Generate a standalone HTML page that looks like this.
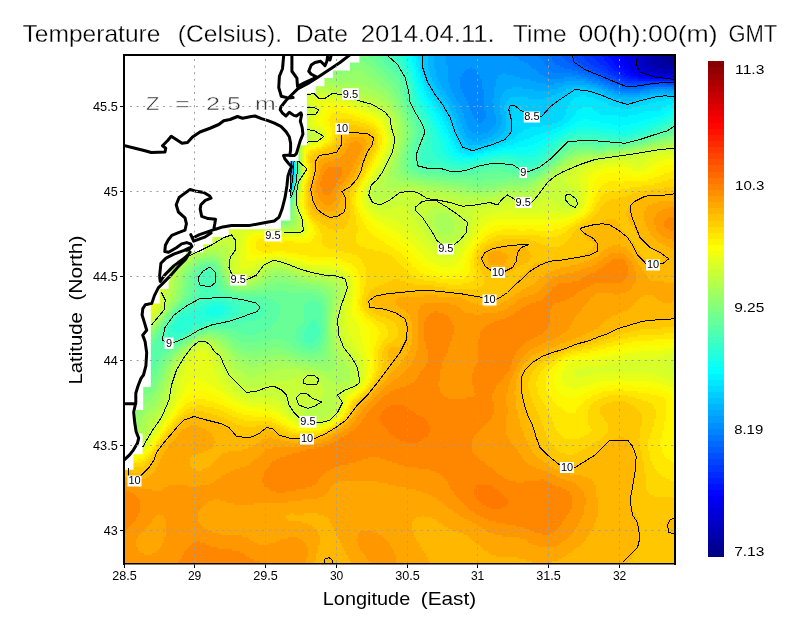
<!DOCTYPE html><html><head><meta charset="utf-8"><style>html,body{margin:0;padding:0;background:#fff;overflow:hidden}svg{display:block}</style></head><body><svg width="800" height="618" viewBox="0 0 800 618"><rect width="800" height="618" fill="#fff"/><g shape-rendering="crispEdges"><path fill="#000087" d="M668 55h7v2h-7zM672 57h3v2h-3z"/><path fill="#000097" d="M660 55h8v2h-8zM662 57h10v2h-10zM662 59h13v2h-13zM664 61h11v2h-11zM666 63h9v2h-9z"/><path fill="#0000a7" d="M650 55h10v2h-10zM652 57h10v2h-10zM652 59h10v2h-10zM652 61h12v2h-12zM654 63h12v2h-12zM656 65h19v2h-19zM660 67h15v2h-15z"/><path fill="#0000b7" d="M644 55h6v2h-6zM644 57h8v2h-8zM644 59h8v2h-8zM644 61h8v2h-8zM646 63h8v2h-8zM646 65h10v2h-10zM648 67h12v2h-12zM652 69h23v2h-23zM660 71h14v2h-14z"/><path fill="#0000c7" d="M638 55h6v2h-6zM638 57h6v2h-6zM638 59h6v2h-6zM638 61h6v2h-6zM640 63h6v2h-6zM640 65h6v2h-6zM642 67h6v2h-6zM644 69h8v2h-8zM648 71h12v2h-12zM674 71h1v2h-1zM658 73h17v2h-17z"/><path fill="#0000d7" d="M630 55h8v2h-8zM632 57h6v2h-6zM632 59h6v2h-6zM634 61h4v2h-4zM634 63h6v2h-6zM634 65h6v2h-6zM636 67h6v2h-6zM638 69h6v2h-6zM642 71h6v2h-6zM646 73h12v2h-12zM660 75h14v2h-14z"/><path fill="#0000e7" d="M622 55h8v2h-8zM624 57h8v2h-8zM626 59h6v2h-6zM626 61h8v2h-8zM628 63h6v2h-6zM630 65h4v2h-4zM630 67h6v2h-6zM632 69h6v2h-6zM636 71h6v2h-6zM640 73h6v2h-6zM648 75h12v2h-12zM674 75h1v2h-1z"/><path fill="#0000f7" d="M616 55h6v2h-6zM618 57h6v2h-6zM618 59h8v2h-8zM620 61h6v2h-6zM622 63h6v2h-6zM624 65h6v2h-6zM624 67h6v2h-6zM628 69h4v2h-4zM630 71h6v2h-6zM634 73h6v2h-6zM638 75h10v2h-10zM650 77h25v2h-25z"/><path fill="#0008ff" d="M608 55h8v2h-8zM610 57h8v2h-8zM612 59h6v2h-6zM614 61h6v2h-6zM614 63h8v2h-8zM616 65h8v2h-8zM618 67h6v2h-6zM622 69h6v2h-6zM624 71h6v2h-6zM626 73h8v2h-8zM630 75h8v2h-8zM638 77h12v2h-12z"/><path fill="#0018ff" d="M602 55h6v2h-6zM604 57h6v2h-6zM604 59h8v2h-8zM606 61h8v2h-8zM608 63h6v2h-6zM610 65h6v2h-6zM612 67h6v2h-6zM614 69h8v2h-8zM618 71h6v2h-6zM620 73h6v2h-6zM624 75h6v2h-6zM628 77h10v2h-10zM638 79h37v2h-37z"/><path fill="#0028ff" d="M592 55h10v2h-10zM594 57h10v2h-10zM596 59h8v2h-8zM598 61h8v2h-8zM600 63h8v2h-8zM604 65h6v2h-6zM606 67h6v2h-6zM608 69h6v2h-6zM610 71h8v2h-8zM614 73h6v2h-6zM618 75h6v2h-6zM622 77h6v2h-6zM626 79h12v2h-12zM670 81h5v2h-5z"/><path fill="#0038ff" d="M582 55h10v2h-10zM584 57h10v2h-10zM586 59h10v2h-10zM588 61h10v2h-10zM590 63h10v2h-10zM594 65h10v2h-10zM598 67h8v2h-8zM600 69h8v2h-8zM604 71h6v2h-6zM608 73h6v2h-6zM612 75h6v2h-6zM616 77h6v2h-6zM620 79h6v2h-6zM624 81h46v2h-46z"/><path fill="#0048ff" d="M574 55h8v2h-8zM574 57h10v2h-10zM576 59h10v2h-10zM578 61h10v2h-10zM582 63h8v2h-8zM584 65h10v2h-10zM588 67h10v2h-10zM592 69h8v2h-8zM596 71h8v2h-8zM600 73h8v2h-8zM604 75h8v2h-8zM608 77h8v2h-8zM614 79h6v2h-6zM618 81h6v2h-6zM624 83h30v2h-30zM666 83h9v2h-9z"/><path fill="#0058ff" d="M562 55h12v2h-12zM564 57h10v2h-10zM566 59h10v2h-10zM568 61h10v2h-10zM572 63h10v2h-10zM574 65h10v2h-10zM578 67h10v2h-10zM582 69h10v2h-10zM588 71h8v2h-8zM592 73h8v2h-8zM598 75h6v2h-6zM602 77h6v2h-6zM606 79h8v2h-8zM612 81h6v2h-6zM616 83h8v2h-8zM654 83h12v2h-12zM622 85h24v2h-24z"/><path fill="#0068ff" d="M550 55h12v2h-12zM552 57h12v2h-12zM552 59h14v2h-14zM554 61h14v2h-14zM556 63h16v2h-16zM560 65h14v2h-14zM564 67h14v2h-14zM572 69h10v2h-10zM578 71h10v2h-10zM584 73h8v2h-8zM590 75h8v2h-8zM596 77h6v2h-6zM600 79h6v2h-6zM606 81h6v2h-6zM610 83h6v2h-6zM616 85h6v2h-6zM646 85h29v2h-29zM622 87h22v2h-22zM290 167h2v2h-2zM290 169h2v2h-2zM290 171h2v2h-2z"/><path fill="#0078ff" d="M538 55h12v2h-12zM540 57h12v2h-12zM542 59h10v2h-10zM544 61h10v2h-10zM544 63h12v2h-12zM546 65h14v2h-14zM548 67h16v2h-16zM550 69h22v2h-22zM552 71h26v2h-26zM572 73h12v2h-12zM580 75h10v2h-10zM588 77h8v2h-8zM594 79h6v2h-6zM600 81h6v2h-6zM604 83h6v2h-6zM610 85h6v2h-6zM614 87h8v2h-8zM644 87h10v2h-10zM672 87h3v2h-3zM620 89h22v2h-22zM290 163h2v2h-2zM290 165h2v2h-2zM290 173h2v2h-2zM290 175h2v2h-2z"/><path fill="#0087ff" d="M514 55h24v2h-24zM518 57h22v2h-22zM520 59h22v2h-22zM524 61h20v2h-20zM528 63h16v2h-16zM530 65h16v2h-16zM470 67h2v2h-2zM532 67h16v2h-16zM466 69h10v2h-10zM536 69h14v2h-14zM464 71h14v2h-14zM538 71h14v2h-14zM462 73h16v2h-16zM540 73h32v2h-32zM462 75h18v2h-18zM544 75h36v2h-36zM460 77h20v2h-20zM548 77h16v2h-16zM576 77h12v2h-12zM460 79h22v2h-22zM586 79h8v2h-8zM460 81h22v2h-22zM592 81h8v2h-8zM460 83h22v2h-22zM598 83h6v2h-6zM460 85h22v2h-22zM604 85h6v2h-6zM460 87h22v2h-22zM608 87h6v2h-6zM654 87h18v2h-18zM462 89h22v2h-22zM614 89h6v2h-6zM642 89h8v2h-8zM462 91h22v2h-22zM620 91h20v2h-20zM464 93h20v2h-20zM464 95h20v2h-20zM466 97h18v2h-18zM466 99h18v2h-18zM468 101h16v2h-16zM468 103h16v2h-16zM470 105h14v2h-14zM470 107h14v2h-14zM470 109h14v2h-14zM472 111h14v2h-14zM472 113h14v2h-14zM474 115h12v2h-12zM474 117h12v2h-12zM476 119h8v2h-8zM478 121h4v2h-4zM290 161h2v2h-2zM290 177h2v2h-2zM290 179h2v2h-2z"/><path fill="#0097ff" d="M446 55h68v2h-68zM446 57h72v2h-72zM446 59h74v2h-74zM446 61h78v2h-78zM446 63h82v2h-82zM448 65h82v2h-82zM448 67h22v2h-22zM472 67h60v2h-60zM448 69h18v2h-18zM476 69h60v2h-60zM448 71h16v2h-16zM478 71h60v2h-60zM448 73h14v2h-14zM478 73h24v2h-24zM506 73h34v2h-34zM448 75h14v2h-14zM480 75h18v2h-18zM514 75h30v2h-30zM448 77h12v2h-12zM480 77h18v2h-18zM520 77h28v2h-28zM564 77h12v2h-12zM448 79h12v2h-12zM482 79h14v2h-14zM530 79h56v2h-56zM448 81h12v2h-12zM482 81h14v2h-14zM536 81h28v2h-28zM584 81h8v2h-8zM450 83h10v2h-10zM482 83h14v2h-14zM546 83h8v2h-8zM590 83h8v2h-8zM450 85h10v2h-10zM482 85h14v2h-14zM598 85h6v2h-6zM450 87h10v2h-10zM482 87h12v2h-12zM602 87h6v2h-6zM452 89h10v2h-10zM484 89h10v2h-10zM608 89h6v2h-6zM650 89h25v2h-25zM452 91h10v2h-10zM484 91h10v2h-10zM614 91h6v2h-6zM640 91h10v2h-10zM454 93h10v2h-10zM484 93h10v2h-10zM618 93h22v2h-22zM454 95h10v2h-10zM484 95h10v2h-10zM456 97h10v2h-10zM484 97h10v2h-10zM456 99h10v2h-10zM484 99h8v2h-8zM458 101h10v2h-10zM484 101h8v2h-8zM460 103h8v2h-8zM484 103h10v2h-10zM460 105h10v2h-10zM484 105h10v2h-10zM460 107h10v2h-10zM484 107h10v2h-10zM462 109h8v2h-8zM484 109h10v2h-10zM462 111h10v2h-10zM486 111h8v2h-8zM464 113h8v2h-8zM486 113h8v2h-8zM464 115h10v2h-10zM486 115h10v2h-10zM464 117h10v2h-10zM486 117h10v2h-10zM466 119h10v2h-10zM484 119h12v2h-12zM466 121h12v2h-12zM482 121h14v2h-14zM466 123h30v2h-30zM468 125h26v2h-26zM468 127h24v2h-24zM470 129h20v2h-20zM472 131h16v2h-16zM476 133h6v2h-6zM290 181h2v2h-2zM290 183h2v2h-2z"/><path fill="#00a7ff" d="M434 55h12v2h-12zM434 57h12v2h-12zM434 59h12v2h-12zM434 61h12v2h-12zM434 63h12v2h-12zM434 65h14v2h-14zM434 67h14v2h-14zM436 69h12v2h-12zM436 71h12v2h-12zM436 73h12v2h-12zM502 73h4v2h-4zM436 75h12v2h-12zM498 75h16v2h-16zM438 77h10v2h-10zM498 77h22v2h-22zM438 79h10v2h-10zM496 79h34v2h-34zM440 81h8v2h-8zM496 81h40v2h-40zM564 81h20v2h-20zM440 83h10v2h-10zM496 83h50v2h-50zM554 83h36v2h-36zM442 85h8v2h-8zM496 85h68v2h-68zM590 85h8v2h-8zM442 87h8v2h-8zM494 87h18v2h-18zM522 87h36v2h-36zM596 87h6v2h-6zM444 89h8v2h-8zM494 89h12v2h-12zM534 89h16v2h-16zM602 89h6v2h-6zM446 91h6v2h-6zM494 91h10v2h-10zM606 91h8v2h-8zM650 91h25v2h-25zM446 93h8v2h-8zM494 93h8v2h-8zM612 93h6v2h-6zM640 93h10v2h-10zM448 95h6v2h-6zM494 95h8v2h-8zM618 95h22v2h-22zM450 97h6v2h-6zM494 97h6v2h-6zM450 99h6v2h-6zM492 99h8v2h-8zM452 101h6v2h-6zM492 101h8v2h-8zM452 103h8v2h-8zM494 103h6v2h-6zM454 105h6v2h-6zM494 105h6v2h-6zM454 107h6v2h-6zM494 107h6v2h-6zM456 109h6v2h-6zM494 109h6v2h-6zM456 111h6v2h-6zM494 111h6v2h-6zM458 113h6v2h-6zM494 113h6v2h-6zM458 115h6v2h-6zM496 115h6v2h-6zM460 117h4v2h-4zM496 117h6v2h-6zM460 119h6v2h-6zM496 119h6v2h-6zM460 121h6v2h-6zM496 121h6v2h-6zM462 123h4v2h-4zM496 123h6v2h-6zM462 125h6v2h-6zM494 125h6v2h-6zM462 127h6v2h-6zM492 127h8v2h-8zM464 129h6v2h-6zM490 129h8v2h-8zM464 131h8v2h-8zM488 131h10v2h-10zM466 133h10v2h-10zM482 133h12v2h-12zM466 135h26v2h-26zM468 137h20v2h-20zM472 139h10v2h-10zM292 167h2v2h-2zM292 169h2v2h-2zM292 171h2v2h-2zM290 185h2v2h-2z"/><path fill="#00b7ff" d="M428 55h6v2h-6zM428 57h6v2h-6zM428 59h6v2h-6zM428 61h6v2h-6zM428 63h6v2h-6zM428 65h6v2h-6zM428 67h6v2h-6zM428 69h8v2h-8zM430 71h6v2h-6zM430 73h6v2h-6zM430 75h6v2h-6zM432 77h6v2h-6zM432 79h6v2h-6zM434 81h6v2h-6zM434 83h6v2h-6zM436 85h6v2h-6zM564 85h26v2h-26zM436 87h6v2h-6zM512 87h10v2h-10zM558 87h14v2h-14zM586 87h10v2h-10zM438 89h6v2h-6zM506 89h28v2h-28zM550 89h16v2h-16zM594 89h8v2h-8zM440 91h6v2h-6zM504 91h58v2h-58zM600 91h6v2h-6zM440 93h6v2h-6zM502 93h54v2h-54zM604 93h8v2h-8zM650 93h25v2h-25zM442 95h6v2h-6zM502 95h50v2h-50zM610 95h8v2h-8zM640 95h10v2h-10zM444 97h6v2h-6zM500 97h10v2h-10zM528 97h18v2h-18zM614 97h28v2h-28zM444 99h6v2h-6zM500 99h8v2h-8zM622 99h12v2h-12zM446 101h6v2h-6zM500 101h6v2h-6zM448 103h4v2h-4zM500 103h6v2h-6zM448 105h6v2h-6zM500 105h4v2h-4zM450 107h4v2h-4zM500 107h4v2h-4zM450 109h6v2h-6zM500 109h4v2h-4zM452 111h4v2h-4zM500 111h6v2h-6zM452 113h6v2h-6zM500 113h6v2h-6zM454 115h4v2h-4zM502 115h4v2h-4zM454 117h6v2h-6zM502 117h4v2h-4zM456 119h4v2h-4zM502 119h4v2h-4zM456 121h4v2h-4zM502 121h4v2h-4zM456 123h6v2h-6zM502 123h4v2h-4zM458 125h4v2h-4zM500 125h6v2h-6zM458 127h4v2h-4zM500 127h6v2h-6zM458 129h6v2h-6zM498 129h8v2h-8zM460 131h4v2h-4zM498 131h6v2h-6zM460 133h6v2h-6zM494 133h8v2h-8zM462 135h4v2h-4zM492 135h8v2h-8zM462 137h6v2h-6zM488 137h10v2h-10zM464 139h8v2h-8zM482 139h12v2h-12zM466 141h22v2h-22zM468 143h14v2h-14zM292 161h2v2h-2zM292 163h2v2h-2zM292 165h2v2h-2zM292 173h2v2h-2zM292 175h2v2h-2zM290 187h2v2h-2z"/><path fill="#00c7ff" d="M422 55h6v2h-6zM422 57h6v2h-6zM422 59h6v2h-6zM424 61h4v2h-4zM424 63h4v2h-4zM424 65h4v2h-4zM424 67h4v2h-4zM424 69h4v2h-4zM424 71h6v2h-6zM426 73h4v2h-4zM426 75h4v2h-4zM426 77h6v2h-6zM428 79h4v2h-4zM428 81h6v2h-6zM430 83h4v2h-4zM430 85h6v2h-6zM432 87h4v2h-4zM572 87h14v2h-14zM432 89h6v2h-6zM566 89h28v2h-28zM434 91h6v2h-6zM562 91h10v2h-10zM590 91h10v2h-10zM436 93h4v2h-4zM556 93h12v2h-12zM596 93h8v2h-8zM436 95h6v2h-6zM552 95h14v2h-14zM602 95h8v2h-8zM650 95h25v2h-25zM438 97h6v2h-6zM510 97h18v2h-18zM546 97h16v2h-16zM606 97h8v2h-8zM642 97h12v2h-12zM440 99h4v2h-4zM508 99h52v2h-52zM612 99h10v2h-10zM634 99h12v2h-12zM440 101h6v2h-6zM506 101h52v2h-52zM616 101h22v2h-22zM442 103h6v2h-6zM506 103h50v2h-50zM626 103h2v2h-2zM444 105h4v2h-4zM504 105h50v2h-50zM444 107h6v2h-6zM504 107h8v2h-8zM522 107h30v2h-30zM446 109h4v2h-4zM504 109h8v2h-8zM524 109h26v2h-26zM448 111h4v2h-4zM506 111h6v2h-6zM528 111h20v2h-20zM448 113h4v2h-4zM506 113h6v2h-6zM532 113h12v2h-12zM450 115h4v2h-4zM506 115h6v2h-6zM450 117h4v2h-4zM506 117h6v2h-6zM450 119h6v2h-6zM506 119h6v2h-6zM452 121h4v2h-4zM506 121h6v2h-6zM452 123h4v2h-4zM506 123h6v2h-6zM454 125h4v2h-4zM506 125h6v2h-6zM454 127h4v2h-4zM506 127h6v2h-6zM454 129h4v2h-4zM506 129h6v2h-6zM456 131h4v2h-4zM504 131h6v2h-6zM456 133h4v2h-4zM502 133h8v2h-8zM458 135h4v2h-4zM500 135h8v2h-8zM458 137h4v2h-4zM498 137h8v2h-8zM460 139h4v2h-4zM494 139h8v2h-8zM460 141h6v2h-6zM488 141h10v2h-10zM462 143h6v2h-6zM482 143h10v2h-10zM464 145h22v2h-22zM468 147h10v2h-10zM292 177h2v2h-2zM292 179h2v2h-2zM290 189h2v2h-2z"/><path fill="#00d7ff" d="M418 55h4v2h-4zM418 57h4v2h-4zM420 59h2v2h-2zM420 61h4v2h-4zM420 63h4v2h-4zM420 65h4v2h-4zM420 67h4v2h-4zM420 69h4v2h-4zM422 71h2v2h-2zM422 73h4v2h-4zM422 75h4v2h-4zM424 77h2v2h-2zM424 79h4v2h-4zM424 81h4v2h-4zM426 83h4v2h-4zM426 85h4v2h-4zM428 87h4v2h-4zM428 89h4v2h-4zM430 91h4v2h-4zM572 91h18v2h-18zM430 93h6v2h-6zM568 93h28v2h-28zM432 95h4v2h-4zM566 95h14v2h-14zM586 95h16v2h-16zM434 97h4v2h-4zM562 97h12v2h-12zM594 97h12v2h-12zM654 97h21v2h-21zM434 99h6v2h-6zM560 99h12v2h-12zM598 99h14v2h-14zM646 99h20v2h-20zM672 99h3v2h-3zM436 101h4v2h-4zM558 101h12v2h-12zM604 101h12v2h-12zM638 101h18v2h-18zM438 103h4v2h-4zM556 103h14v2h-14zM608 103h18v2h-18zM628 103h20v2h-20zM438 105h6v2h-6zM554 105h14v2h-14zM612 105h28v2h-28zM440 107h4v2h-4zM512 107h10v2h-10zM552 107h16v2h-16zM620 107h12v2h-12zM442 109h4v2h-4zM512 109h12v2h-12zM550 109h16v2h-16zM442 111h6v2h-6zM512 111h16v2h-16zM548 111h18v2h-18zM444 113h4v2h-4zM512 113h20v2h-20zM544 113h22v2h-22zM444 115h6v2h-6zM512 115h52v2h-52zM446 117h4v2h-4zM512 117h52v2h-52zM446 119h4v2h-4zM512 119h50v2h-50zM448 121h4v2h-4zM512 121h46v2h-46zM448 123h4v2h-4zM512 123h40v2h-40zM450 125h4v2h-4zM512 125h30v2h-30zM450 127h4v2h-4zM512 127h18v2h-18zM452 129h2v2h-2zM512 129h12v2h-12zM452 131h4v2h-4zM510 131h12v2h-12zM454 133h2v2h-2zM510 133h8v2h-8zM454 135h4v2h-4zM508 135h8v2h-8zM456 137h2v2h-2zM506 137h8v2h-8zM456 139h4v2h-4zM502 139h8v2h-8zM456 141h4v2h-4zM498 141h8v2h-8zM458 143h4v2h-4zM492 143h10v2h-10zM460 145h4v2h-4zM486 145h10v2h-10zM460 147h8v2h-8zM478 147h10v2h-10zM464 149h18v2h-18zM292 181h2v2h-2zM290 191h2v2h-2z"/><path fill="#00e7ff" d="M414 55h4v2h-4zM416 57h2v2h-2zM416 59h4v2h-4zM416 61h4v2h-4zM416 63h4v2h-4zM416 65h4v2h-4zM418 67h2v2h-2zM418 69h2v2h-2zM418 71h4v2h-4zM420 73h2v2h-2zM420 75h2v2h-2zM420 77h4v2h-4zM422 79h2v2h-2zM422 81h2v2h-2zM422 83h4v2h-4zM424 85h2v2h-2zM424 87h4v2h-4zM424 89h4v2h-4zM426 91h4v2h-4zM426 93h4v2h-4zM428 95h4v2h-4zM580 95h6v2h-6zM428 97h6v2h-6zM574 97h20v2h-20zM430 99h4v2h-4zM572 99h26v2h-26zM666 99h6v2h-6zM432 101h4v2h-4zM570 101h34v2h-34zM656 101h19v2h-19zM432 103h6v2h-6zM570 103h38v2h-38zM648 103h24v2h-24zM434 105h4v2h-4zM568 105h44v2h-44zM640 105h26v2h-26zM436 107h4v2h-4zM568 107h14v2h-14zM592 107h28v2h-28zM632 107h30v2h-30zM436 109h6v2h-6zM566 109h12v2h-12zM594 109h66v2h-66zM438 111h4v2h-4zM566 111h10v2h-10zM598 111h46v2h-46zM440 113h4v2h-4zM566 113h10v2h-10zM600 113h38v2h-38zM440 115h4v2h-4zM564 115h10v2h-10zM618 115h10v2h-10zM442 117h4v2h-4zM564 117h8v2h-8zM442 119h4v2h-4zM562 119h8v2h-8zM444 121h4v2h-4zM558 121h10v2h-10zM444 123h4v2h-4zM552 123h12v2h-12zM446 125h4v2h-4zM542 125h20v2h-20zM446 127h4v2h-4zM530 127h26v2h-26zM448 129h4v2h-4zM524 129h28v2h-28zM448 131h4v2h-4zM522 131h24v2h-24zM450 133h4v2h-4zM518 133h22v2h-22zM450 135h4v2h-4zM516 135h18v2h-18zM452 137h4v2h-4zM514 137h16v2h-16zM452 139h4v2h-4zM510 139h14v2h-14zM454 141h2v2h-2zM506 141h12v2h-12zM454 143h4v2h-4zM502 143h12v2h-12zM456 145h4v2h-4zM496 145h10v2h-10zM456 147h4v2h-4zM488 147h10v2h-10zM458 149h6v2h-6zM482 149h10v2h-10zM460 151h24v2h-24zM466 153h8v2h-8zM292 183h2v2h-2zM292 185h2v2h-2z"/><path fill="#00f7ff" d="M412 55h2v2h-2zM412 57h4v2h-4zM412 59h4v2h-4zM412 61h4v2h-4zM414 63h2v2h-2zM414 65h2v2h-2zM414 67h4v2h-4zM416 69h2v2h-2zM416 71h2v2h-2zM416 73h4v2h-4zM416 75h4v2h-4zM418 77h2v2h-2zM418 79h4v2h-4zM418 81h4v2h-4zM420 83h2v2h-2zM420 85h4v2h-4zM420 87h4v2h-4zM422 89h2v2h-2zM422 91h4v2h-4zM424 93h2v2h-2zM424 95h4v2h-4zM426 97h2v2h-2zM426 99h4v2h-4zM428 101h4v2h-4zM428 103h4v2h-4zM672 103h3v2h-3zM430 105h4v2h-4zM666 105h9v2h-9zM432 107h4v2h-4zM582 107h10v2h-10zM662 107h13v2h-13zM432 109h4v2h-4zM578 109h16v2h-16zM660 109h10v2h-10zM434 111h4v2h-4zM576 111h22v2h-22zM644 111h22v2h-22zM436 113h4v2h-4zM576 113h24v2h-24zM638 113h26v2h-26zM436 115h4v2h-4zM574 115h44v2h-44zM628 115h32v2h-32zM438 117h4v2h-4zM572 117h80v2h-80zM438 119h4v2h-4zM570 119h12v2h-12zM590 119h54v2h-54zM440 121h4v2h-4zM568 121h8v2h-8zM600 121h38v2h-38zM440 123h4v2h-4zM564 123h10v2h-10zM612 123h18v2h-18zM442 125h4v2h-4zM562 125h8v2h-8zM442 127h4v2h-4zM556 127h10v2h-10zM444 129h4v2h-4zM552 129h10v2h-10zM444 131h4v2h-4zM546 131h12v2h-12zM446 133h4v2h-4zM540 133h14v2h-14zM448 135h2v2h-2zM534 135h16v2h-16zM448 137h4v2h-4zM530 137h16v2h-16zM450 139h2v2h-2zM524 139h18v2h-18zM450 141h4v2h-4zM518 141h20v2h-20zM450 143h4v2h-4zM514 143h20v2h-20zM452 145h4v2h-4zM506 145h22v2h-22zM452 147h4v2h-4zM498 147h18v2h-18zM454 149h4v2h-4zM492 149h10v2h-10zM454 151h6v2h-6zM484 151h8v2h-8zM458 153h8v2h-8zM474 153h10v2h-10zM462 155h14v2h-14zM294 163h2v2h-2zM294 165h2v2h-2zM294 167h2v2h-2zM294 169h2v2h-2zM294 171h2v2h-2zM294 173h2v2h-2zM294 175h2v2h-2zM292 187h2v2h-2zM290 193h2v2h-2z"/><path fill="#08fff7" d="M408 55h4v2h-4zM408 57h4v2h-4zM408 59h4v2h-4zM410 61h2v2h-2zM410 63h4v2h-4zM412 65h2v2h-2zM412 67h2v2h-2zM412 69h4v2h-4zM414 71h2v2h-2zM414 73h2v2h-2zM414 75h2v2h-2zM414 77h4v2h-4zM416 79h2v2h-2zM416 81h2v2h-2zM416 83h4v2h-4zM418 85h2v2h-2zM418 87h2v2h-2zM418 89h4v2h-4zM420 91h2v2h-2zM420 93h4v2h-4zM420 95h4v2h-4zM422 97h4v2h-4zM422 99h4v2h-4zM424 101h4v2h-4zM424 103h4v2h-4zM426 105h4v2h-4zM428 107h4v2h-4zM428 109h4v2h-4zM670 109h5v2h-5zM430 111h4v2h-4zM666 111h9v2h-9zM432 113h4v2h-4zM664 113h8v2h-8zM432 115h4v2h-4zM660 115h8v2h-8zM434 117h4v2h-4zM652 117h12v2h-12zM434 119h4v2h-4zM582 119h8v2h-8zM644 119h16v2h-16zM436 121h4v2h-4zM576 121h24v2h-24zM638 121h18v2h-18zM436 123h4v2h-4zM574 123h38v2h-38zM630 123h20v2h-20zM438 125h4v2h-4zM570 125h14v2h-14zM588 125h56v2h-56zM438 127h4v2h-4zM566 127h10v2h-10zM602 127h34v2h-34zM440 129h4v2h-4zM562 129h8v2h-8zM616 129h12v2h-12zM440 131h4v2h-4zM558 131h8v2h-8zM442 133h4v2h-4zM554 133h8v2h-8zM442 135h6v2h-6zM550 135h8v2h-8zM444 137h4v2h-4zM546 137h8v2h-8zM444 139h6v2h-6zM542 139h10v2h-10zM446 141h4v2h-4zM538 141h10v2h-10zM446 143h4v2h-4zM534 143h12v2h-12zM446 145h6v2h-6zM528 145h14v2h-14zM448 147h4v2h-4zM516 147h24v2h-24zM448 149h6v2h-6zM502 149h34v2h-34zM450 151h4v2h-4zM492 151h38v2h-38zM452 153h6v2h-6zM484 153h12v2h-12zM454 155h8v2h-8zM476 155h10v2h-10zM458 157h20v2h-20zM294 161h2v2h-2zM294 177h2v2h-2zM292 189h2v2h-2zM290 195h2v2h-2z"/><path fill="#18ffe7" d="M404 55h4v2h-4zM404 57h4v2h-4zM406 59h2v2h-2zM406 61h4v2h-4zM408 63h2v2h-2zM408 65h4v2h-4zM408 67h4v2h-4zM410 69h2v2h-2zM410 71h4v2h-4zM412 73h2v2h-2zM412 75h2v2h-2zM412 77h2v2h-2zM412 79h4v2h-4zM414 81h2v2h-2zM414 83h2v2h-2zM414 85h4v2h-4zM416 87h2v2h-2zM416 89h2v2h-2zM416 91h4v2h-4zM416 93h4v2h-4zM418 95h2v2h-2zM418 97h4v2h-4zM418 99h4v2h-4zM420 101h4v2h-4zM420 103h4v2h-4zM422 105h4v2h-4zM424 107h4v2h-4zM424 109h4v2h-4zM426 111h4v2h-4zM426 113h6v2h-6zM672 113h3v2h-3zM428 115h4v2h-4zM668 115h7v2h-7zM430 117h4v2h-4zM664 117h8v2h-8zM430 119h4v2h-4zM660 119h8v2h-8zM432 121h4v2h-4zM656 121h8v2h-8zM432 123h4v2h-4zM650 123h10v2h-10zM434 125h4v2h-4zM584 125h4v2h-4zM644 125h12v2h-12zM434 127h4v2h-4zM576 127h26v2h-26zM636 127h14v2h-14zM436 129h4v2h-4zM570 129h46v2h-46zM628 129h16v2h-16zM436 131h4v2h-4zM566 131h10v2h-10zM600 131h38v2h-38zM436 133h6v2h-6zM562 133h6v2h-6zM614 133h16v2h-16zM438 135h4v2h-4zM558 135h6v2h-6zM438 137h6v2h-6zM554 137h6v2h-6zM438 139h6v2h-6zM552 139h6v2h-6zM440 141h6v2h-6zM548 141h6v2h-6zM440 143h6v2h-6zM546 143h6v2h-6zM440 145h6v2h-6zM542 145h8v2h-8zM440 147h8v2h-8zM540 147h8v2h-8zM442 149h6v2h-6zM536 149h10v2h-10zM442 151h8v2h-8zM530 151h12v2h-12zM444 153h8v2h-8zM496 153h44v2h-44zM446 155h8v2h-8zM486 155h14v2h-14zM514 155h22v2h-22zM448 157h10v2h-10zM478 157h10v2h-10zM452 159h26v2h-26zM460 161h8v2h-8zM294 179h2v2h-2zM294 181h2v2h-2zM292 191h2v2h-2zM212 305h12v2h-12zM208 307h16v2h-16zM206 309h20v2h-20zM206 311h18v2h-18zM206 313h18v2h-18zM210 315h8v2h-8z"/><path fill="#28ffd7" d="M398 55h6v2h-6zM400 57h4v2h-4zM402 59h4v2h-4zM402 61h4v2h-4zM404 63h4v2h-4zM404 65h4v2h-4zM406 67h2v2h-2zM406 69h4v2h-4zM408 71h2v2h-2zM408 73h4v2h-4zM408 75h4v2h-4zM410 77h2v2h-2zM410 79h2v2h-2zM410 81h4v2h-4zM412 83h2v2h-2zM412 85h2v2h-2zM412 87h4v2h-4zM412 89h4v2h-4zM414 91h2v2h-2zM414 93h2v2h-2zM414 95h4v2h-4zM416 97h2v2h-2zM416 99h2v2h-2zM416 101h4v2h-4zM418 103h2v2h-2zM418 105h4v2h-4zM420 107h4v2h-4zM420 109h4v2h-4zM422 111h4v2h-4zM422 113h4v2h-4zM424 115h4v2h-4zM426 117h4v2h-4zM672 117h3v2h-3zM426 119h4v2h-4zM668 119h7v2h-7zM428 121h4v2h-4zM664 121h8v2h-8zM428 123h4v2h-4zM660 123h8v2h-8zM430 125h4v2h-4zM656 125h8v2h-8zM430 127h4v2h-4zM650 127h10v2h-10zM430 129h6v2h-6zM644 129h10v2h-10zM432 131h4v2h-4zM576 131h24v2h-24zM638 131h10v2h-10zM432 133h4v2h-4zM568 133h46v2h-46zM630 133h12v2h-12zM432 135h6v2h-6zM564 135h10v2h-10zM600 135h34v2h-34zM432 137h6v2h-6zM560 137h8v2h-8zM432 139h6v2h-6zM558 139h6v2h-6zM432 141h8v2h-8zM554 141h6v2h-6zM432 143h8v2h-8zM552 143h6v2h-6zM432 145h8v2h-8zM550 145h6v2h-6zM432 147h8v2h-8zM548 147h6v2h-6zM432 149h10v2h-10zM546 149h6v2h-6zM432 151h10v2h-10zM542 151h6v2h-6zM434 153h10v2h-10zM540 153h6v2h-6zM434 155h12v2h-12zM500 155h14v2h-14zM536 155h8v2h-8zM438 157h10v2h-10zM488 157h54v2h-54zM442 159h10v2h-10zM478 159h12v2h-12zM516 159h22v2h-22zM446 161h14v2h-14zM468 161h12v2h-12zM522 161h12v2h-12zM450 163h22v2h-22zM294 183h2v2h-2zM292 193h2v2h-2zM290 197h2v2h-2zM212 301h10v2h-10zM206 303h22v2h-22zM202 305h10v2h-10zM224 305h6v2h-6zM200 307h8v2h-8zM224 307h8v2h-8zM196 309h10v2h-10zM226 309h6v2h-6zM192 311h14v2h-14zM224 311h6v2h-6zM188 313h18v2h-18zM224 313h6v2h-6zM184 315h26v2h-26zM218 315h8v2h-8zM180 317h44v2h-44zM178 319h36v2h-36zM176 321h26v2h-26zM176 323h20v2h-20zM174 325h18v2h-18zM174 327h16v2h-16zM174 329h12v2h-12zM174 331h8v2h-8z"/><path fill="#38ffc7" d="M394 55h4v2h-4zM394 57h6v2h-6zM396 59h6v2h-6zM398 61h4v2h-4zM400 63h4v2h-4zM400 65h4v2h-4zM402 67h4v2h-4zM402 69h4v2h-4zM404 71h4v2h-4zM404 73h4v2h-4zM406 75h2v2h-2zM406 77h4v2h-4zM408 79h2v2h-2zM408 81h2v2h-2zM408 83h4v2h-4zM410 85h2v2h-2zM410 87h2v2h-2zM410 89h2v2h-2zM410 91h4v2h-4zM410 93h4v2h-4zM412 95h2v2h-2zM412 97h4v2h-4zM412 99h4v2h-4zM414 101h2v2h-2zM414 103h4v2h-4zM414 105h4v2h-4zM416 107h4v2h-4zM416 109h4v2h-4zM418 111h4v2h-4zM420 113h2v2h-2zM420 115h4v2h-4zM422 117h4v2h-4zM422 119h4v2h-4zM424 121h4v2h-4zM672 121h3v2h-3zM424 123h4v2h-4zM668 123h7v2h-7zM426 125h4v2h-4zM664 125h6v2h-6zM426 127h4v2h-4zM660 127h6v2h-6zM426 129h4v2h-4zM654 129h8v2h-8zM426 131h6v2h-6zM648 131h8v2h-8zM426 133h6v2h-6zM642 133h8v2h-8zM426 135h6v2h-6zM574 135h26v2h-26zM634 135h10v2h-10zM426 137h6v2h-6zM568 137h68v2h-68zM426 139h6v2h-6zM564 139h6v2h-6zM608 139h20v2h-20zM426 141h6v2h-6zM560 141h6v2h-6zM424 143h8v2h-8zM558 143h4v2h-4zM424 145h8v2h-8zM556 145h4v2h-4zM424 147h8v2h-8zM554 147h4v2h-4zM422 149h10v2h-10zM552 149h4v2h-4zM422 151h10v2h-10zM548 151h6v2h-6zM422 153h12v2h-12zM546 153h6v2h-6zM422 155h12v2h-12zM544 155h6v2h-6zM422 157h16v2h-16zM542 157h6v2h-6zM422 159h20v2h-20zM490 159h26v2h-26zM538 159h6v2h-6zM424 161h22v2h-22zM480 161h16v2h-16zM506 161h16v2h-16zM534 161h8v2h-8zM432 163h18v2h-18zM472 163h12v2h-12zM516 163h22v2h-22zM296 165h2v2h-2zM442 165h34v2h-34zM520 165h14v2h-14zM296 167h2v2h-2zM450 167h18v2h-18zM296 169h2v2h-2zM296 171h2v2h-2zM296 173h2v2h-2zM296 175h2v2h-2zM294 185h2v2h-2zM294 187h2v2h-2zM290 199h2v2h-2zM214 297h4v2h-4zM206 299h22v2h-22zM200 301h12v2h-12zM222 301h12v2h-12zM196 303h10v2h-10zM228 303h10v2h-10zM192 305h10v2h-10zM230 305h10v2h-10zM190 307h10v2h-10zM232 307h8v2h-8zM186 309h10v2h-10zM232 309h8v2h-8zM182 311h10v2h-10zM230 311h10v2h-10zM180 313h8v2h-8zM230 313h8v2h-8zM178 315h6v2h-6zM226 315h8v2h-8zM176 317h4v2h-4zM224 317h8v2h-8zM174 319h4v2h-4zM214 319h14v2h-14zM172 321h4v2h-4zM202 321h18v2h-18zM172 323h4v2h-4zM196 323h12v2h-12zM170 325h4v2h-4zM192 325h10v2h-10zM168 327h6v2h-6zM190 327h6v2h-6zM168 329h6v2h-6zM186 329h6v2h-6zM168 331h6v2h-6zM182 331h8v2h-8zM168 333h18v2h-18zM168 335h14v2h-14zM168 337h10v2h-10z"/><path fill="#48ffb7" d="M386 55h8v2h-8zM388 57h6v2h-6zM390 59h6v2h-6zM392 61h6v2h-6zM394 63h6v2h-6zM394 65h6v2h-6zM396 67h6v2h-6zM398 69h4v2h-4zM400 71h4v2h-4zM400 73h4v2h-4zM402 75h4v2h-4zM402 77h4v2h-4zM404 79h4v2h-4zM404 81h4v2h-4zM406 83h2v2h-2zM406 85h4v2h-4zM406 87h4v2h-4zM406 89h4v2h-4zM408 91h2v2h-2zM408 93h2v2h-2zM408 95h4v2h-4zM408 97h4v2h-4zM410 99h2v2h-2zM410 101h4v2h-4zM410 103h4v2h-4zM412 105h2v2h-2zM412 107h4v2h-4zM414 109h2v2h-2zM414 111h4v2h-4zM416 113h4v2h-4zM416 115h4v2h-4zM418 117h4v2h-4zM418 119h4v2h-4zM420 121h4v2h-4zM420 123h4v2h-4zM422 125h4v2h-4zM670 125h5v2h-5zM422 127h4v2h-4zM666 127h8v2h-8zM422 129h4v2h-4zM662 129h8v2h-8zM422 131h4v2h-4zM656 131h8v2h-8zM422 133h4v2h-4zM650 133h8v2h-8zM422 135h4v2h-4zM644 135h8v2h-8zM422 137h4v2h-4zM636 137h8v2h-8zM420 139h6v2h-6zM570 139h38v2h-38zM628 139h10v2h-10zM420 141h6v2h-6zM566 141h10v2h-10zM592 141h36v2h-36zM420 143h4v2h-4zM562 143h6v2h-6zM418 145h6v2h-6zM560 145h6v2h-6zM418 147h6v2h-6zM558 147h4v2h-4zM416 149h6v2h-6zM556 149h4v2h-4zM416 151h6v2h-6zM554 151h4v2h-4zM416 153h6v2h-6zM552 153h4v2h-4zM416 155h6v2h-6zM550 155h4v2h-4zM416 157h6v2h-6zM548 157h4v2h-4zM416 159h6v2h-6zM544 159h6v2h-6zM296 161h2v2h-2zM416 161h8v2h-8zM496 161h10v2h-10zM542 161h4v2h-4zM296 163h2v2h-2zM418 163h14v2h-14zM484 163h32v2h-32zM538 163h6v2h-6zM418 165h24v2h-24zM476 165h16v2h-16zM504 165h16v2h-16zM534 165h8v2h-8zM424 167h26v2h-26zM468 167h14v2h-14zM514 167h24v2h-24zM440 169h34v2h-34zM518 169h16v2h-16zM452 171h12v2h-12zM296 177h2v2h-2zM294 189h2v2h-2zM292 195h2v2h-2zM290 201h2v2h-2zM206 269h4v2h-4zM202 271h12v2h-12zM200 273h14v2h-14zM200 275h14v2h-14zM198 277h18v2h-18zM198 279h18v2h-18zM198 281h18v2h-18zM198 283h18v2h-18zM198 285h18v2h-18zM200 287h16v2h-16zM200 289h16v2h-16zM200 291h18v2h-18zM200 293h20v2h-20zM198 295h28v2h-28zM196 297h18v2h-18zM218 297h16v2h-16zM194 299h12v2h-12zM228 299h14v2h-14zM192 301h8v2h-8zM234 301h20v2h-20zM188 303h8v2h-8zM238 303h22v2h-22zM186 305h6v2h-6zM240 305h22v2h-22zM184 307h6v2h-6zM240 307h24v2h-24zM180 309h6v2h-6zM240 309h24v2h-24zM178 311h4v2h-4zM240 311h24v2h-24zM176 313h4v2h-4zM238 313h26v2h-26zM174 315h4v2h-4zM234 315h28v2h-28zM172 317h4v2h-4zM232 317h28v2h-28zM170 319h4v2h-4zM228 319h28v2h-28zM312 319h4v2h-4zM170 321h2v2h-2zM220 321h26v2h-26zM310 321h6v2h-6zM168 323h4v2h-4zM208 323h20v2h-20zM310 323h8v2h-8zM166 325h4v2h-4zM202 325h10v2h-10zM308 325h10v2h-10zM166 327h2v2h-2zM196 327h8v2h-8zM306 327h14v2h-14zM164 329h4v2h-4zM192 329h6v2h-6zM306 329h14v2h-14zM164 331h4v2h-4zM190 331h4v2h-4zM304 331h16v2h-16zM164 333h4v2h-4zM186 333h4v2h-4zM304 333h16v2h-16zM162 335h6v2h-6zM182 335h6v2h-6zM304 335h14v2h-14zM162 337h6v2h-6zM178 337h6v2h-6zM304 337h14v2h-14zM162 339h18v2h-18zM304 339h12v2h-12zM162 341h14v2h-14zM306 341h8v2h-8zM162 343h8v2h-8z"/><path fill="#58ffa7" d="M378 55h8v2h-8zM380 57h8v2h-8zM382 59h8v2h-8zM384 61h8v2h-8zM384 63h10v2h-10zM386 65h8v2h-8zM388 67h8v2h-8zM390 69h8v2h-8zM392 71h8v2h-8zM394 73h6v2h-6zM396 75h6v2h-6zM398 77h4v2h-4zM400 79h4v2h-4zM400 81h4v2h-4zM402 83h4v2h-4zM402 85h4v2h-4zM402 87h4v2h-4zM404 89h2v2h-2zM404 91h4v2h-4zM404 93h4v2h-4zM404 95h4v2h-4zM406 97h2v2h-2zM406 99h4v2h-4zM406 101h4v2h-4zM408 103h2v2h-2zM408 105h4v2h-4zM410 107h2v2h-2zM410 109h4v2h-4zM410 111h4v2h-4zM412 113h4v2h-4zM412 115h4v2h-4zM414 117h4v2h-4zM414 119h4v2h-4zM416 121h4v2h-4zM416 123h4v2h-4zM416 125h6v2h-6zM418 127h4v2h-4zM674 127h1v2h-1zM418 129h4v2h-4zM670 129h5v2h-5zM418 131h4v2h-4zM664 131h8v2h-8zM418 133h4v2h-4zM658 133h8v2h-8zM418 135h4v2h-4zM652 135h8v2h-8zM416 137h6v2h-6zM644 137h8v2h-8zM416 139h4v2h-4zM638 139h8v2h-8zM416 141h4v2h-4zM576 141h16v2h-16zM628 141h10v2h-10zM414 143h6v2h-6zM568 143h60v2h-60zM414 145h4v2h-4zM566 145h6v2h-6zM598 145h4v2h-4zM414 147h4v2h-4zM562 147h6v2h-6zM412 149h4v2h-4zM560 149h4v2h-4zM296 151h2v2h-2zM412 151h4v2h-4zM558 151h4v2h-4zM412 153h4v2h-4zM556 153h4v2h-4zM412 155h4v2h-4zM554 155h4v2h-4zM412 157h4v2h-4zM552 157h4v2h-4zM412 159h4v2h-4zM550 159h4v2h-4zM412 161h4v2h-4zM546 161h4v2h-4zM412 163h6v2h-6zM544 163h4v2h-4zM412 165h6v2h-6zM492 165h12v2h-12zM542 165h4v2h-4zM414 167h10v2h-10zM482 167h32v2h-32zM538 167h4v2h-4zM418 169h22v2h-22zM474 169h44v2h-44zM534 169h6v2h-6zM422 171h30v2h-30zM464 171h24v2h-24zM506 171h30v2h-30zM442 173h36v2h-36zM518 173h12v2h-12zM296 179h2v2h-2zM294 191h2v2h-2zM292 197h2v2h-2zM290 203h2v2h-2zM290 205h2v2h-2zM206 265h4v2h-4zM202 267h12v2h-12zM198 269h8v2h-8zM210 269h6v2h-6zM198 271h4v2h-4zM214 271h2v2h-2zM196 273h4v2h-4zM214 273h4v2h-4zM194 275h6v2h-6zM214 275h4v2h-4zM194 277h4v2h-4zM216 277h2v2h-2zM194 279h4v2h-4zM216 279h4v2h-4zM194 281h4v2h-4zM216 281h4v2h-4zM194 283h4v2h-4zM216 283h4v2h-4zM194 285h4v2h-4zM216 285h4v2h-4zM194 287h6v2h-6zM216 287h6v2h-6zM194 289h6v2h-6zM216 289h8v2h-8zM192 291h8v2h-8zM218 291h8v2h-8zM192 293h8v2h-8zM220 293h12v2h-12zM192 295h6v2h-6zM226 295h14v2h-14zM190 297h6v2h-6zM234 297h32v2h-32zM188 299h6v2h-6zM242 299h32v2h-32zM186 301h6v2h-6zM254 301h22v2h-22zM308 301h10v2h-10zM184 303h4v2h-4zM260 303h18v2h-18zM304 303h16v2h-16zM182 305h4v2h-4zM262 305h18v2h-18zM304 305h18v2h-18zM180 307h4v2h-4zM264 307h16v2h-16zM304 307h18v2h-18zM178 309h2v2h-2zM264 309h16v2h-16zM304 309h18v2h-18zM174 311h4v2h-4zM264 311h16v2h-16zM304 311h18v2h-18zM174 313h2v2h-2zM264 313h16v2h-16zM304 313h18v2h-18zM172 315h2v2h-2zM262 315h16v2h-16zM304 315h18v2h-18zM170 317h2v2h-2zM260 317h18v2h-18zM304 317h18v2h-18zM168 319h2v2h-2zM256 319h22v2h-22zM304 319h8v2h-8zM316 319h6v2h-6zM166 321h4v2h-4zM246 321h30v2h-30zM304 321h6v2h-6zM316 321h6v2h-6zM166 323h2v2h-2zM228 323h46v2h-46zM302 323h8v2h-8zM318 323h4v2h-4zM164 325h2v2h-2zM212 325h60v2h-60zM300 325h8v2h-8zM318 325h4v2h-4zM162 327h4v2h-4zM204 327h66v2h-66zM298 327h8v2h-8zM320 327h4v2h-4zM162 329h2v2h-2zM198 329h6v2h-6zM234 329h32v2h-32zM296 329h10v2h-10zM320 329h4v2h-4zM160 331h4v2h-4zM194 331h4v2h-4zM238 331h24v2h-24zM296 331h8v2h-8zM320 331h4v2h-4zM160 333h4v2h-4zM190 333h4v2h-4zM242 333h14v2h-14zM296 333h8v2h-8zM320 333h2v2h-2zM158 335h4v2h-4zM188 335h4v2h-4zM294 335h10v2h-10zM318 335h4v2h-4zM158 337h4v2h-4zM184 337h4v2h-4zM296 337h8v2h-8zM318 337h4v2h-4zM156 339h6v2h-6zM180 339h4v2h-4zM296 339h8v2h-8zM316 339h6v2h-6zM154 341h8v2h-8zM176 341h6v2h-6zM298 341h8v2h-8zM314 341h6v2h-6zM154 343h8v2h-8zM170 343h8v2h-8zM300 343h20v2h-20zM152 345h22v2h-22zM302 345h16v2h-16zM150 347h22v2h-22zM306 347h8v2h-8zM150 349h18v2h-18zM150 351h16v2h-16zM150 353h12v2h-12zM150 355h12v2h-12zM150 357h10v2h-10zM150 359h8v2h-8zM150 361h8v2h-8zM150 363h6v2h-6zM150 365h6v2h-6zM150 367h4v2h-4zM150 369h2v2h-2zM150 371h2v2h-2z"/><path fill="#68ff97" d="M368 55h10v2h-10zM370 57h10v2h-10zM372 59h10v2h-10zM374 61h10v2h-10zM376 63h8v2h-8zM378 65h8v2h-8zM380 67h8v2h-8zM382 69h8v2h-8zM384 71h8v2h-8zM386 73h8v2h-8zM388 75h8v2h-8zM390 77h8v2h-8zM392 79h8v2h-8zM394 81h6v2h-6zM396 83h6v2h-6zM396 85h6v2h-6zM398 87h4v2h-4zM398 89h6v2h-6zM400 91h4v2h-4zM400 93h4v2h-4zM402 95h2v2h-2zM402 97h4v2h-4zM402 99h4v2h-4zM404 101h2v2h-2zM404 103h4v2h-4zM404 105h4v2h-4zM406 107h4v2h-4zM406 109h4v2h-4zM408 111h2v2h-2zM408 113h4v2h-4zM410 115h2v2h-2zM410 117h4v2h-4zM410 119h4v2h-4zM412 121h4v2h-4zM412 123h4v2h-4zM412 125h4v2h-4zM412 127h6v2h-6zM414 129h4v2h-4zM414 131h4v2h-4zM672 131h3v2h-3zM414 133h4v2h-4zM666 133h8v2h-8zM412 135h6v2h-6zM660 135h8v2h-8zM412 137h4v2h-4zM652 137h8v2h-8zM412 139h4v2h-4zM646 139h6v2h-6zM412 141h4v2h-4zM638 141h6v2h-6zM410 143h4v2h-4zM628 143h10v2h-10zM296 145h2v2h-2zM410 145h4v2h-4zM572 145h26v2h-26zM602 145h24v2h-24zM296 147h2v2h-2zM410 147h4v2h-4zM568 147h10v2h-10zM592 147h14v2h-14zM296 149h2v2h-2zM410 149h2v2h-2zM564 149h6v2h-6zM408 151h4v2h-4zM562 151h6v2h-6zM408 153h4v2h-4zM560 153h4v2h-4zM408 155h4v2h-4zM558 155h4v2h-4zM408 157h4v2h-4zM556 157h4v2h-4zM408 159h4v2h-4zM554 159h2v2h-2zM408 161h4v2h-4zM550 161h4v2h-4zM408 163h4v2h-4zM548 163h4v2h-4zM408 165h4v2h-4zM546 165h4v2h-4zM408 167h6v2h-6zM542 167h4v2h-4zM298 169h2v2h-2zM410 169h8v2h-8zM540 169h4v2h-4zM298 171h2v2h-2zM414 171h8v2h-8zM488 171h18v2h-18zM536 171h4v2h-4zM418 173h24v2h-24zM478 173h40v2h-40zM530 173h8v2h-8zM426 175h108v2h-108zM446 177h60v2h-60zM520 177h4v2h-4zM472 179h12v2h-12zM296 181h2v2h-2zM296 183h2v2h-2zM294 193h2v2h-2zM292 199h2v2h-2zM290 207h2v2h-2zM290 209h2v2h-2zM280 219h4v2h-4zM204 263h10v2h-10zM200 265h6v2h-6zM210 265h6v2h-6zM196 267h6v2h-6zM214 267h4v2h-4zM194 269h4v2h-4zM216 269h2v2h-2zM194 271h4v2h-4zM216 271h4v2h-4zM192 273h4v2h-4zM218 273h2v2h-2zM192 275h2v2h-2zM218 275h2v2h-2zM190 277h4v2h-4zM218 277h4v2h-4zM190 279h4v2h-4zM220 279h2v2h-2zM190 281h4v2h-4zM220 281h2v2h-2zM190 283h4v2h-4zM220 283h4v2h-4zM190 285h4v2h-4zM220 285h4v2h-4zM188 287h6v2h-6zM222 287h4v2h-4zM188 289h6v2h-6zM224 289h6v2h-6zM188 291h4v2h-4zM226 291h8v2h-8zM266 291h22v2h-22zM188 293h4v2h-4zM232 293h80v2h-80zM186 295h6v2h-6zM240 295h80v2h-80zM186 297h4v2h-4zM266 297h56v2h-56zM184 299h4v2h-4zM274 299h50v2h-50zM182 301h4v2h-4zM276 301h32v2h-32zM318 301h6v2h-6zM180 303h4v2h-4zM278 303h26v2h-26zM320 303h4v2h-4zM178 305h4v2h-4zM280 305h24v2h-24zM322 305h4v2h-4zM176 307h4v2h-4zM280 307h24v2h-24zM322 307h4v2h-4zM174 309h4v2h-4zM280 309h24v2h-24zM322 309h4v2h-4zM172 311h2v2h-2zM280 311h24v2h-24zM322 311h4v2h-4zM170 313h4v2h-4zM280 313h24v2h-24zM322 313h4v2h-4zM170 315h2v2h-2zM278 315h26v2h-26zM322 315h4v2h-4zM168 317h2v2h-2zM278 317h26v2h-26zM322 317h4v2h-4zM166 319h2v2h-2zM278 319h26v2h-26zM322 319h4v2h-4zM164 321h2v2h-2zM276 321h28v2h-28zM322 321h4v2h-4zM164 323h2v2h-2zM274 323h28v2h-28zM322 323h4v2h-4zM162 325h2v2h-2zM272 325h28v2h-28zM322 325h4v2h-4zM160 327h2v2h-2zM270 327h28v2h-28zM324 327h2v2h-2zM160 329h2v2h-2zM204 329h30v2h-30zM266 329h30v2h-30zM324 329h2v2h-2zM158 331h2v2h-2zM198 331h8v2h-8zM222 331h16v2h-16zM262 331h34v2h-34zM324 331h2v2h-2zM156 333h4v2h-4zM194 333h4v2h-4zM228 333h14v2h-14zM256 333h40v2h-40zM322 333h4v2h-4zM156 335h2v2h-2zM192 335h2v2h-2zM232 335h62v2h-62zM322 335h4v2h-4zM154 337h4v2h-4zM188 337h4v2h-4zM234 337h62v2h-62zM322 337h4v2h-4zM152 339h4v2h-4zM184 339h4v2h-4zM238 339h32v2h-32zM282 339h14v2h-14zM322 339h2v2h-2zM150 341h4v2h-4zM182 341h2v2h-2zM240 341h22v2h-22zM286 341h12v2h-12zM320 341h4v2h-4zM150 343h4v2h-4zM178 343h4v2h-4zM290 343h10v2h-10zM320 343h4v2h-4zM150 345h2v2h-2zM174 345h6v2h-6zM292 345h10v2h-10zM318 345h4v2h-4zM172 347h4v2h-4zM294 347h12v2h-12zM314 347h8v2h-8zM168 349h6v2h-6zM298 349h22v2h-22zM166 351h4v2h-4zM302 351h16v2h-16zM162 353h6v2h-6zM162 355h4v2h-4zM160 357h6v2h-6zM158 359h6v2h-6zM158 361h4v2h-4zM156 363h6v2h-6zM156 365h4v2h-4zM154 367h6v2h-6zM152 369h6v2h-6zM152 371h6v2h-6zM150 373h6v2h-6zM150 375h6v2h-6zM150 377h4v2h-4zM150 379h4v2h-4zM150 381h2v2h-2z"/><path fill="#78ff87" d="M358 55h10v2h-10zM358 57h12v2h-12zM358 59h14v2h-14zM362 61h12v2h-12zM366 63h10v2h-10zM370 65h8v2h-8zM372 67h8v2h-8zM374 69h8v2h-8zM376 71h8v2h-8zM378 73h8v2h-8zM380 75h8v2h-8zM382 77h8v2h-8zM384 79h8v2h-8zM386 81h8v2h-8zM388 83h8v2h-8zM390 85h6v2h-6zM392 87h6v2h-6zM394 89h4v2h-4zM394 91h6v2h-6zM396 93h4v2h-4zM396 95h6v2h-6zM398 97h4v2h-4zM398 99h4v2h-4zM400 101h4v2h-4zM400 103h4v2h-4zM402 105h2v2h-2zM402 107h4v2h-4zM404 109h2v2h-2zM404 111h4v2h-4zM406 113h2v2h-2zM406 115h4v2h-4zM406 117h4v2h-4zM408 119h2v2h-2zM408 121h4v2h-4zM408 123h4v2h-4zM408 125h4v2h-4zM410 127h2v2h-2zM410 129h4v2h-4zM410 131h4v2h-4zM410 133h4v2h-4zM674 133h1v2h-1zM410 135h2v2h-2zM668 135h7v2h-7zM408 137h4v2h-4zM660 137h8v2h-8zM408 139h4v2h-4zM652 139h8v2h-8zM408 141h4v2h-4zM644 141h8v2h-8zM408 143h2v2h-2zM638 143h6v2h-6zM406 145h4v2h-4zM626 145h10v2h-10zM406 147h4v2h-4zM578 147h14v2h-14zM606 147h18v2h-18zM406 149h4v2h-4zM570 149h36v2h-36zM406 151h2v2h-2zM568 151h6v2h-6zM404 153h4v2h-4zM564 153h6v2h-6zM404 155h4v2h-4zM562 155h4v2h-4zM404 157h4v2h-4zM560 157h4v2h-4zM404 159h4v2h-4zM556 159h4v2h-4zM404 161h4v2h-4zM554 161h4v2h-4zM298 163h2v2h-2zM404 163h4v2h-4zM552 163h4v2h-4zM298 165h2v2h-2zM404 165h4v2h-4zM550 165h2v2h-2zM298 167h2v2h-2zM404 167h4v2h-4zM546 167h4v2h-4zM404 169h6v2h-6zM544 169h4v2h-4zM406 171h8v2h-8zM540 171h4v2h-4zM298 173h2v2h-2zM408 173h10v2h-10zM538 173h4v2h-4zM298 175h2v2h-2zM412 175h14v2h-14zM534 175h4v2h-4zM420 177h26v2h-26zM506 177h14v2h-14zM524 177h12v2h-12zM434 179h38v2h-38zM484 179h46v2h-46zM450 181h58v2h-58zM468 183h28v2h-28zM296 185h2v2h-2zM478 185h4v2h-4zM296 187h2v2h-2zM294 195h2v2h-2zM292 201h2v2h-2zM292 203h2v2h-2zM292 205h2v2h-2zM290 211h2v2h-2zM290 213h2v2h-2zM290 215h2v2h-2zM284 219h6v2h-6zM280 221h6v2h-6zM202 261h14v2h-14zM198 263h6v2h-6zM214 263h4v2h-4zM196 265h4v2h-4zM216 265h4v2h-4zM192 267h4v2h-4zM218 267h2v2h-2zM192 269h2v2h-2zM218 269h2v2h-2zM190 271h4v2h-4zM220 271h2v2h-2zM188 273h4v2h-4zM220 273h2v2h-2zM188 275h4v2h-4zM220 275h4v2h-4zM186 277h4v2h-4zM222 277h2v2h-2zM186 279h4v2h-4zM222 279h2v2h-2zM186 281h4v2h-4zM222 281h4v2h-4zM186 283h4v2h-4zM224 283h2v2h-2zM274 283h14v2h-14zM186 285h4v2h-4zM224 285h4v2h-4zM268 285h28v2h-28zM184 287h4v2h-4zM226 287h6v2h-6zM264 287h42v2h-42zM184 289h4v2h-4zM230 289h6v2h-6zM256 289h62v2h-62zM184 291h4v2h-4zM234 291h32v2h-32zM288 291h34v2h-34zM184 293h4v2h-4zM312 293h12v2h-12zM182 295h4v2h-4zM320 295h6v2h-6zM182 297h4v2h-4zM322 297h6v2h-6zM180 299h4v2h-4zM324 299h4v2h-4zM180 301h2v2h-2zM324 301h4v2h-4zM178 303h2v2h-2zM324 303h4v2h-4zM176 305h2v2h-2zM326 305h2v2h-2zM174 307h2v2h-2zM326 307h2v2h-2zM172 309h2v2h-2zM326 309h2v2h-2zM170 311h2v2h-2zM326 311h2v2h-2zM168 313h2v2h-2zM326 313h2v2h-2zM166 315h4v2h-4zM326 315h2v2h-2zM166 317h2v2h-2zM326 317h2v2h-2zM164 319h2v2h-2zM326 319h2v2h-2zM162 321h2v2h-2zM326 321h2v2h-2zM162 323h2v2h-2zM326 323h2v2h-2zM160 325h2v2h-2zM326 325h2v2h-2zM158 327h2v2h-2zM326 327h2v2h-2zM156 329h4v2h-4zM326 329h2v2h-2zM156 331h2v2h-2zM206 331h16v2h-16zM326 331h2v2h-2zM154 333h2v2h-2zM198 333h8v2h-8zM216 333h12v2h-12zM326 333h2v2h-2zM152 335h4v2h-4zM194 335h4v2h-4zM224 335h8v2h-8zM326 335h2v2h-2zM150 337h4v2h-4zM192 337h2v2h-2zM226 337h8v2h-8zM326 337h2v2h-2zM150 339h2v2h-2zM188 339h4v2h-4zM230 339h8v2h-8zM270 339h12v2h-12zM324 339h4v2h-4zM184 341h4v2h-4zM232 341h8v2h-8zM262 341h24v2h-24zM324 341h4v2h-4zM182 343h4v2h-4zM234 343h56v2h-56zM324 343h4v2h-4zM180 345h2v2h-2zM236 345h56v2h-56zM322 345h4v2h-4zM176 347h4v2h-4zM240 347h32v2h-32zM280 347h14v2h-14zM322 347h4v2h-4zM174 349h4v2h-4zM244 349h18v2h-18zM286 349h12v2h-12zM320 349h6v2h-6zM170 351h6v2h-6zM290 351h12v2h-12zM318 351h6v2h-6zM168 353h6v2h-6zM296 353h28v2h-28zM166 355h6v2h-6zM300 355h22v2h-22zM166 357h4v2h-4zM310 357h6v2h-6zM164 359h4v2h-4zM162 361h4v2h-4zM162 363h4v2h-4zM160 365h4v2h-4zM160 367h4v2h-4zM158 369h4v2h-4zM158 371h4v2h-4zM156 373h6v2h-6zM156 375h4v2h-4zM154 377h6v2h-6zM154 379h4v2h-4zM152 381h6v2h-6zM150 383h6v2h-6zM150 385h6v2h-6zM142 387h12v2h-12zM142 389h10v2h-10zM142 391h8v2h-8zM142 393h6v2h-6zM142 395h2v2h-2z"/><path fill="#87ff78" d="M350 61h12v2h-12zM350 63h16v2h-16zM350 65h20v2h-20zM350 67h22v2h-22zM332 69h24v2h-24zM358 69h16v2h-16zM332 71h16v2h-16zM364 71h12v2h-12zM332 73h10v2h-10zM366 73h12v2h-12zM368 75h12v2h-12zM370 77h12v2h-12zM374 79h10v2h-10zM376 81h10v2h-10zM378 83h10v2h-10zM380 85h10v2h-10zM384 87h8v2h-8zM386 89h8v2h-8zM388 91h6v2h-6zM390 93h6v2h-6zM390 95h6v2h-6zM392 97h6v2h-6zM394 99h4v2h-4zM396 101h4v2h-4zM396 103h4v2h-4zM398 105h4v2h-4zM398 107h4v2h-4zM400 109h4v2h-4zM400 111h4v2h-4zM402 113h4v2h-4zM402 115h4v2h-4zM404 117h2v2h-2zM404 119h4v2h-4zM404 121h4v2h-4zM404 123h4v2h-4zM406 125h2v2h-2zM406 127h4v2h-4zM406 129h4v2h-4zM406 131h4v2h-4zM406 133h4v2h-4zM406 135h4v2h-4zM406 137h2v2h-2zM668 137h7v2h-7zM406 139h2v2h-2zM660 139h10v2h-10zM404 141h4v2h-4zM652 141h8v2h-8zM404 143h4v2h-4zM644 143h8v2h-8zM298 145h2v2h-2zM404 145h2v2h-2zM636 145h8v2h-8zM298 147h2v2h-2zM404 147h2v2h-2zM624 147h10v2h-10zM298 149h2v2h-2zM402 149h4v2h-4zM606 149h16v2h-16zM298 151h2v2h-2zM402 151h4v2h-4zM574 151h32v2h-32zM298 153h2v2h-2zM402 153h2v2h-2zM570 153h8v2h-8zM298 155h2v2h-2zM402 155h2v2h-2zM566 155h6v2h-6zM298 157h2v2h-2zM400 157h4v2h-4zM564 157h4v2h-4zM298 159h2v2h-2zM400 159h4v2h-4zM560 159h4v2h-4zM298 161h2v2h-2zM400 161h4v2h-4zM558 161h4v2h-4zM400 163h4v2h-4zM556 163h4v2h-4zM400 165h4v2h-4zM552 165h4v2h-4zM400 167h4v2h-4zM550 167h4v2h-4zM400 169h4v2h-4zM548 169h4v2h-4zM400 171h6v2h-6zM544 171h4v2h-4zM402 173h6v2h-6zM542 173h4v2h-4zM404 175h8v2h-8zM538 175h6v2h-6zM298 177h2v2h-2zM406 177h14v2h-14zM536 177h4v2h-4zM298 179h2v2h-2zM414 179h20v2h-20zM530 179h6v2h-6zM424 181h26v2h-26zM508 181h26v2h-26zM440 183h28v2h-28zM496 183h32v2h-32zM454 185h24v2h-24zM482 185h24v2h-24zM466 187h30v2h-30zM296 189h2v2h-2zM478 189h4v2h-4zM294 197h2v2h-2zM292 207h2v2h-2zM292 209h2v2h-2zM292 211h2v2h-2zM292 213h2v2h-2zM292 215h2v2h-2zM290 217h4v2h-4zM290 219h2v2h-2zM286 221h6v2h-6zM280 223h8v2h-8zM206 257h8v2h-8zM200 259h18v2h-18zM196 261h6v2h-6zM216 261h4v2h-4zM194 263h4v2h-4zM218 263h2v2h-2zM190 265h6v2h-6zM220 265h2v2h-2zM188 267h4v2h-4zM220 267h2v2h-2zM188 269h4v2h-4zM220 269h4v2h-4zM186 271h4v2h-4zM222 271h2v2h-2zM184 273h4v2h-4zM222 273h2v2h-2zM184 275h4v2h-4zM224 275h2v2h-2zM184 277h2v2h-2zM224 277h2v2h-2zM274 277h14v2h-14zM182 279h4v2h-4zM224 279h4v2h-4zM270 279h24v2h-24zM182 281h4v2h-4zM226 281h2v2h-2zM266 281h34v2h-34zM182 283h4v2h-4zM226 283h4v2h-4zM262 283h12v2h-12zM288 283h22v2h-22zM182 285h4v2h-4zM228 285h6v2h-6zM258 285h10v2h-10zM296 285h24v2h-24zM182 287h2v2h-2zM232 287h6v2h-6zM250 287h14v2h-14zM306 287h18v2h-18zM180 289h4v2h-4zM236 289h20v2h-20zM318 289h10v2h-10zM180 291h4v2h-4zM322 291h8v2h-8zM180 293h4v2h-4zM324 293h6v2h-6zM180 295h2v2h-2zM326 295h6v2h-6zM178 297h4v2h-4zM328 297h4v2h-4zM178 299h2v2h-2zM328 299h4v2h-4zM176 301h4v2h-4zM328 301h4v2h-4zM174 303h4v2h-4zM328 303h4v2h-4zM172 305h4v2h-4zM328 305h4v2h-4zM170 307h4v2h-4zM328 307h4v2h-4zM170 309h2v2h-2zM328 309h4v2h-4zM168 311h2v2h-2zM328 311h2v2h-2zM166 313h2v2h-2zM328 313h2v2h-2zM164 315h2v2h-2zM328 315h2v2h-2zM164 317h2v2h-2zM328 317h2v2h-2zM162 319h2v2h-2zM328 319h2v2h-2zM160 321h2v2h-2zM328 321h2v2h-2zM158 323h4v2h-4zM328 323h2v2h-2zM158 325h2v2h-2zM328 325h2v2h-2zM156 327h2v2h-2zM328 327h2v2h-2zM154 329h2v2h-2zM328 329h2v2h-2zM152 331h4v2h-4zM328 331h2v2h-2zM150 333h4v2h-4zM206 333h10v2h-10zM328 333h2v2h-2zM150 335h2v2h-2zM198 335h6v2h-6zM212 335h12v2h-12zM328 335h2v2h-2zM194 337h4v2h-4zM220 337h6v2h-6zM328 337h2v2h-2zM192 339h2v2h-2zM222 339h8v2h-8zM328 339h2v2h-2zM188 341h4v2h-4zM226 341h6v2h-6zM328 341h2v2h-2zM186 343h2v2h-2zM228 343h6v2h-6zM328 343h2v2h-2zM182 345h4v2h-4zM230 345h6v2h-6zM326 345h4v2h-4zM180 347h4v2h-4zM232 347h8v2h-8zM272 347h8v2h-8zM326 347h4v2h-4zM178 349h2v2h-2zM234 349h10v2h-10zM262 349h24v2h-24zM326 349h4v2h-4zM176 351h2v2h-2zM236 351h54v2h-54zM324 351h6v2h-6zM174 353h2v2h-2zM240 353h56v2h-56zM324 353h6v2h-6zM172 355h2v2h-2zM244 355h24v2h-24zM286 355h14v2h-14zM322 355h8v2h-8zM170 357h4v2h-4zM250 357h8v2h-8zM292 357h18v2h-18zM316 357h12v2h-12zM168 359h4v2h-4zM298 359h30v2h-30zM166 361h4v2h-4zM308 361h18v2h-18zM166 363h4v2h-4zM164 365h4v2h-4zM164 367h4v2h-4zM162 369h4v2h-4zM162 371h4v2h-4zM162 373h2v2h-2zM160 375h4v2h-4zM160 377h4v2h-4zM158 379h4v2h-4zM158 381h4v2h-4zM156 383h4v2h-4zM156 385h4v2h-4zM154 387h4v2h-4zM152 389h6v2h-6zM150 391h6v2h-6zM148 393h8v2h-8zM144 395h10v2h-10zM142 397h10v2h-10zM142 399h8v2h-8zM142 401h6v2h-6zM142 403h4v2h-4zM142 405h2v2h-2zM136 409h4v2h-4zM136 411h2v2h-2z"/><path fill="#97ff68" d="M356 69h2v2h-2zM348 71h16v2h-16zM342 73h24v2h-24zM332 75h36v2h-36zM324 77h46v2h-46zM324 79h50v2h-50zM332 81h44v2h-44zM362 83h16v2h-16zM366 85h14v2h-14zM370 87h14v2h-14zM374 89h12v2h-12zM378 91h10v2h-10zM380 93h10v2h-10zM384 95h6v2h-6zM386 97h6v2h-6zM388 99h6v2h-6zM390 101h6v2h-6zM392 103h4v2h-4zM392 105h6v2h-6zM394 107h4v2h-4zM396 109h4v2h-4zM396 111h4v2h-4zM398 113h4v2h-4zM398 115h4v2h-4zM400 117h4v2h-4zM400 119h4v2h-4zM400 121h4v2h-4zM402 123h2v2h-2zM402 125h4v2h-4zM402 127h4v2h-4zM402 129h4v2h-4zM402 131h4v2h-4zM402 133h4v2h-4zM402 135h4v2h-4zM402 137h4v2h-4zM402 139h4v2h-4zM670 139h5v2h-5zM402 141h2v2h-2zM660 141h14v2h-14zM402 143h2v2h-2zM652 143h10v2h-10zM400 145h4v2h-4zM644 145h8v2h-8zM400 147h4v2h-4zM634 147h10v2h-10zM400 149h2v2h-2zM622 149h12v2h-12zM400 151h2v2h-2zM606 151h14v2h-14zM398 153h4v2h-4zM578 153h28v2h-28zM398 155h4v2h-4zM572 155h10v2h-10zM398 157h2v2h-2zM568 157h6v2h-6zM396 159h4v2h-4zM564 159h6v2h-6zM396 161h4v2h-4zM562 161h4v2h-4zM396 163h4v2h-4zM560 163h4v2h-4zM396 165h4v2h-4zM556 165h4v2h-4zM394 167h6v2h-6zM554 167h4v2h-4zM300 169h2v2h-2zM394 169h6v2h-6zM552 169h4v2h-4zM300 171h2v2h-2zM394 171h6v2h-6zM548 171h4v2h-4zM300 173h2v2h-2zM394 173h8v2h-8zM546 173h4v2h-4zM394 175h10v2h-10zM544 175h4v2h-4zM396 177h10v2h-10zM540 177h4v2h-4zM398 179h16v2h-16zM536 179h6v2h-6zM298 181h2v2h-2zM404 181h20v2h-20zM534 181h4v2h-4zM416 183h24v2h-24zM528 183h8v2h-8zM428 185h26v2h-26zM506 185h26v2h-26zM442 187h24v2h-24zM496 187h32v2h-32zM456 189h22v2h-22zM482 189h20v2h-20zM296 191h2v2h-2zM466 191h28v2h-28zM296 193h2v2h-2zM294 199h2v2h-2zM294 201h2v2h-2zM294 203h2v2h-2zM294 205h2v2h-2zM294 207h2v2h-2zM294 209h2v2h-2zM294 211h2v2h-2zM294 213h2v2h-2zM294 215h2v2h-2zM294 217h2v2h-2zM292 219h4v2h-4zM292 221h2v2h-2zM288 223h6v2h-6zM280 225h10v2h-10zM204 255h14v2h-14zM198 257h8v2h-8zM214 257h6v2h-6zM194 259h6v2h-6zM218 259h4v2h-4zM192 261h4v2h-4zM220 261h2v2h-2zM188 263h6v2h-6zM220 263h4v2h-4zM186 265h4v2h-4zM222 265h2v2h-2zM184 267h4v2h-4zM222 267h2v2h-2zM184 269h4v2h-4zM224 269h2v2h-2zM182 271h4v2h-4zM224 271h2v2h-2zM276 271h6v2h-6zM182 273h2v2h-2zM224 273h2v2h-2zM270 273h20v2h-20zM180 275h4v2h-4zM226 275h2v2h-2zM268 275h28v2h-28zM180 277h4v2h-4zM226 277h2v2h-2zM264 277h10v2h-10zM288 277h14v2h-14zM178 279h4v2h-4zM228 279h2v2h-2zM262 279h8v2h-8zM294 279h14v2h-14zM178 281h4v2h-4zM228 281h4v2h-4zM258 281h8v2h-8zM300 281h18v2h-18zM178 283h4v2h-4zM230 283h4v2h-4zM254 283h8v2h-8zM310 283h16v2h-16zM178 285h4v2h-4zM234 285h8v2h-8zM246 285h12v2h-12zM320 285h10v2h-10zM178 287h4v2h-4zM238 287h12v2h-12zM324 287h10v2h-10zM176 289h4v2h-4zM328 289h6v2h-6zM176 291h4v2h-4zM330 291h6v2h-6zM176 293h4v2h-4zM330 293h6v2h-6zM176 295h4v2h-4zM332 295h4v2h-4zM174 297h4v2h-4zM332 297h4v2h-4zM174 299h4v2h-4zM332 299h4v2h-4zM172 301h4v2h-4zM332 301h2v2h-2zM170 303h4v2h-4zM332 303h2v2h-2zM170 305h2v2h-2zM332 305h2v2h-2zM168 307h2v2h-2zM332 307h2v2h-2zM168 309h2v2h-2zM332 309h2v2h-2zM166 311h2v2h-2zM330 311h4v2h-4zM164 313h2v2h-2zM330 313h4v2h-4zM162 315h2v2h-2zM330 315h2v2h-2zM162 317h2v2h-2zM330 317h2v2h-2zM160 319h2v2h-2zM330 319h2v2h-2zM158 321h2v2h-2zM330 321h2v2h-2zM156 323h2v2h-2zM330 323h2v2h-2zM154 325h4v2h-4zM330 325h2v2h-2zM152 327h4v2h-4zM330 327h2v2h-2zM150 329h4v2h-4zM330 329h2v2h-2zM150 331h2v2h-2zM330 331h2v2h-2zM330 333h4v2h-4zM204 335h8v2h-8zM330 335h4v2h-4zM198 337h6v2h-6zM210 337h10v2h-10zM330 337h4v2h-4zM194 339h4v2h-4zM216 339h6v2h-6zM330 339h4v2h-4zM192 341h2v2h-2zM220 341h6v2h-6zM330 341h4v2h-4zM188 343h4v2h-4zM222 343h6v2h-6zM330 343h4v2h-4zM186 345h2v2h-2zM224 345h6v2h-6zM330 345h4v2h-4zM184 347h2v2h-2zM226 347h6v2h-6zM330 347h4v2h-4zM180 349h4v2h-4zM228 349h6v2h-6zM330 349h4v2h-4zM178 351h4v2h-4zM230 351h6v2h-6zM330 351h4v2h-4zM176 353h4v2h-4zM232 353h8v2h-8zM330 353h6v2h-6zM174 355h4v2h-4zM234 355h10v2h-10zM268 355h18v2h-18zM330 355h6v2h-6zM174 357h2v2h-2zM236 357h14v2h-14zM258 357h34v2h-34zM328 357h8v2h-8zM172 359h2v2h-2zM238 359h60v2h-60zM328 359h8v2h-8zM170 361h4v2h-4zM240 361h34v2h-34zM286 361h22v2h-22zM326 361h10v2h-10zM170 363h2v2h-2zM244 363h22v2h-22zM294 363h42v2h-42zM168 365h4v2h-4zM250 365h8v2h-8zM308 365h28v2h-28zM168 367h2v2h-2zM316 367h18v2h-18zM166 369h4v2h-4zM322 369h10v2h-10zM166 371h2v2h-2zM164 373h4v2h-4zM164 375h4v2h-4zM164 377h2v2h-2zM162 379h4v2h-4zM162 381h4v2h-4zM160 383h4v2h-4zM160 385h4v2h-4zM158 387h6v2h-6zM158 389h4v2h-4zM156 391h6v2h-6zM156 393h4v2h-4zM154 395h6v2h-6zM152 397h6v2h-6zM150 399h8v2h-8zM148 401h8v2h-8zM146 403h10v2h-10zM144 405h10v2h-10zM142 407h10v2h-10zM140 409h10v2h-10zM138 411h10v2h-10zM136 413h10v2h-10zM136 415h8v2h-8zM136 417h6v2h-6zM136 419h6v2h-6zM136 421h4v2h-4zM136 423h4v2h-4zM136 425h4v2h-4zM136 427h2v2h-2z"/><path fill="#a7ff58" d="M324 81h8v2h-8zM324 83h38v2h-38zM320 85h46v2h-46zM338 87h32v2h-32zM350 89h24v2h-24zM358 91h20v2h-20zM364 93h16v2h-16zM370 95h14v2h-14zM376 97h10v2h-10zM378 99h10v2h-10zM382 101h8v2h-8zM384 103h8v2h-8zM388 105h4v2h-4zM390 107h4v2h-4zM390 109h6v2h-6zM392 111h4v2h-4zM394 113h4v2h-4zM394 115h4v2h-4zM396 117h4v2h-4zM396 119h4v2h-4zM396 121h4v2h-4zM398 123h4v2h-4zM398 125h4v2h-4zM398 127h4v2h-4zM398 129h4v2h-4zM398 131h4v2h-4zM398 133h4v2h-4zM398 135h4v2h-4zM398 137h4v2h-4zM398 139h4v2h-4zM398 141h4v2h-4zM674 141h1v2h-1zM398 143h4v2h-4zM662 143h13v2h-13zM300 145h2v2h-2zM398 145h2v2h-2zM652 145h12v2h-12zM300 147h2v2h-2zM398 147h2v2h-2zM644 147h8v2h-8zM396 149h4v2h-4zM634 149h10v2h-10zM396 151h4v2h-4zM620 151h14v2h-14zM396 153h2v2h-2zM606 153h12v2h-12zM394 155h4v2h-4zM582 155h24v2h-24zM394 157h4v2h-4zM574 157h14v2h-14zM394 159h2v2h-2zM570 159h8v2h-8zM392 161h4v2h-4zM566 161h8v2h-8zM392 163h4v2h-4zM564 163h6v2h-6zM300 165h2v2h-2zM392 165h4v2h-4zM560 165h6v2h-6zM300 167h2v2h-2zM390 167h4v2h-4zM558 167h4v2h-4zM390 169h4v2h-4zM556 169h4v2h-4zM388 171h6v2h-6zM552 171h4v2h-4zM388 173h6v2h-6zM550 173h4v2h-4zM300 175h2v2h-2zM388 175h6v2h-6zM548 175h4v2h-4zM386 177h10v2h-10zM544 177h4v2h-4zM386 179h12v2h-12zM542 179h4v2h-4zM386 181h18v2h-18zM538 181h6v2h-6zM298 183h2v2h-2zM386 183h30v2h-30zM536 183h6v2h-6zM298 185h2v2h-2zM386 185h42v2h-42zM532 185h6v2h-6zM298 187h2v2h-2zM418 187h24v2h-24zM528 187h8v2h-8zM428 189h28v2h-28zM502 189h32v2h-32zM442 191h24v2h-24zM494 191h36v2h-36zM454 193h48v2h-48zM296 195h2v2h-2zM462 195h32v2h-32zM296 197h2v2h-2zM296 213h2v2h-2zM438 213h10v2h-10zM296 215h2v2h-2zM436 215h14v2h-14zM296 217h2v2h-2zM434 217h18v2h-18zM296 219h2v2h-2zM434 219h18v2h-18zM294 221h4v2h-4zM434 221h20v2h-20zM294 223h4v2h-4zM434 223h20v2h-20zM290 225h6v2h-6zM434 225h20v2h-20zM280 227h14v2h-14zM436 227h18v2h-18zM438 229h16v2h-16zM440 231h14v2h-14zM442 233h8v2h-8zM206 251h14v2h-14zM200 253h22v2h-22zM196 255h8v2h-8zM218 255h6v2h-6zM192 257h6v2h-6zM220 257h4v2h-4zM190 259h4v2h-4zM222 259h4v2h-4zM186 261h6v2h-6zM222 261h4v2h-4zM184 263h4v2h-4zM224 263h2v2h-2zM182 265h4v2h-4zM224 265h2v2h-2zM180 267h4v2h-4zM224 267h4v2h-4zM272 267h10v2h-10zM180 269h4v2h-4zM226 269h2v2h-2zM268 269h22v2h-22zM178 271h4v2h-4zM226 271h2v2h-2zM266 271h10v2h-10zM282 271h12v2h-12zM176 273h6v2h-6zM226 273h4v2h-4zM264 273h6v2h-6zM290 273h10v2h-10zM176 275h4v2h-4zM228 275h2v2h-2zM262 275h6v2h-6zM296 275h10v2h-10zM176 277h4v2h-4zM228 277h4v2h-4zM258 277h6v2h-6zM302 277h14v2h-14zM174 279h4v2h-4zM230 279h4v2h-4zM256 279h6v2h-6zM308 279h20v2h-20zM174 281h4v2h-4zM232 281h4v2h-4zM252 281h6v2h-6zM318 281h16v2h-16zM174 283h4v2h-4zM234 283h20v2h-20zM326 283h10v2h-10zM174 285h4v2h-4zM242 285h4v2h-4zM330 285h8v2h-8zM172 287h6v2h-6zM334 287h6v2h-6zM172 289h4v2h-4zM334 289h6v2h-6zM172 291h4v2h-4zM336 291h4v2h-4zM172 293h4v2h-4zM336 293h4v2h-4zM172 295h4v2h-4zM336 295h4v2h-4zM170 297h4v2h-4zM336 297h4v2h-4zM170 299h4v2h-4zM336 299h2v2h-2zM168 301h4v2h-4zM334 301h4v2h-4zM168 303h2v2h-2zM334 303h4v2h-4zM168 305h2v2h-2zM334 305h4v2h-4zM166 307h2v2h-2zM334 307h2v2h-2zM164 309h4v2h-4zM334 309h2v2h-2zM164 311h2v2h-2zM334 311h2v2h-2zM162 313h2v2h-2zM334 313h2v2h-2zM160 315h2v2h-2zM332 315h4v2h-4zM158 317h4v2h-4zM332 317h4v2h-4zM158 319h2v2h-2zM332 319h4v2h-4zM156 321h2v2h-2zM332 321h2v2h-2zM154 323h2v2h-2zM332 323h2v2h-2zM152 325h2v2h-2zM332 325h4v2h-4zM150 327h2v2h-2zM332 327h4v2h-4zM332 329h4v2h-4zM332 331h4v2h-4zM334 333h2v2h-2zM334 335h2v2h-2zM204 337h6v2h-6zM334 337h2v2h-2zM198 339h6v2h-6zM206 339h10v2h-10zM334 339h2v2h-2zM194 341h4v2h-4zM214 341h6v2h-6zM334 341h2v2h-2zM192 343h2v2h-2zM216 343h6v2h-6zM334 343h4v2h-4zM188 345h4v2h-4zM218 345h6v2h-6zM334 345h4v2h-4zM186 347h2v2h-2zM220 347h6v2h-6zM334 347h4v2h-4zM184 349h2v2h-2zM222 349h6v2h-6zM334 349h4v2h-4zM182 351h2v2h-2zM224 351h6v2h-6zM334 351h6v2h-6zM180 353h2v2h-2zM226 353h6v2h-6zM336 353h4v2h-4zM178 355h4v2h-4zM228 355h6v2h-6zM336 355h6v2h-6zM176 357h4v2h-4zM228 357h8v2h-8zM336 357h6v2h-6zM174 359h4v2h-4zM230 359h8v2h-8zM336 359h8v2h-8zM174 361h2v2h-2zM232 361h8v2h-8zM274 361h12v2h-12zM336 361h8v2h-8zM172 363h4v2h-4zM234 363h10v2h-10zM266 363h28v2h-28zM336 363h10v2h-10zM172 365h2v2h-2zM234 365h16v2h-16zM258 365h50v2h-50zM336 365h12v2h-12zM170 367h4v2h-4zM236 367h80v2h-80zM334 367h14v2h-14zM170 369h2v2h-2zM238 369h40v2h-40zM300 369h22v2h-22zM332 369h18v2h-18zM168 371h4v2h-4zM242 371h28v2h-28zM314 371h36v2h-36zM168 373h2v2h-2zM244 373h20v2h-20zM320 373h30v2h-30zM168 375h2v2h-2zM250 375h6v2h-6zM324 375h26v2h-26zM166 377h4v2h-4zM326 377h24v2h-24zM166 379h4v2h-4zM330 379h18v2h-18zM166 381h2v2h-2zM334 381h10v2h-10zM164 383h4v2h-4zM164 385h4v2h-4zM164 387h2v2h-2zM162 389h4v2h-4zM162 391h4v2h-4zM160 393h4v2h-4zM160 395h4v2h-4zM158 397h6v2h-6zM158 399h4v2h-4zM156 401h6v2h-6zM156 403h4v2h-4zM154 405h6v2h-6zM152 407h6v2h-6zM150 409h8v2h-8zM148 411h8v2h-8zM146 413h8v2h-8zM144 415h8v2h-8zM142 417h8v2h-8zM142 419h6v2h-6zM140 421h8v2h-8zM140 423h6v2h-6zM140 425h6v2h-6zM138 427h8v2h-8zM136 429h10v2h-10zM136 431h8v2h-8zM136 433h8v2h-8z"/><path fill="#b7ff48" d="M314 85h6v2h-6zM314 87h24v2h-24zM314 89h36v2h-36zM334 91h24v2h-24zM346 93h18v2h-18zM352 95h18v2h-18zM358 97h18v2h-18zM366 99h12v2h-12zM372 101h10v2h-10zM376 103h8v2h-8zM380 105h8v2h-8zM382 107h8v2h-8zM384 109h6v2h-6zM388 111h4v2h-4zM388 113h6v2h-6zM390 115h4v2h-4zM392 117h4v2h-4zM392 119h4v2h-4zM392 121h4v2h-4zM394 123h4v2h-4zM394 125h4v2h-4zM394 127h4v2h-4zM306 129h2v2h-2zM394 129h4v2h-4zM306 131h2v2h-2zM396 131h2v2h-2zM306 133h6v2h-6zM396 133h2v2h-2zM306 135h6v2h-6zM396 135h2v2h-2zM306 137h4v2h-4zM396 137h2v2h-2zM306 139h2v2h-2zM396 139h2v2h-2zM396 141h2v2h-2zM396 143h2v2h-2zM394 145h4v2h-4zM664 145h11v2h-11zM394 147h4v2h-4zM652 147h16v2h-16zM300 149h2v2h-2zM394 149h2v2h-2zM644 149h10v2h-10zM300 151h2v2h-2zM394 151h2v2h-2zM634 151h12v2h-12zM300 153h2v2h-2zM392 153h4v2h-4zM618 153h18v2h-18zM300 155h2v2h-2zM392 155h2v2h-2zM606 155h14v2h-14zM300 157h2v2h-2zM390 157h4v2h-4zM588 157h18v2h-18zM300 159h2v2h-2zM390 159h4v2h-4zM578 159h14v2h-14zM300 161h2v2h-2zM390 161h2v2h-2zM574 161h10v2h-10zM300 163h2v2h-2zM388 163h4v2h-4zM570 163h8v2h-8zM388 165h4v2h-4zM566 165h8v2h-8zM386 167h4v2h-4zM562 167h8v2h-8zM386 169h4v2h-4zM560 169h6v2h-6zM384 171h4v2h-4zM556 171h6v2h-6zM384 173h4v2h-4zM554 173h6v2h-6zM382 175h6v2h-6zM552 175h6v2h-6zM300 177h2v2h-2zM380 177h6v2h-6zM548 177h6v2h-6zM300 179h2v2h-2zM380 179h6v2h-6zM546 179h6v2h-6zM378 181h8v2h-8zM544 181h6v2h-6zM376 183h10v2h-10zM542 183h6v2h-6zM376 185h10v2h-10zM538 185h6v2h-6zM374 187h44v2h-44zM536 187h6v2h-6zM298 189h2v2h-2zM374 189h54v2h-54zM534 189h6v2h-6zM298 191h2v2h-2zM372 191h30v2h-30zM416 191h26v2h-26zM530 191h8v2h-8zM372 193h24v2h-24zM424 193h30v2h-30zM502 193h34v2h-34zM374 195h18v2h-18zM430 195h32v2h-32zM494 195h40v2h-40zM374 197h14v2h-14zM442 197h60v2h-60zM518 197h12v2h-12zM296 199h2v2h-2zM376 199h8v2h-8zM452 199h46v2h-46zM296 201h2v2h-2zM462 201h24v2h-24zM296 203h2v2h-2zM296 205h2v2h-2zM296 207h2v2h-2zM432 207h16v2h-16zM296 209h2v2h-2zM430 209h22v2h-22zM296 211h2v2h-2zM428 211h26v2h-26zM426 213h12v2h-12zM448 213h8v2h-8zM426 215h10v2h-10zM450 215h8v2h-8zM298 217h2v2h-2zM426 217h8v2h-8zM452 217h8v2h-8zM298 219h2v2h-2zM426 219h8v2h-8zM452 219h10v2h-10zM298 221h2v2h-2zM428 221h6v2h-6zM454 221h8v2h-8zM298 223h2v2h-2zM428 223h6v2h-6zM454 223h10v2h-10zM296 225h4v2h-4zM428 225h6v2h-6zM454 225h10v2h-10zM294 227h6v2h-6zM430 227h6v2h-6zM454 227h10v2h-10zM278 229h18v2h-18zM430 229h8v2h-8zM454 229h10v2h-10zM432 231h8v2h-8zM454 231h8v2h-8zM434 233h8v2h-8zM450 233h12v2h-12zM436 235h24v2h-24zM438 237h20v2h-20zM440 239h16v2h-16zM442 241h10v2h-10zM222 243h2v2h-2zM212 245h16v2h-16zM208 247h20v2h-20zM202 249h28v2h-28zM198 251h8v2h-8zM220 251h10v2h-10zM194 253h6v2h-6zM222 253h8v2h-8zM190 255h6v2h-6zM224 255h6v2h-6zM186 257h6v2h-6zM224 257h6v2h-6zM184 259h6v2h-6zM226 259h4v2h-4zM182 261h4v2h-4zM226 261h4v2h-4zM180 263h4v2h-4zM226 263h4v2h-4zM274 263h6v2h-6zM178 265h4v2h-4zM226 265h4v2h-4zM268 265h20v2h-20zM176 267h4v2h-4zM228 267h2v2h-2zM264 267h8v2h-8zM282 267h10v2h-10zM174 269h6v2h-6zM228 269h2v2h-2zM262 269h6v2h-6zM290 269h8v2h-8zM174 271h4v2h-4zM228 271h4v2h-4zM260 271h6v2h-6zM294 271h10v2h-10zM172 273h4v2h-4zM230 273h2v2h-2zM258 273h6v2h-6zM300 273h12v2h-12zM172 275h4v2h-4zM230 275h4v2h-4zM256 275h6v2h-6zM306 275h20v2h-20zM170 277h6v2h-6zM232 277h4v2h-4zM252 277h6v2h-6zM316 277h20v2h-20zM170 279h4v2h-4zM234 279h6v2h-6zM246 279h10v2h-10zM328 279h12v2h-12zM170 281h4v2h-4zM236 281h16v2h-16zM334 281h8v2h-8zM168 283h6v2h-6zM336 283h8v2h-8zM168 285h6v2h-6zM338 285h6v2h-6zM168 287h4v2h-4zM340 287h4v2h-4zM168 289h4v2h-4zM340 289h4v2h-4zM168 291h4v2h-4zM340 291h4v2h-4zM166 293h6v2h-6zM340 293h4v2h-4zM166 295h6v2h-6zM340 295h4v2h-4zM166 297h4v2h-4zM340 297h2v2h-2zM166 299h4v2h-4zM338 299h4v2h-4zM166 301h2v2h-2zM338 301h4v2h-4zM166 303h2v2h-2zM338 303h2v2h-2zM164 305h4v2h-4zM338 305h2v2h-2zM164 307h2v2h-2zM336 307h4v2h-4zM162 309h2v2h-2zM336 309h4v2h-4zM160 311h4v2h-4zM336 311h2v2h-2zM160 313h2v2h-2zM336 313h2v2h-2zM158 315h2v2h-2zM336 315h2v2h-2zM156 317h2v2h-2zM336 317h2v2h-2zM154 319h4v2h-4zM336 319h2v2h-2zM152 321h4v2h-4zM334 321h4v2h-4zM150 323h4v2h-4zM334 323h4v2h-4zM150 325h2v2h-2zM336 325h2v2h-2zM336 327h2v2h-2zM336 329h2v2h-2zM336 331h2v2h-2zM336 333h2v2h-2zM336 335h2v2h-2zM336 337h4v2h-4zM204 339h2v2h-2zM336 339h4v2h-4zM198 341h16v2h-16zM336 341h4v2h-4zM194 343h4v2h-4zM210 343h6v2h-6zM338 343h4v2h-4zM192 345h4v2h-4zM214 345h4v2h-4zM338 345h4v2h-4zM188 347h4v2h-4zM216 347h4v2h-4zM338 347h4v2h-4zM186 349h4v2h-4zM218 349h4v2h-4zM338 349h6v2h-6zM184 351h4v2h-4zM218 351h6v2h-6zM340 351h6v2h-6zM182 353h4v2h-4zM220 353h6v2h-6zM340 353h6v2h-6zM182 355h2v2h-2zM222 355h6v2h-6zM342 355h6v2h-6zM180 357h2v2h-2zM222 357h6v2h-6zM342 357h8v2h-8zM178 359h4v2h-4zM224 359h6v2h-6zM344 359h6v2h-6zM176 361h4v2h-4zM226 361h6v2h-6zM344 361h8v2h-8zM176 363h4v2h-4zM226 363h8v2h-8zM346 363h8v2h-8zM174 365h4v2h-4zM228 365h6v2h-6zM348 365h6v2h-6zM174 367h2v2h-2zM228 367h8v2h-8zM348 367h8v2h-8zM172 369h4v2h-4zM230 369h8v2h-8zM278 369h22v2h-22zM350 369h6v2h-6zM172 371h4v2h-4zM230 371h12v2h-12zM270 371h44v2h-44zM350 371h6v2h-6zM170 373h4v2h-4zM232 373h12v2h-12zM264 373h56v2h-56zM350 373h6v2h-6zM170 375h4v2h-4zM234 375h16v2h-16zM256 375h48v2h-48zM310 375h14v2h-14zM350 375h6v2h-6zM170 377h2v2h-2zM236 377h60v2h-60zM316 377h10v2h-10zM350 377h6v2h-6zM170 379h2v2h-2zM238 379h52v2h-52zM318 379h12v2h-12zM348 379h8v2h-8zM168 381h4v2h-4zM240 381h36v2h-36zM320 381h14v2h-14zM344 381h10v2h-10zM168 383h4v2h-4zM242 383h26v2h-26zM322 383h30v2h-30zM168 385h2v2h-2zM246 385h16v2h-16zM322 385h28v2h-28zM166 387h4v2h-4zM324 387h22v2h-22zM166 389h4v2h-4zM324 389h18v2h-18zM166 391h4v2h-4zM324 391h16v2h-16zM164 393h4v2h-4zM324 393h14v2h-14zM164 395h4v2h-4zM322 395h16v2h-16zM164 397h4v2h-4zM322 397h16v2h-16zM162 399h4v2h-4zM320 399h18v2h-18zM162 401h4v2h-4zM320 401h18v2h-18zM160 403h6v2h-6zM316 403h22v2h-22zM160 405h4v2h-4zM312 405h24v2h-24zM158 407h6v2h-6zM308 407h28v2h-28zM158 409h4v2h-4zM302 409h34v2h-34zM156 411h6v2h-6zM302 411h32v2h-32zM154 413h6v2h-6zM304 413h28v2h-28zM152 415h6v2h-6zM304 415h26v2h-26zM150 417h8v2h-8zM308 417h18v2h-18zM148 419h8v2h-8zM316 419h2v2h-2zM148 421h6v2h-6zM146 423h8v2h-8zM146 425h6v2h-6zM146 427h6v2h-6zM146 429h4v2h-4zM144 431h6v2h-6zM144 433h4v2h-4zM142 435h4v2h-4zM142 437h4v2h-4zM142 439h2v2h-2z"/><path fill="#c7ff38" d="M314 91h20v2h-20zM306 93h40v2h-40zM306 95h4v2h-4zM336 95h16v2h-16zM306 97h2v2h-2zM346 97h12v2h-12zM306 99h2v2h-2zM352 99h14v2h-14zM306 101h2v2h-2zM358 101h14v2h-14zM306 103h2v2h-2zM364 103h12v2h-12zM306 105h4v2h-4zM370 105h10v2h-10zM306 107h6v2h-6zM374 107h8v2h-8zM306 109h8v2h-8zM378 109h6v2h-6zM306 111h8v2h-8zM380 111h8v2h-8zM306 113h6v2h-6zM384 113h4v2h-4zM306 115h4v2h-4zM386 115h4v2h-4zM306 117h2v2h-2zM386 117h6v2h-6zM306 119h2v2h-2zM388 119h4v2h-4zM306 121h2v2h-2zM388 121h4v2h-4zM306 123h2v2h-2zM390 123h4v2h-4zM306 125h2v2h-2zM390 125h4v2h-4zM306 127h4v2h-4zM390 127h4v2h-4zM308 129h4v2h-4zM392 129h2v2h-2zM308 131h10v2h-10zM392 131h4v2h-4zM312 133h8v2h-8zM392 133h4v2h-4zM312 135h8v2h-8zM392 135h4v2h-4zM310 137h8v2h-8zM392 137h4v2h-4zM308 139h8v2h-8zM392 139h4v2h-4zM306 141h4v2h-4zM392 141h4v2h-4zM392 143h4v2h-4zM302 145h2v2h-2zM392 145h2v2h-2zM302 147h2v2h-2zM392 147h2v2h-2zM668 147h7v2h-7zM390 149h4v2h-4zM654 149h21v2h-21zM390 151h4v2h-4zM646 151h14v2h-14zM390 153h2v2h-2zM636 153h14v2h-14zM388 155h4v2h-4zM620 155h24v2h-24zM388 157h2v2h-2zM606 157h30v2h-30zM386 159h4v2h-4zM592 159h16v2h-16zM386 161h4v2h-4zM584 161h14v2h-14zM384 163h4v2h-4zM578 163h10v2h-10zM384 165h4v2h-4zM574 165h10v2h-10zM302 167h2v2h-2zM382 167h4v2h-4zM570 167h10v2h-10zM302 169h2v2h-2zM382 169h4v2h-4zM566 169h10v2h-10zM302 171h2v2h-2zM380 171h4v2h-4zM562 171h10v2h-10zM302 173h2v2h-2zM378 173h6v2h-6zM560 173h10v2h-10zM302 175h2v2h-2zM378 175h4v2h-4zM558 175h10v2h-10zM376 177h4v2h-4zM554 177h12v2h-12zM374 179h6v2h-6zM552 179h14v2h-14zM300 181h2v2h-2zM374 181h4v2h-4zM550 181h16v2h-16zM372 183h4v2h-4zM548 183h20v2h-20zM370 185h6v2h-6zM544 185h26v2h-26zM370 187h4v2h-4zM542 187h30v2h-30zM368 189h6v2h-6zM540 189h34v2h-34zM368 191h4v2h-4zM402 191h14v2h-14zM538 191h38v2h-38zM298 193h2v2h-2zM368 193h4v2h-4zM396 193h28v2h-28zM536 193h42v2h-42zM298 195h2v2h-2zM368 195h6v2h-6zM392 195h38v2h-38zM534 195h44v2h-44zM368 197h6v2h-6zM388 197h54v2h-54zM502 197h16v2h-16zM530 197h48v2h-48zM370 199h6v2h-6zM384 199h68v2h-68zM498 199h46v2h-46zM552 199h26v2h-26zM370 201h92v2h-92zM486 201h54v2h-54zM554 201h24v2h-24zM372 203h132v2h-132zM516 203h20v2h-20zM556 203h22v2h-22zM374 205h24v2h-24zM404 205h94v2h-94zM524 205h6v2h-6zM560 205h16v2h-16zM378 207h14v2h-14zM406 207h26v2h-26zM448 207h38v2h-38zM566 207h6v2h-6zM298 209h2v2h-2zM406 209h24v2h-24zM452 209h26v2h-26zM298 211h2v2h-2zM408 211h20v2h-20zM454 211h20v2h-20zM298 213h2v2h-2zM408 213h18v2h-18zM456 213h18v2h-18zM298 215h2v2h-2zM410 215h16v2h-16zM458 215h14v2h-14zM300 217h2v2h-2zM412 217h14v2h-14zM460 217h12v2h-12zM300 219h2v2h-2zM414 219h12v2h-12zM462 219h10v2h-10zM300 221h2v2h-2zM416 221h12v2h-12zM462 221h10v2h-10zM300 223h2v2h-2zM418 223h10v2h-10zM464 223h6v2h-6zM300 225h4v2h-4zM418 225h10v2h-10zM464 225h6v2h-6zM300 227h2v2h-2zM420 227h10v2h-10zM464 227h6v2h-6zM268 229h10v2h-10zM296 229h6v2h-6zM422 229h8v2h-8zM464 229h6v2h-6zM278 231h22v2h-22zM424 231h8v2h-8zM462 231h6v2h-6zM426 233h8v2h-8zM462 233h6v2h-6zM228 235h6v2h-6zM426 235h10v2h-10zM460 235h6v2h-6zM214 237h22v2h-22zM428 237h10v2h-10zM458 237h6v2h-6zM212 239h24v2h-24zM430 239h10v2h-10zM456 239h8v2h-8zM212 241h24v2h-24zM432 241h10v2h-10zM452 241h10v2h-10zM204 243h18v2h-18zM224 243h12v2h-12zM434 243h26v2h-26zM202 245h10v2h-10zM228 245h8v2h-8zM436 245h22v2h-22zM202 247h6v2h-6zM228 247h8v2h-8zM438 247h18v2h-18zM230 249h6v2h-6zM442 249h10v2h-10zM190 251h8v2h-8zM230 251h6v2h-6zM186 253h8v2h-8zM230 253h6v2h-6zM186 255h4v2h-4zM230 255h4v2h-4zM230 257h4v2h-4zM178 259h6v2h-6zM230 259h4v2h-4zM176 261h6v2h-6zM230 261h4v2h-4zM270 261h14v2h-14zM176 263h4v2h-4zM230 263h4v2h-4zM264 263h10v2h-10zM280 263h10v2h-10zM176 265h2v2h-2zM230 265h4v2h-4zM262 265h6v2h-6zM288 265h8v2h-8zM170 267h6v2h-6zM230 267h4v2h-4zM258 267h6v2h-6zM292 267h10v2h-10zM170 269h4v2h-4zM230 269h4v2h-4zM256 269h6v2h-6zM298 269h10v2h-10zM168 271h6v2h-6zM232 271h4v2h-4zM254 271h6v2h-6zM304 271h16v2h-16zM168 273h4v2h-4zM232 273h6v2h-6zM252 273h6v2h-6zM312 273h24v2h-24zM168 275h4v2h-4zM234 275h6v2h-6zM246 275h10v2h-10zM326 275h16v2h-16zM168 277h2v2h-2zM236 277h16v2h-16zM336 277h8v2h-8zM168 279h2v2h-2zM240 279h6v2h-6zM340 279h6v2h-6zM168 281h2v2h-2zM342 281h4v2h-4zM344 283h4v2h-4zM344 285h4v2h-4zM344 287h4v2h-4zM162 289h6v2h-6zM344 289h4v2h-4zM162 291h6v2h-6zM344 291h4v2h-4zM162 293h4v2h-4zM344 293h4v2h-4zM162 295h4v2h-4zM344 295h2v2h-2zM162 297h4v2h-4zM342 297h4v2h-4zM162 299h4v2h-4zM342 299h4v2h-4zM162 301h4v2h-4zM342 301h2v2h-2zM162 303h4v2h-4zM340 303h4v2h-4zM160 305h4v2h-4zM340 305h4v2h-4zM160 307h4v2h-4zM340 307h4v2h-4zM158 309h4v2h-4zM340 309h2v2h-2zM158 311h2v2h-2zM338 311h4v2h-4zM156 313h4v2h-4zM338 313h4v2h-4zM154 315h4v2h-4zM338 315h4v2h-4zM152 317h4v2h-4zM338 317h4v2h-4zM150 319h4v2h-4zM338 319h4v2h-4zM150 321h2v2h-2zM338 321h4v2h-4zM338 323h4v2h-4zM338 325h4v2h-4zM338 327h4v2h-4zM338 329h4v2h-4zM338 331h4v2h-4zM338 333h4v2h-4zM338 335h6v2h-6zM340 337h4v2h-4zM340 339h4v2h-4zM340 341h6v2h-6zM198 343h12v2h-12zM342 343h4v2h-4zM196 345h6v2h-6zM206 345h8v2h-8zM342 345h6v2h-6zM192 347h4v2h-4zM210 347h6v2h-6zM342 347h8v2h-8zM190 349h4v2h-4zM212 349h6v2h-6zM344 349h6v2h-6zM188 351h4v2h-4zM212 351h6v2h-6zM346 351h6v2h-6zM186 353h4v2h-4zM214 353h6v2h-6zM346 353h8v2h-8zM184 355h4v2h-4zM216 355h6v2h-6zM348 355h8v2h-8zM182 357h4v2h-4zM216 357h6v2h-6zM350 357h6v2h-6zM182 359h4v2h-4zM218 359h6v2h-6zM350 359h8v2h-8zM674 359h1v2h-1zM180 361h4v2h-4zM218 361h8v2h-8zM352 361h6v2h-6zM672 361h3v2h-3zM180 363h2v2h-2zM220 363h6v2h-6zM354 363h6v2h-6zM670 363h5v2h-5zM178 365h4v2h-4zM220 365h8v2h-8zM354 365h6v2h-6zM670 365h5v2h-5zM176 367h4v2h-4zM222 367h6v2h-6zM356 367h4v2h-4zM670 367h5v2h-5zM176 369h4v2h-4zM222 369h8v2h-8zM356 369h4v2h-4zM672 369h3v2h-3zM176 371h4v2h-4zM222 371h8v2h-8zM356 371h4v2h-4zM174 373h4v2h-4zM224 373h8v2h-8zM356 373h4v2h-4zM174 375h4v2h-4zM226 375h8v2h-8zM304 375h6v2h-6zM356 375h4v2h-4zM172 377h4v2h-4zM226 377h10v2h-10zM296 377h20v2h-20zM356 377h4v2h-4zM172 379h4v2h-4zM228 379h10v2h-10zM290 379h28v2h-28zM356 379h4v2h-4zM172 381h4v2h-4zM230 381h10v2h-10zM276 381h44v2h-44zM354 381h4v2h-4zM172 383h4v2h-4zM232 383h10v2h-10zM268 383h54v2h-54zM352 383h6v2h-6zM170 385h4v2h-4zM234 385h12v2h-12zM262 385h60v2h-60zM350 385h6v2h-6zM170 387h4v2h-4zM236 387h88v2h-88zM346 387h6v2h-6zM170 389h4v2h-4zM238 389h86v2h-86zM342 389h6v2h-6zM170 391h4v2h-4zM240 391h84v2h-84zM340 391h6v2h-6zM168 393h4v2h-4zM244 393h80v2h-80zM338 393h6v2h-6zM168 395h4v2h-4zM250 395h72v2h-72zM338 395h4v2h-4zM168 397h4v2h-4zM276 397h46v2h-46zM338 397h4v2h-4zM166 399h4v2h-4zM278 399h42v2h-42zM338 399h4v2h-4zM166 401h4v2h-4zM282 401h38v2h-38zM338 401h4v2h-4zM166 403h4v2h-4zM284 403h32v2h-32zM338 403h2v2h-2zM164 405h4v2h-4zM286 405h26v2h-26zM336 405h4v2h-4zM164 407h4v2h-4zM288 407h20v2h-20zM336 407h4v2h-4zM162 409h4v2h-4zM288 409h14v2h-14zM336 409h2v2h-2zM162 411h4v2h-4zM290 411h12v2h-12zM334 411h4v2h-4zM160 413h4v2h-4zM292 413h12v2h-12zM332 413h4v2h-4zM158 415h6v2h-6zM294 415h10v2h-10zM330 415h4v2h-4zM158 417h4v2h-4zM298 417h10v2h-10zM326 417h6v2h-6zM156 419h4v2h-4zM300 419h16v2h-16zM318 419h10v2h-10zM154 421h6v2h-6zM306 421h18v2h-18zM154 423h4v2h-4zM152 425h4v2h-4zM152 427h4v2h-4zM150 429h4v2h-4zM150 431h2v2h-2zM148 433h4v2h-4zM146 435h4v2h-4zM146 437h4v2h-4zM144 439h4v2h-4zM142 441h4v2h-4zM142 443h4v2h-4zM142 445h2v2h-2z"/><path fill="#d7ff28" d="M310 95h26v2h-26zM308 97h38v2h-38zM308 99h4v2h-4zM340 99h12v2h-12zM308 101h4v2h-4zM348 101h10v2h-10zM308 103h6v2h-6zM354 103h10v2h-10zM310 105h6v2h-6zM358 105h12v2h-12zM312 107h6v2h-6zM364 107h10v2h-10zM314 109h4v2h-4zM370 109h8v2h-8zM314 111h4v2h-4zM374 111h6v2h-6zM312 113h6v2h-6zM378 113h6v2h-6zM310 115h6v2h-6zM380 115h6v2h-6zM308 117h4v2h-4zM382 117h4v2h-4zM308 119h4v2h-4zM384 119h4v2h-4zM308 121h2v2h-2zM386 121h2v2h-2zM308 123h2v2h-2zM386 123h4v2h-4zM308 125h4v2h-4zM388 125h2v2h-2zM310 127h6v2h-6zM388 127h2v2h-2zM312 129h8v2h-8zM388 129h4v2h-4zM318 131h4v2h-4zM388 131h4v2h-4zM320 133h4v2h-4zM390 133h2v2h-2zM320 135h4v2h-4zM390 135h2v2h-2zM318 137h4v2h-4zM390 137h2v2h-2zM316 139h4v2h-4zM390 139h2v2h-2zM310 141h6v2h-6zM390 141h2v2h-2zM306 143h4v2h-4zM390 143h2v2h-2zM304 145h2v2h-2zM390 145h2v2h-2zM388 147h4v2h-4zM302 149h2v2h-2zM388 149h2v2h-2zM302 151h2v2h-2zM388 151h2v2h-2zM660 151h15v2h-15zM302 153h2v2h-2zM386 153h4v2h-4zM650 153h25v2h-25zM302 155h2v2h-2zM386 155h2v2h-2zM644 155h14v2h-14zM302 157h2v2h-2zM384 157h4v2h-4zM636 157h16v2h-16zM302 159h2v2h-2zM384 159h2v2h-2zM608 159h40v2h-40zM302 161h2v2h-2zM382 161h4v2h-4zM598 161h18v2h-18zM626 161h20v2h-20zM302 163h2v2h-2zM382 163h2v2h-2zM588 163h16v2h-16zM634 163h10v2h-10zM302 165h2v2h-2zM380 165h4v2h-4zM584 165h12v2h-12zM638 165h2v2h-2zM380 167h2v2h-2zM580 167h10v2h-10zM378 169h4v2h-4zM576 169h10v2h-10zM376 171h4v2h-4zM572 171h12v2h-12zM376 173h2v2h-2zM570 173h12v2h-12zM374 175h4v2h-4zM568 175h12v2h-12zM302 177h2v2h-2zM372 177h4v2h-4zM566 177h14v2h-14zM372 179h2v2h-2zM566 179h12v2h-12zM370 181h4v2h-4zM566 181h14v2h-14zM300 183h2v2h-2zM368 183h4v2h-4zM568 183h12v2h-12zM300 185h2v2h-2zM368 185h2v2h-2zM570 185h10v2h-10zM300 187h2v2h-2zM366 187h4v2h-4zM572 187h10v2h-10zM300 189h2v2h-2zM366 189h2v2h-2zM574 189h8v2h-8zM366 191h2v2h-2zM576 191h6v2h-6zM366 193h2v2h-2zM578 193h4v2h-4zM364 195h4v2h-4zM578 195h4v2h-4zM298 197h2v2h-2zM366 197h2v2h-2zM578 197h4v2h-4zM298 199h2v2h-2zM366 199h4v2h-4zM544 199h8v2h-8zM578 199h4v2h-4zM298 201h2v2h-2zM366 201h4v2h-4zM540 201h14v2h-14zM578 201h4v2h-4zM298 203h2v2h-2zM366 203h6v2h-6zM504 203h12v2h-12zM536 203h20v2h-20zM578 203h4v2h-4zM298 205h2v2h-2zM368 205h6v2h-6zM398 205h6v2h-6zM498 205h26v2h-26zM530 205h30v2h-30zM576 205h4v2h-4zM298 207h2v2h-2zM370 207h8v2h-8zM392 207h14v2h-14zM486 207h80v2h-80zM572 207h8v2h-8zM372 209h34v2h-34zM478 209h98v2h-98zM300 211h2v2h-2zM374 211h34v2h-34zM474 211h28v2h-28zM516 211h24v2h-24zM552 211h20v2h-20zM300 213h2v2h-2zM378 213h30v2h-30zM474 213h18v2h-18zM300 215h2v2h-2zM382 215h28v2h-28zM472 215h14v2h-14zM388 217h24v2h-24zM472 217h10v2h-10zM302 219h2v2h-2zM394 219h20v2h-20zM472 219h8v2h-8zM302 221h2v2h-2zM398 221h18v2h-18zM472 221h8v2h-8zM302 223h4v2h-4zM402 223h16v2h-16zM470 223h8v2h-8zM304 225h2v2h-2zM404 225h14v2h-14zM470 225h6v2h-6zM302 227h4v2h-4zM406 227h14v2h-14zM470 227h6v2h-6zM228 229h40v2h-40zM302 229h4v2h-4zM408 229h14v2h-14zM470 229h4v2h-4zM228 231h20v2h-20zM270 231h8v2h-8zM300 231h4v2h-4zM412 231h12v2h-12zM468 231h6v2h-6zM228 233h16v2h-16zM278 233h24v2h-24zM414 233h12v2h-12zM468 233h4v2h-4zM234 235h8v2h-8zM416 235h10v2h-10zM466 235h6v2h-6zM212 237h2v2h-2zM236 237h6v2h-6zM418 237h10v2h-10zM464 237h6v2h-6zM236 239h6v2h-6zM420 239h10v2h-10zM464 239h4v2h-4zM236 241h6v2h-6zM422 241h10v2h-10zM462 241h4v2h-4zM202 243h2v2h-2zM236 243h6v2h-6zM424 243h10v2h-10zM460 243h6v2h-6zM236 245h6v2h-6zM426 245h10v2h-10zM458 245h6v2h-6zM236 247h4v2h-4zM428 247h10v2h-10zM456 247h6v2h-6zM236 249h4v2h-4zM428 249h14v2h-14zM452 249h8v2h-8zM186 251h4v2h-4zM236 251h4v2h-4zM432 251h28v2h-28zM236 253h4v2h-4zM434 253h24v2h-24zM234 255h6v2h-6zM436 255h20v2h-20zM234 257h6v2h-6zM440 257h12v2h-12zM176 259h2v2h-2zM234 259h6v2h-6zM268 259h18v2h-18zM234 261h6v2h-6zM262 261h8v2h-8zM284 261h8v2h-8zM234 263h6v2h-6zM258 263h6v2h-6zM290 263h8v2h-8zM234 265h6v2h-6zM254 265h8v2h-8zM296 265h8v2h-8zM168 267h2v2h-2zM234 267h6v2h-6zM252 267h6v2h-6zM302 267h12v2h-12zM168 269h2v2h-2zM234 269h22v2h-22zM308 269h26v2h-26zM236 271h18v2h-18zM320 271h22v2h-22zM238 273h14v2h-14zM336 273h8v2h-8zM240 275h6v2h-6zM342 275h4v2h-4zM344 277h4v2h-4zM346 279h4v2h-4zM346 281h4v2h-4zM348 283h2v2h-2zM348 285h2v2h-2zM348 287h2v2h-2zM158 289h4v2h-4zM348 289h2v2h-2zM158 291h4v2h-4zM348 291h2v2h-2zM158 293h4v2h-4zM348 293h2v2h-2zM158 295h4v2h-4zM346 295h4v2h-4zM158 297h4v2h-4zM346 297h4v2h-4zM158 299h4v2h-4zM346 299h2v2h-2zM158 301h4v2h-4zM344 301h4v2h-4zM158 303h4v2h-4zM344 303h4v2h-4zM156 305h4v2h-4zM344 305h4v2h-4zM156 307h4v2h-4zM344 307h4v2h-4zM154 309h4v2h-4zM342 309h4v2h-4zM154 311h4v2h-4zM342 311h4v2h-4zM152 313h4v2h-4zM342 313h4v2h-4zM150 315h4v2h-4zM342 315h4v2h-4zM150 317h2v2h-2zM342 317h4v2h-4zM342 319h4v2h-4zM342 321h4v2h-4zM342 323h4v2h-4zM342 325h4v2h-4zM342 327h6v2h-6zM342 329h6v2h-6zM342 331h6v2h-6zM342 333h8v2h-8zM344 335h6v2h-6zM344 337h8v2h-8zM344 339h8v2h-8zM346 341h8v2h-8zM346 343h8v2h-8zM202 345h4v2h-4zM348 345h8v2h-8zM196 347h14v2h-14zM350 347h8v2h-8zM194 349h18v2h-18zM350 349h8v2h-8zM192 351h6v2h-6zM206 351h6v2h-6zM352 351h8v2h-8zM190 353h6v2h-6zM208 353h6v2h-6zM354 353h6v2h-6zM670 353h5v2h-5zM188 355h6v2h-6zM210 355h6v2h-6zM356 355h6v2h-6zM664 355h11v2h-11zM186 357h6v2h-6zM210 357h6v2h-6zM356 357h6v2h-6zM658 357h17v2h-17zM186 359h4v2h-4zM212 359h6v2h-6zM358 359h4v2h-4zM630 359h44v2h-44zM184 361h6v2h-6zM212 361h6v2h-6zM358 361h6v2h-6zM620 361h52v2h-52zM182 363h6v2h-6zM212 363h8v2h-8zM360 363h4v2h-4zM608 363h62v2h-62zM182 365h4v2h-4zM214 365h6v2h-6zM360 365h4v2h-4zM604 365h66v2h-66zM180 367h6v2h-6zM214 367h8v2h-8zM360 367h4v2h-4zM584 367h86v2h-86zM180 369h6v2h-6zM214 369h8v2h-8zM360 369h4v2h-4zM576 369h96v2h-96zM180 371h4v2h-4zM214 371h8v2h-8zM360 371h4v2h-4zM574 371h101v2h-101zM178 373h6v2h-6zM216 373h8v2h-8zM360 373h4v2h-4zM574 373h20v2h-20zM654 373h21v2h-21zM178 375h4v2h-4zM216 375h10v2h-10zM360 375h4v2h-4zM576 375h12v2h-12zM660 375h15v2h-15zM176 377h6v2h-6zM218 377h8v2h-8zM360 377h4v2h-4zM666 377h9v2h-9zM176 379h6v2h-6zM218 379h10v2h-10zM360 379h2v2h-2zM670 379h5v2h-5zM176 381h4v2h-4zM220 381h10v2h-10zM358 381h4v2h-4zM674 381h1v2h-1zM176 383h4v2h-4zM222 383h10v2h-10zM358 383h2v2h-2zM174 385h6v2h-6zM224 385h10v2h-10zM356 385h2v2h-2zM174 387h4v2h-4zM226 387h10v2h-10zM352 387h4v2h-4zM174 389h4v2h-4zM228 389h10v2h-10zM348 389h6v2h-6zM174 391h4v2h-4zM232 391h8v2h-8zM346 391h4v2h-4zM172 393h4v2h-4zM234 393h10v2h-10zM344 393h4v2h-4zM172 395h4v2h-4zM236 395h14v2h-14zM342 395h4v2h-4zM172 397h4v2h-4zM240 397h36v2h-36zM342 397h2v2h-2zM170 399h4v2h-4zM244 399h34v2h-34zM342 399h2v2h-2zM170 401h4v2h-4zM252 401h30v2h-30zM342 401h2v2h-2zM170 403h2v2h-2zM268 403h16v2h-16zM340 403h4v2h-4zM168 405h4v2h-4zM274 405h12v2h-12zM340 405h2v2h-2zM168 407h2v2h-2zM278 407h10v2h-10zM340 407h2v2h-2zM166 409h4v2h-4zM282 409h6v2h-6zM338 409h2v2h-2zM166 411h2v2h-2zM284 411h6v2h-6zM338 411h2v2h-2zM164 413h4v2h-4zM286 413h6v2h-6zM336 413h2v2h-2zM164 415h2v2h-2zM288 415h6v2h-6zM334 415h2v2h-2zM162 417h4v2h-4zM292 417h6v2h-6zM332 417h2v2h-2zM160 419h4v2h-4zM294 419h6v2h-6zM328 419h4v2h-4zM160 421h2v2h-2zM298 421h8v2h-8zM324 421h4v2h-4zM158 423h4v2h-4zM302 423h22v2h-22zM156 425h4v2h-4zM156 427h2v2h-2zM154 429h4v2h-4zM152 431h4v2h-4zM152 433h2v2h-2zM150 435h4v2h-4zM150 437h2v2h-2zM148 439h2v2h-2zM146 441h4v2h-4zM146 443h2v2h-2zM144 445h2v2h-2zM142 447h2v2h-2z"/><path fill="#e7ff18" d="M312 99h28v2h-28zM312 101h36v2h-36zM314 103h10v2h-10zM344 103h10v2h-10zM316 105h6v2h-6zM350 105h8v2h-8zM318 107h4v2h-4zM354 107h10v2h-10zM318 109h4v2h-4zM360 109h10v2h-10zM318 111h4v2h-4zM364 111h10v2h-10zM318 113h4v2h-4zM370 113h8v2h-8zM316 115h4v2h-4zM374 115h6v2h-6zM312 117h6v2h-6zM376 117h6v2h-6zM312 119h4v2h-4zM380 119h4v2h-4zM310 121h4v2h-4zM382 121h4v2h-4zM310 123h6v2h-6zM382 123h4v2h-4zM312 125h8v2h-8zM384 125h4v2h-4zM316 127h8v2h-8zM384 127h4v2h-4zM320 129h4v2h-4zM386 129h2v2h-2zM322 131h4v2h-4zM386 131h2v2h-2zM324 133h2v2h-2zM386 133h4v2h-4zM324 135h2v2h-2zM386 135h4v2h-4zM322 137h4v2h-4zM388 137h2v2h-2zM320 139h4v2h-4zM388 139h2v2h-2zM316 141h4v2h-4zM388 141h2v2h-2zM310 143h6v2h-6zM386 143h4v2h-4zM306 145h4v2h-4zM386 145h4v2h-4zM304 147h2v2h-2zM386 147h2v2h-2zM386 149h2v2h-2zM384 151h4v2h-4zM384 153h2v2h-2zM382 155h4v2h-4zM658 155h17v2h-17zM382 157h2v2h-2zM652 157h23v2h-23zM380 159h4v2h-4zM648 159h16v2h-16zM380 161h2v2h-2zM616 161h10v2h-10zM646 161h12v2h-12zM378 163h4v2h-4zM604 163h30v2h-30zM644 163h10v2h-10zM304 165h2v2h-2zM378 165h2v2h-2zM596 165h42v2h-42zM640 165h12v2h-12zM304 167h2v2h-2zM376 167h4v2h-4zM590 167h14v2h-14zM628 167h20v2h-20zM304 169h2v2h-2zM374 169h4v2h-4zM586 169h12v2h-12zM632 169h14v2h-14zM304 171h2v2h-2zM374 171h2v2h-2zM584 171h10v2h-10zM304 173h2v2h-2zM372 173h4v2h-4zM582 173h10v2h-10zM304 175h2v2h-2zM372 175h2v2h-2zM580 175h10v2h-10zM370 177h2v2h-2zM580 177h8v2h-8zM302 179h2v2h-2zM368 179h4v2h-4zM578 179h10v2h-10zM302 181h2v2h-2zM368 181h2v2h-2zM580 181h8v2h-8zM366 183h2v2h-2zM580 183h8v2h-8zM364 185h4v2h-4zM580 185h8v2h-8zM364 187h2v2h-2zM582 187h6v2h-6zM364 189h2v2h-2zM582 189h6v2h-6zM300 191h2v2h-2zM362 191h4v2h-4zM582 191h6v2h-6zM300 193h2v2h-2zM362 193h4v2h-4zM582 193h6v2h-6zM300 195h2v2h-2zM362 195h2v2h-2zM582 195h6v2h-6zM300 197h2v2h-2zM362 197h4v2h-4zM582 197h4v2h-4zM362 199h4v2h-4zM582 199h4v2h-4zM362 201h4v2h-4zM582 201h4v2h-4zM300 203h2v2h-2zM364 203h2v2h-2zM582 203h4v2h-4zM300 205h2v2h-2zM364 205h4v2h-4zM580 205h4v2h-4zM300 207h2v2h-2zM364 207h6v2h-6zM580 207h4v2h-4zM300 209h2v2h-2zM366 209h6v2h-6zM576 209h6v2h-6zM368 211h6v2h-6zM502 211h14v2h-14zM540 211h12v2h-12zM572 211h8v2h-8zM302 213h2v2h-2zM370 213h8v2h-8zM492 213h84v2h-84zM302 215h2v2h-2zM372 215h10v2h-10zM486 215h86v2h-86zM302 217h2v2h-2zM374 217h14v2h-14zM482 217h80v2h-80zM304 219h2v2h-2zM376 219h18v2h-18zM480 219h14v2h-14zM304 221h2v2h-2zM380 221h18v2h-18zM480 221h10v2h-10zM306 223h2v2h-2zM384 223h18v2h-18zM478 223h8v2h-8zM306 225h2v2h-2zM386 225h18v2h-18zM476 225h8v2h-8zM306 227h2v2h-2zM390 227h16v2h-16zM476 227h6v2h-6zM306 229h2v2h-2zM394 229h14v2h-14zM474 229h6v2h-6zM248 231h22v2h-22zM304 231h4v2h-4zM396 231h16v2h-16zM474 231h4v2h-4zM244 233h8v2h-8zM270 233h8v2h-8zM302 233h4v2h-4zM400 233h14v2h-14zM472 233h6v2h-6zM242 235h6v2h-6zM278 235h26v2h-26zM402 235h14v2h-14zM472 235h4v2h-4zM242 237h6v2h-6zM404 237h14v2h-14zM470 237h4v2h-4zM242 239h4v2h-4zM408 239h12v2h-12zM468 239h4v2h-4zM242 241h4v2h-4zM410 241h12v2h-12zM466 241h6v2h-6zM242 243h4v2h-4zM412 243h12v2h-12zM466 243h4v2h-4zM242 245h4v2h-4zM414 245h12v2h-12zM464 245h4v2h-4zM240 247h6v2h-6zM416 247h12v2h-12zM462 247h6v2h-6zM240 249h6v2h-6zM418 249h10v2h-10zM460 249h6v2h-6zM240 251h6v2h-6zM420 251h12v2h-12zM460 251h4v2h-4zM240 253h6v2h-6zM422 253h12v2h-12zM458 253h6v2h-6zM240 255h6v2h-6zM424 255h12v2h-12zM456 255h6v2h-6zM240 257h6v2h-6zM266 257h22v2h-22zM426 257h14v2h-14zM452 257h10v2h-10zM240 259h8v2h-8zM256 259h12v2h-12zM286 259h8v2h-8zM428 259h32v2h-32zM240 261h22v2h-22zM292 261h10v2h-10zM432 261h26v2h-26zM240 263h18v2h-18zM298 263h10v2h-10zM436 263h20v2h-20zM240 265h14v2h-14zM304 265h28v2h-28zM440 265h14v2h-14zM240 267h12v2h-12zM314 267h26v2h-26zM334 269h10v2h-10zM342 271h6v2h-6zM344 273h6v2h-6zM346 275h4v2h-4zM348 277h4v2h-4zM350 279h2v2h-2zM350 281h4v2h-4zM350 283h4v2h-4zM350 285h4v2h-4zM350 287h4v2h-4zM350 289h4v2h-4zM350 291h4v2h-4zM350 293h4v2h-4zM350 295h4v2h-4zM350 297h2v2h-2zM348 299h4v2h-4zM348 301h4v2h-4zM152 303h6v2h-6zM348 303h4v2h-4zM152 305h4v2h-4zM348 305h4v2h-4zM150 307h6v2h-6zM348 307h4v2h-4zM150 309h4v2h-4zM346 309h6v2h-6zM150 311h4v2h-4zM346 311h6v2h-6zM150 313h2v2h-2zM346 313h6v2h-6zM346 315h6v2h-6zM346 317h8v2h-8zM346 319h8v2h-8zM346 321h10v2h-10zM346 323h12v2h-12zM346 325h12v2h-12zM348 327h12v2h-12zM348 329h12v2h-12zM348 331h12v2h-12zM350 333h10v2h-10zM350 335h12v2h-12zM352 337h10v2h-10zM352 339h10v2h-10zM354 341h8v2h-8zM354 343h10v2h-10zM356 345h8v2h-8zM358 347h6v2h-6zM672 347h3v2h-3zM358 349h6v2h-6zM662 349h13v2h-13zM198 351h8v2h-8zM360 351h6v2h-6zM636 351h39v2h-39zM196 353h12v2h-12zM360 353h6v2h-6zM624 353h46v2h-46zM194 355h16v2h-16zM362 355h4v2h-4zM612 355h52v2h-52zM192 357h18v2h-18zM362 357h4v2h-4zM602 357h56v2h-56zM190 359h22v2h-22zM362 359h6v2h-6zM592 359h38v2h-38zM190 361h22v2h-22zM364 361h4v2h-4zM574 361h46v2h-46zM188 363h24v2h-24zM364 363h4v2h-4zM568 363h40v2h-40zM186 365h28v2h-28zM364 365h4v2h-4zM566 365h38v2h-38zM186 367h28v2h-28zM364 367h4v2h-4zM566 367h18v2h-18zM186 369h28v2h-28zM364 369h4v2h-4zM564 369h12v2h-12zM184 371h30v2h-30zM364 371h4v2h-4zM562 371h12v2h-12zM184 373h32v2h-32zM364 373h4v2h-4zM562 373h12v2h-12zM594 373h60v2h-60zM182 375h34v2h-34zM364 375h2v2h-2zM562 375h14v2h-14zM588 375h72v2h-72zM182 377h12v2h-12zM198 377h20v2h-20zM364 377h2v2h-2zM562 377h104v2h-104zM182 379h10v2h-10zM202 379h16v2h-16zM362 379h4v2h-4zM562 379h54v2h-54zM624 379h46v2h-46zM180 381h10v2h-10zM206 381h14v2h-14zM362 381h2v2h-2zM564 381h34v2h-34zM654 381h20v2h-20zM180 383h8v2h-8zM210 383h12v2h-12zM360 383h4v2h-4zM564 383h28v2h-28zM662 383h13v2h-13zM180 385h6v2h-6zM212 385h12v2h-12zM358 385h4v2h-4zM566 385h20v2h-20zM668 385h7v2h-7zM178 387h8v2h-8zM216 387h10v2h-10zM356 387h4v2h-4zM572 387h6v2h-6zM672 387h3v2h-3zM178 389h6v2h-6zM218 389h10v2h-10zM354 389h4v2h-4zM674 389h1v2h-1zM178 391h6v2h-6zM222 391h10v2h-10zM350 391h4v2h-4zM176 393h6v2h-6zM224 393h10v2h-10zM348 393h4v2h-4zM176 395h6v2h-6zM228 395h8v2h-8zM346 395h2v2h-2zM176 397h4v2h-4zM230 397h10v2h-10zM344 397h4v2h-4zM174 399h4v2h-4zM234 399h10v2h-10zM344 399h2v2h-2zM174 401h4v2h-4zM238 401h14v2h-14zM344 401h2v2h-2zM172 403h4v2h-4zM242 403h26v2h-26zM344 403h2v2h-2zM172 405h4v2h-4zM248 405h26v2h-26zM342 405h2v2h-2zM170 407h4v2h-4zM262 407h16v2h-16zM342 407h2v2h-2zM170 409h4v2h-4zM272 409h10v2h-10zM340 409h4v2h-4zM168 411h4v2h-4zM276 411h8v2h-8zM340 411h2v2h-2zM168 413h2v2h-2zM280 413h6v2h-6zM338 413h2v2h-2zM166 415h4v2h-4zM282 415h6v2h-6zM336 415h2v2h-2zM166 417h2v2h-2zM286 417h6v2h-6zM334 417h4v2h-4zM164 419h2v2h-2zM288 419h6v2h-6zM332 419h2v2h-2zM162 421h4v2h-4zM292 421h6v2h-6zM328 421h4v2h-4zM162 423h2v2h-2zM294 423h8v2h-8zM324 423h4v2h-4zM160 425h2v2h-2zM300 425h24v2h-24zM158 427h4v2h-4zM158 429h2v2h-2zM156 431h2v2h-2zM154 433h4v2h-4zM154 435h2v2h-2zM152 437h2v2h-2zM150 439h4v2h-4zM150 441h2v2h-2zM148 443h2v2h-2zM146 445h4v2h-4zM144 447h4v2h-4zM142 449h4v2h-4zM142 451h2v2h-2zM132 453h6v2h-6z"/><path fill="#f7ff08" d="M324 103h20v2h-20zM322 105h28v2h-28zM322 107h8v2h-8zM344 107h10v2h-10zM322 109h6v2h-6zM350 109h10v2h-10zM322 111h4v2h-4zM354 111h10v2h-10zM322 113h4v2h-4zM360 113h10v2h-10zM320 115h4v2h-4zM366 115h8v2h-8zM318 117h6v2h-6zM370 117h6v2h-6zM316 119h8v2h-8zM374 119h6v2h-6zM314 121h10v2h-10zM376 121h6v2h-6zM316 123h8v2h-8zM378 123h4v2h-4zM320 125h6v2h-6zM380 125h4v2h-4zM324 127h4v2h-4zM382 127h2v2h-2zM324 129h4v2h-4zM382 129h4v2h-4zM326 131h2v2h-2zM384 131h2v2h-2zM326 133h2v2h-2zM384 133h2v2h-2zM326 135h2v2h-2zM384 135h2v2h-2zM326 137h2v2h-2zM384 137h4v2h-4zM324 139h2v2h-2zM384 139h4v2h-4zM320 141h4v2h-4zM384 141h4v2h-4zM316 143h6v2h-6zM384 143h2v2h-2zM310 145h6v2h-6zM384 145h2v2h-2zM306 147h4v2h-4zM384 147h2v2h-2zM304 149h2v2h-2zM382 149h4v2h-4zM304 151h2v2h-2zM382 151h2v2h-2zM304 153h2v2h-2zM380 153h4v2h-4zM304 155h2v2h-2zM380 155h2v2h-2zM304 157h2v2h-2zM378 157h4v2h-4zM304 159h2v2h-2zM378 159h2v2h-2zM664 159h11v2h-11zM304 161h2v2h-2zM376 161h4v2h-4zM658 161h17v2h-17zM304 163h2v2h-2zM376 163h2v2h-2zM654 163h21v2h-21zM374 165h4v2h-4zM652 165h12v2h-12zM306 167h2v2h-2zM374 167h2v2h-2zM604 167h24v2h-24zM648 167h12v2h-12zM306 169h2v2h-2zM372 169h2v2h-2zM598 169h34v2h-34zM646 169h10v2h-10zM306 171h2v2h-2zM370 171h4v2h-4zM594 171h60v2h-60zM370 173h2v2h-2zM592 173h12v2h-12zM624 173h26v2h-26zM368 175h4v2h-4zM590 175h10v2h-10zM632 175h10v2h-10zM304 177h2v2h-2zM368 177h2v2h-2zM588 177h10v2h-10zM366 179h2v2h-2zM588 179h8v2h-8zM364 181h4v2h-4zM588 181h6v2h-6zM302 183h2v2h-2zM364 183h2v2h-2zM588 183h6v2h-6zM302 185h2v2h-2zM362 185h2v2h-2zM588 185h6v2h-6zM302 187h2v2h-2zM362 187h2v2h-2zM588 187h4v2h-4zM302 189h2v2h-2zM360 189h4v2h-4zM588 189h4v2h-4zM302 191h2v2h-2zM360 191h2v2h-2zM588 191h4v2h-4zM360 193h2v2h-2zM588 193h4v2h-4zM360 195h2v2h-2zM588 195h4v2h-4zM360 197h2v2h-2zM586 197h4v2h-4zM300 199h2v2h-2zM360 199h2v2h-2zM586 199h4v2h-4zM300 201h2v2h-2zM360 201h2v2h-2zM586 201h4v2h-4zM360 203h4v2h-4zM586 203h2v2h-2zM360 205h4v2h-4zM584 205h4v2h-4zM302 207h2v2h-2zM360 207h4v2h-4zM584 207h2v2h-2zM302 209h2v2h-2zM362 209h4v2h-4zM582 209h4v2h-4zM302 211h2v2h-2zM362 211h6v2h-6zM580 211h4v2h-4zM364 213h6v2h-6zM576 213h6v2h-6zM304 215h2v2h-2zM366 215h6v2h-6zM572 215h6v2h-6zM304 217h2v2h-2zM366 217h8v2h-8zM562 217h12v2h-12zM306 219h2v2h-2zM368 219h8v2h-8zM494 219h76v2h-76zM306 221h2v2h-2zM370 221h10v2h-10zM490 221h74v2h-74zM308 223h2v2h-2zM372 223h12v2h-12zM486 223h68v2h-68zM308 225h2v2h-2zM374 225h12v2h-12zM484 225h10v2h-10zM308 227h2v2h-2zM376 227h14v2h-14zM482 227h8v2h-8zM308 229h4v2h-4zM380 229h14v2h-14zM480 229h8v2h-8zM308 231h4v2h-4zM382 231h14v2h-14zM478 231h6v2h-6zM252 233h18v2h-18zM306 233h4v2h-4zM386 233h14v2h-14zM478 233h4v2h-4zM248 235h8v2h-8zM268 235h10v2h-10zM304 235h6v2h-6zM388 235h14v2h-14zM476 235h4v2h-4zM248 237h4v2h-4zM276 237h30v2h-30zM392 237h12v2h-12zM474 237h4v2h-4zM246 239h6v2h-6zM394 239h14v2h-14zM472 239h6v2h-6zM246 241h4v2h-4zM398 241h12v2h-12zM472 241h4v2h-4zM246 243h4v2h-4zM400 243h12v2h-12zM470 243h4v2h-4zM246 245h4v2h-4zM402 245h12v2h-12zM468 245h4v2h-4zM246 247h4v2h-4zM406 247h10v2h-10zM468 247h4v2h-4zM246 249h4v2h-4zM408 249h10v2h-10zM466 249h4v2h-4zM246 251h4v2h-4zM410 251h10v2h-10zM464 251h6v2h-6zM246 253h6v2h-6zM276 253h4v2h-4zM412 253h10v2h-10zM464 253h4v2h-4zM246 255h44v2h-44zM414 255h10v2h-10zM462 255h6v2h-6zM246 257h20v2h-20zM288 257h10v2h-10zM416 257h10v2h-10zM462 257h4v2h-4zM248 259h8v2h-8zM294 259h12v2h-12zM418 259h10v2h-10zM460 259h6v2h-6zM302 261h30v2h-30zM420 261h12v2h-12zM458 261h8v2h-8zM308 263h32v2h-32zM422 263h14v2h-14zM456 263h8v2h-8zM332 265h12v2h-12zM424 265h16v2h-16zM454 265h10v2h-10zM340 267h8v2h-8zM428 267h36v2h-36zM344 269h6v2h-6zM432 269h30v2h-30zM348 271h4v2h-4zM438 271h22v2h-22zM350 273h4v2h-4zM448 273h6v2h-6zM350 275h4v2h-4zM352 277h4v2h-4zM352 279h4v2h-4zM354 281h2v2h-2zM354 283h2v2h-2zM354 285h2v2h-2zM354 287h2v2h-2zM354 289h2v2h-2zM354 291h2v2h-2zM354 293h2v2h-2zM354 295h2v2h-2zM352 297h4v2h-4zM352 299h4v2h-4zM352 301h4v2h-4zM150 303h2v2h-2zM352 303h4v2h-4zM150 305h2v2h-2zM352 305h4v2h-4zM352 307h4v2h-4zM352 309h4v2h-4zM352 311h4v2h-4zM352 313h6v2h-6zM352 315h8v2h-8zM354 317h8v2h-8zM354 319h8v2h-8zM356 321h8v2h-8zM358 323h8v2h-8zM358 325h10v2h-10zM360 327h8v2h-8zM360 329h10v2h-10zM360 331h10v2h-10zM360 333h10v2h-10zM362 335h8v2h-8zM362 337h8v2h-8zM362 339h8v2h-8zM362 341h8v2h-8zM364 343h6v2h-6zM668 343h7v2h-7zM364 345h6v2h-6zM642 345h33v2h-33zM364 347h6v2h-6zM626 347h46v2h-46zM364 349h6v2h-6zM618 349h44v2h-44zM366 351h4v2h-4zM608 351h28v2h-28zM366 353h4v2h-4zM600 353h24v2h-24zM366 355h4v2h-4zM588 355h24v2h-24zM366 357h6v2h-6zM574 357h28v2h-28zM368 359h4v2h-4zM568 359h24v2h-24zM368 361h4v2h-4zM564 361h10v2h-10zM368 363h4v2h-4zM562 363h6v2h-6zM368 365h4v2h-4zM560 365h6v2h-6zM368 367h4v2h-4zM558 367h8v2h-8zM368 369h2v2h-2zM558 369h6v2h-6zM368 371h2v2h-2zM556 371h6v2h-6zM368 373h2v2h-2zM554 373h8v2h-8zM366 375h4v2h-4zM554 375h8v2h-8zM194 377h4v2h-4zM366 377h2v2h-2zM554 377h8v2h-8zM192 379h10v2h-10zM366 379h2v2h-2zM554 379h8v2h-8zM616 379h8v2h-8zM190 381h16v2h-16zM364 381h2v2h-2zM554 381h10v2h-10zM598 381h56v2h-56zM188 383h22v2h-22zM364 383h2v2h-2zM554 383h10v2h-10zM592 383h70v2h-70zM186 385h26v2h-26zM362 385h2v2h-2zM554 385h12v2h-12zM586 385h22v2h-22zM634 385h34v2h-34zM186 387h30v2h-30zM360 387h2v2h-2zM556 387h16v2h-16zM578 387h20v2h-20zM652 387h20v2h-20zM184 389h34v2h-34zM358 389h2v2h-2zM556 389h36v2h-36zM662 389h12v2h-12zM184 391h12v2h-12zM204 391h18v2h-18zM354 391h4v2h-4zM558 391h30v2h-30zM666 391h9v2h-9zM182 393h8v2h-8zM210 393h14v2h-14zM352 393h4v2h-4zM560 393h24v2h-24zM670 393h5v2h-5zM182 395h6v2h-6zM216 395h12v2h-12zM348 395h4v2h-4zM564 395h16v2h-16zM672 395h3v2h-3zM180 397h6v2h-6zM220 397h10v2h-10zM348 397h2v2h-2zM570 397h2v2h-2zM672 397h3v2h-3zM178 399h6v2h-6zM224 399h10v2h-10zM346 399h2v2h-2zM674 399h1v2h-1zM178 401h4v2h-4zM226 401h12v2h-12zM346 401h2v2h-2zM674 401h1v2h-1zM176 403h4v2h-4zM230 403h12v2h-12zM346 403h2v2h-2zM674 403h1v2h-1zM176 405h4v2h-4zM234 405h14v2h-14zM344 405h2v2h-2zM174 407h4v2h-4zM240 407h22v2h-22zM344 407h2v2h-2zM174 409h2v2h-2zM244 409h28v2h-28zM172 411h4v2h-4zM258 411h18v2h-18zM342 411h2v2h-2zM170 413h4v2h-4zM270 413h10v2h-10zM340 413h2v2h-2zM170 415h2v2h-2zM276 415h6v2h-6zM338 415h4v2h-4zM168 417h4v2h-4zM280 417h6v2h-6zM338 417h2v2h-2zM166 419h4v2h-4zM282 419h6v2h-6zM334 419h4v2h-4zM166 421h2v2h-2zM286 421h6v2h-6zM332 421h2v2h-2zM164 423h2v2h-2zM288 423h6v2h-6zM328 423h4v2h-4zM162 425h4v2h-4zM292 425h8v2h-8zM324 425h4v2h-4zM162 427h2v2h-2zM298 427h24v2h-24zM160 429h2v2h-2zM158 431h4v2h-4zM158 433h2v2h-2zM156 435h2v2h-2zM154 437h4v2h-4zM154 439h2v2h-2zM152 441h2v2h-2zM150 443h4v2h-4zM150 445h2v2h-2zM148 447h2v2h-2zM146 449h2v2h-2zM144 451h2v2h-2zM138 453h6v2h-6zM132 455h8v2h-8z"/><path fill="#fff700" d="M330 107h14v2h-14zM328 109h22v2h-22zM326 111h10v2h-10zM340 111h14v2h-14zM326 113h6v2h-6zM348 113h12v2h-12zM324 115h6v2h-6zM354 115h12v2h-12zM324 117h6v2h-6zM360 117h10v2h-10zM324 119h4v2h-4zM366 119h8v2h-8zM324 121h6v2h-6zM370 121h6v2h-6zM324 123h6v2h-6zM374 123h4v2h-4zM326 125h4v2h-4zM376 125h4v2h-4zM328 127h4v2h-4zM378 127h4v2h-4zM328 129h4v2h-4zM380 129h2v2h-2zM328 131h4v2h-4zM380 131h4v2h-4zM328 133h4v2h-4zM380 133h4v2h-4zM328 135h4v2h-4zM382 135h2v2h-2zM328 137h2v2h-2zM382 137h2v2h-2zM326 139h4v2h-4zM382 139h2v2h-2zM324 141h4v2h-4zM382 141h2v2h-2zM322 143h2v2h-2zM382 143h2v2h-2zM316 145h6v2h-6zM380 145h4v2h-4zM310 147h6v2h-6zM380 147h4v2h-4zM306 149h4v2h-4zM380 149h2v2h-2zM306 151h2v2h-2zM378 151h4v2h-4zM378 153h2v2h-2zM376 155h4v2h-4zM376 157h2v2h-2zM374 159h4v2h-4zM374 161h2v2h-2zM306 163h2v2h-2zM372 163h4v2h-4zM306 165h2v2h-2zM372 165h2v2h-2zM664 165h11v2h-11zM370 167h4v2h-4zM660 167h15v2h-15zM370 169h2v2h-2zM656 169h19v2h-19zM368 171h2v2h-2zM654 171h16v2h-16zM306 173h2v2h-2zM366 173h4v2h-4zM604 173h20v2h-20zM650 173h14v2h-14zM306 175h2v2h-2zM366 175h2v2h-2zM600 175h32v2h-32zM642 175h18v2h-18zM306 177h2v2h-2zM364 177h4v2h-4zM598 177h56v2h-56zM304 179h2v2h-2zM364 179h2v2h-2zM596 179h52v2h-52zM304 181h2v2h-2zM362 181h2v2h-2zM594 181h14v2h-14zM620 181h4v2h-4zM304 183h2v2h-2zM362 183h2v2h-2zM594 183h10v2h-10zM360 185h2v2h-2zM594 185h8v2h-8zM358 187h4v2h-4zM592 187h8v2h-8zM358 189h2v2h-2zM592 189h6v2h-6zM358 191h2v2h-2zM592 191h6v2h-6zM302 193h2v2h-2zM356 193h4v2h-4zM592 193h4v2h-4zM302 195h2v2h-2zM356 195h4v2h-4zM592 195h4v2h-4zM302 197h2v2h-2zM356 197h4v2h-4zM590 197h4v2h-4zM302 199h2v2h-2zM356 199h4v2h-4zM590 199h4v2h-4zM302 201h2v2h-2zM356 201h4v2h-4zM590 201h4v2h-4zM302 203h2v2h-2zM356 203h4v2h-4zM588 203h4v2h-4zM302 205h2v2h-2zM356 205h4v2h-4zM588 205h4v2h-4zM358 207h2v2h-2zM586 207h4v2h-4zM304 209h2v2h-2zM358 209h4v2h-4zM586 209h4v2h-4zM304 211h2v2h-2zM358 211h4v2h-4zM584 211h4v2h-4zM304 213h2v2h-2zM360 213h4v2h-4zM582 213h4v2h-4zM306 215h2v2h-2zM360 215h6v2h-6zM578 215h6v2h-6zM306 217h2v2h-2zM362 217h4v2h-4zM574 217h6v2h-6zM308 219h2v2h-2zM362 219h6v2h-6zM570 219h6v2h-6zM308 221h2v2h-2zM364 221h6v2h-6zM564 221h10v2h-10zM310 223h2v2h-2zM364 223h8v2h-8zM554 223h16v2h-16zM310 225h4v2h-4zM366 225h8v2h-8zM494 225h72v2h-72zM310 227h4v2h-4zM366 227h10v2h-10zM490 227h72v2h-72zM312 229h2v2h-2zM368 229h12v2h-12zM488 229h14v2h-14zM518 229h8v2h-8zM534 229h20v2h-20zM312 231h4v2h-4zM370 231h12v2h-12zM484 231h10v2h-10zM310 233h6v2h-6zM372 233h14v2h-14zM482 233h8v2h-8zM256 235h12v2h-12zM310 235h4v2h-4zM374 235h14v2h-14zM480 235h6v2h-6zM252 237h24v2h-24zM306 237h8v2h-8zM378 237h14v2h-14zM478 237h6v2h-6zM252 239h6v2h-6zM272 239h40v2h-40zM380 239h14v2h-14zM478 239h4v2h-4zM250 241h6v2h-6zM280 241h4v2h-4zM294 241h16v2h-16zM384 241h14v2h-14zM476 241h4v2h-4zM250 243h6v2h-6zM386 243h14v2h-14zM474 243h4v2h-4zM250 245h6v2h-6zM390 245h12v2h-12zM472 245h4v2h-4zM250 247h6v2h-6zM394 247h12v2h-12zM472 247h4v2h-4zM250 249h8v2h-8zM396 249h12v2h-12zM470 249h4v2h-4zM250 251h12v2h-12zM272 251h14v2h-14zM400 251h10v2h-10zM470 251h4v2h-4zM252 253h24v2h-24zM280 253h18v2h-18zM402 253h10v2h-10zM468 253h4v2h-4zM290 255h18v2h-18zM404 255h10v2h-10zM468 255h4v2h-4zM298 257h38v2h-38zM406 257h10v2h-10zM466 257h6v2h-6zM306 259h36v2h-36zM408 259h10v2h-10zM466 259h4v2h-4zM332 261h14v2h-14zM410 261h10v2h-10zM466 261h4v2h-4zM340 263h12v2h-12zM412 263h10v2h-10zM464 263h6v2h-6zM344 265h10v2h-10zM412 265h12v2h-12zM464 265h6v2h-6zM348 267h8v2h-8zM416 267h12v2h-12zM464 267h6v2h-6zM350 269h8v2h-8zM418 269h14v2h-14zM462 269h8v2h-8zM352 271h6v2h-6zM420 271h18v2h-18zM460 271h10v2h-10zM354 273h4v2h-4zM424 273h24v2h-24zM454 273h14v2h-14zM354 275h6v2h-6zM432 275h36v2h-36zM356 277h4v2h-4zM440 277h24v2h-24zM356 279h4v2h-4zM356 281h4v2h-4zM356 283h4v2h-4zM356 285h4v2h-4zM356 287h4v2h-4zM356 289h4v2h-4zM356 291h4v2h-4zM356 293h4v2h-4zM356 295h4v2h-4zM356 297h4v2h-4zM356 299h2v2h-2zM356 301h2v2h-2zM356 303h2v2h-2zM356 305h4v2h-4zM356 307h4v2h-4zM356 309h4v2h-4zM356 311h6v2h-6zM358 313h6v2h-6zM360 315h4v2h-4zM362 317h4v2h-4zM362 319h8v2h-8zM364 321h8v2h-8zM366 323h8v2h-8zM368 325h8v2h-8zM368 327h10v2h-10zM370 329h8v2h-8zM370 331h10v2h-10zM370 333h10v2h-10zM370 335h8v2h-8zM370 337h8v2h-8zM674 337h1v2h-1zM370 339h8v2h-8zM654 339h21v2h-21zM370 341h6v2h-6zM632 341h43v2h-43zM370 343h6v2h-6zM624 343h44v2h-44zM370 345h6v2h-6zM614 345h28v2h-28zM370 347h4v2h-4zM606 347h20v2h-20zM370 349h4v2h-4zM598 349h20v2h-20zM370 351h4v2h-4zM590 351h18v2h-18zM370 353h4v2h-4zM578 353h22v2h-22zM370 355h4v2h-4zM570 355h18v2h-18zM372 357h2v2h-2zM564 357h10v2h-10zM372 359h2v2h-2zM562 359h6v2h-6zM372 361h2v2h-2zM558 361h6v2h-6zM372 363h2v2h-2zM556 363h6v2h-6zM372 365h2v2h-2zM554 365h6v2h-6zM372 367h2v2h-2zM552 367h6v2h-6zM370 369h4v2h-4zM550 369h8v2h-8zM370 371h4v2h-4zM548 371h8v2h-8zM370 373h2v2h-2zM548 373h6v2h-6zM370 375h2v2h-2zM546 375h8v2h-8zM368 377h4v2h-4zM546 377h8v2h-8zM368 379h2v2h-2zM546 379h8v2h-8zM366 381h4v2h-4zM546 381h8v2h-8zM366 383h2v2h-2zM546 383h8v2h-8zM364 385h2v2h-2zM546 385h8v2h-8zM608 385h26v2h-26zM362 387h4v2h-4zM546 387h10v2h-10zM598 387h54v2h-54zM360 389h4v2h-4zM546 389h10v2h-10zM592 389h22v2h-22zM624 389h38v2h-38zM196 391h8v2h-8zM358 391h4v2h-4zM548 391h10v2h-10zM588 391h14v2h-14zM638 391h28v2h-28zM190 393h20v2h-20zM356 393h2v2h-2zM548 393h12v2h-12zM584 393h14v2h-14zM650 393h20v2h-20zM188 395h28v2h-28zM352 395h4v2h-4zM550 395h14v2h-14zM580 395h12v2h-12zM658 395h14v2h-14zM186 397h34v2h-34zM350 397h4v2h-4zM552 397h18v2h-18zM572 397h18v2h-18zM664 397h8v2h-8zM184 399h10v2h-10zM206 399h18v2h-18zM348 399h4v2h-4zM552 399h34v2h-34zM666 399h8v2h-8zM182 401h8v2h-8zM214 401h12v2h-12zM348 401h2v2h-2zM554 401h30v2h-30zM666 401h8v2h-8zM180 403h6v2h-6zM218 403h12v2h-12zM348 403h2v2h-2zM556 403h26v2h-26zM666 403h8v2h-8zM180 405h4v2h-4zM224 405h10v2h-10zM346 405h2v2h-2zM558 405h22v2h-22zM666 405h9v2h-9zM178 407h4v2h-4zM228 407h12v2h-12zM346 407h2v2h-2zM562 407h16v2h-16zM666 407h9v2h-9zM176 409h4v2h-4zM232 409h12v2h-12zM344 409h2v2h-2zM564 409h12v2h-12zM666 409h9v2h-9zM176 411h2v2h-2zM236 411h22v2h-22zM344 411h2v2h-2zM566 411h10v2h-10zM666 411h9v2h-9zM174 413h4v2h-4zM242 413h28v2h-28zM342 413h2v2h-2zM666 413h9v2h-9zM172 415h4v2h-4zM252 415h24v2h-24zM342 415h2v2h-2zM666 415h9v2h-9zM172 417h2v2h-2zM272 417h8v2h-8zM340 417h2v2h-2zM666 417h9v2h-9zM170 419h2v2h-2zM276 419h6v2h-6zM338 419h2v2h-2zM666 419h9v2h-9zM168 421h4v2h-4zM280 421h6v2h-6zM334 421h4v2h-4zM664 421h11v2h-11zM166 423h4v2h-4zM282 423h6v2h-6zM332 423h2v2h-2zM664 423h11v2h-11zM166 425h2v2h-2zM286 425h6v2h-6zM328 425h4v2h-4zM664 425h11v2h-11zM164 427h2v2h-2zM290 427h8v2h-8zM322 427h6v2h-6zM664 427h11v2h-11zM162 429h4v2h-4zM296 429h26v2h-26zM664 429h11v2h-11zM162 431h2v2h-2zM662 431h13v2h-13zM160 433h2v2h-2zM662 433h13v2h-13zM158 435h2v2h-2zM662 435h13v2h-13zM158 437h2v2h-2zM662 437h13v2h-13zM156 439h2v2h-2zM660 439h15v2h-15zM154 441h2v2h-2zM660 441h15v2h-15zM154 443h2v2h-2zM660 443h15v2h-15zM152 445h2v2h-2zM660 445h15v2h-15zM150 447h2v2h-2zM662 447h13v2h-13zM148 449h4v2h-4zM662 449h13v2h-13zM146 451h4v2h-4zM662 451h13v2h-13zM144 453h4v2h-4zM664 453h11v2h-11zM140 455h6v2h-6zM664 455h11v2h-11zM132 457h12v2h-12zM666 457h9v2h-9zM132 459h6v2h-6zM670 459h5v2h-5zM672 461h3v2h-3z"/><path fill="#ffe700" d="M336 111h4v2h-4zM332 113h16v2h-16zM330 115h24v2h-24zM330 117h30v2h-30zM328 119h10v2h-10zM352 119h14v2h-14zM330 121h6v2h-6zM360 121h10v2h-10zM330 123h6v2h-6zM366 123h8v2h-8zM330 125h6v2h-6zM370 125h6v2h-6zM332 127h4v2h-4zM374 127h4v2h-4zM332 129h4v2h-4zM376 129h4v2h-4zM332 131h4v2h-4zM376 131h4v2h-4zM332 133h4v2h-4zM378 133h2v2h-2zM332 135h2v2h-2zM378 135h4v2h-4zM330 137h4v2h-4zM378 137h4v2h-4zM330 139h4v2h-4zM378 139h4v2h-4zM328 141h4v2h-4zM378 141h4v2h-4zM324 143h6v2h-6zM378 143h4v2h-4zM322 145h4v2h-4zM378 145h2v2h-2zM316 147h6v2h-6zM378 147h2v2h-2zM310 149h6v2h-6zM376 149h4v2h-4zM308 151h2v2h-2zM376 151h2v2h-2zM306 153h4v2h-4zM374 153h4v2h-4zM306 155h2v2h-2zM374 155h2v2h-2zM306 157h2v2h-2zM372 157h4v2h-4zM306 159h2v2h-2zM372 159h2v2h-2zM306 161h2v2h-2zM370 161h4v2h-4zM308 163h2v2h-2zM370 163h2v2h-2zM308 165h2v2h-2zM368 165h4v2h-4zM308 167h2v2h-2zM368 167h2v2h-2zM308 169h2v2h-2zM366 169h4v2h-4zM308 171h2v2h-2zM366 171h2v2h-2zM670 171h5v2h-5zM308 173h2v2h-2zM364 173h2v2h-2zM664 173h11v2h-11zM308 175h2v2h-2zM364 175h2v2h-2zM660 175h15v2h-15zM362 177h2v2h-2zM654 177h21v2h-21zM306 179h2v2h-2zM360 179h4v2h-4zM648 179h20v2h-20zM306 181h2v2h-2zM360 181h2v2h-2zM608 181h12v2h-12zM624 181h38v2h-38zM358 183h4v2h-4zM604 183h50v2h-50zM304 185h2v2h-2zM358 185h2v2h-2zM602 185h40v2h-40zM304 187h2v2h-2zM356 187h2v2h-2zM600 187h30v2h-30zM304 189h2v2h-2zM356 189h2v2h-2zM598 189h22v2h-22zM304 191h2v2h-2zM354 191h4v2h-4zM598 191h10v2h-10zM304 193h2v2h-2zM354 193h2v2h-2zM596 193h8v2h-8zM304 195h2v2h-2zM354 195h2v2h-2zM596 195h6v2h-6zM304 197h2v2h-2zM352 197h4v2h-4zM594 197h6v2h-6zM304 199h2v2h-2zM352 199h4v2h-4zM594 199h6v2h-6zM304 201h2v2h-2zM352 201h4v2h-4zM594 201h4v2h-4zM304 203h2v2h-2zM352 203h4v2h-4zM592 203h4v2h-4zM304 205h2v2h-2zM354 205h2v2h-2zM592 205h4v2h-4zM304 207h2v2h-2zM354 207h4v2h-4zM590 207h4v2h-4zM306 209h2v2h-2zM354 209h4v2h-4zM590 209h4v2h-4zM306 211h2v2h-2zM354 211h4v2h-4zM588 211h4v2h-4zM306 213h2v2h-2zM354 213h6v2h-6zM586 213h4v2h-4zM308 215h2v2h-2zM356 215h4v2h-4zM584 215h4v2h-4zM308 217h2v2h-2zM356 217h6v2h-6zM580 217h6v2h-6zM310 219h2v2h-2zM356 219h6v2h-6zM576 219h6v2h-6zM310 221h4v2h-4zM356 221h8v2h-8zM574 221h6v2h-6zM312 223h4v2h-4zM356 223h8v2h-8zM570 223h6v2h-6zM314 225h4v2h-4zM358 225h8v2h-8zM566 225h8v2h-8zM314 227h4v2h-4zM358 227h8v2h-8zM562 227h8v2h-8zM314 229h6v2h-6zM358 229h10v2h-10zM502 229h16v2h-16zM526 229h8v2h-8zM554 229h14v2h-14zM316 231h4v2h-4zM358 231h12v2h-12zM494 231h72v2h-72zM316 233h6v2h-6zM356 233h16v2h-16zM490 233h72v2h-72zM314 235h8v2h-8zM356 235h18v2h-18zM486 235h10v2h-10zM540 235h18v2h-18zM314 237h8v2h-8zM356 237h22v2h-22zM484 237h8v2h-8zM258 239h14v2h-14zM312 239h10v2h-10zM356 239h24v2h-24zM482 239h6v2h-6zM256 241h24v2h-24zM284 241h10v2h-10zM310 241h12v2h-12zM356 241h28v2h-28zM480 241h6v2h-6zM256 243h66v2h-66zM358 243h28v2h-28zM478 243h4v2h-4zM256 245h10v2h-10zM270 245h54v2h-54zM360 245h30v2h-30zM476 245h4v2h-4zM256 247h72v2h-72zM366 247h28v2h-28zM476 247h4v2h-4zM258 249h78v2h-78zM374 249h22v2h-22zM474 249h4v2h-4zM262 251h10v2h-10zM286 251h58v2h-58zM382 251h18v2h-18zM474 251h2v2h-2zM298 253h54v2h-54zM388 253h14v2h-14zM472 253h4v2h-4zM308 255h50v2h-50zM392 255h12v2h-12zM472 255h4v2h-4zM336 257h24v2h-24zM394 257h12v2h-12zM472 257h2v2h-2zM342 259h20v2h-20zM396 259h12v2h-12zM470 259h4v2h-4zM346 261h16v2h-16zM398 261h12v2h-12zM470 261h4v2h-4zM352 263h12v2h-12zM400 263h12v2h-12zM470 263h4v2h-4zM354 265h10v2h-10zM402 265h10v2h-10zM470 265h4v2h-4zM356 267h10v2h-10zM404 267h12v2h-12zM470 267h4v2h-4zM358 269h8v2h-8zM406 269h12v2h-12zM470 269h6v2h-6zM358 271h8v2h-8zM408 271h12v2h-12zM470 271h6v2h-6zM358 273h8v2h-8zM410 273h14v2h-14zM468 273h8v2h-8zM360 275h6v2h-6zM412 275h20v2h-20zM468 275h8v2h-8zM360 277h6v2h-6zM416 277h24v2h-24zM464 277h10v2h-10zM360 279h6v2h-6zM424 279h50v2h-50zM360 281h6v2h-6zM436 281h34v2h-34zM360 283h6v2h-6zM448 283h14v2h-14zM360 285h6v2h-6zM360 287h4v2h-4zM360 289h4v2h-4zM360 291h4v2h-4zM360 293h4v2h-4zM360 295h2v2h-2zM360 297h2v2h-2zM358 299h4v2h-4zM358 301h4v2h-4zM358 303h4v2h-4zM360 305h2v2h-2zM360 307h4v2h-4zM360 309h4v2h-4zM362 311h4v2h-4zM364 313h4v2h-4zM364 315h6v2h-6zM366 317h8v2h-8zM370 319h6v2h-6zM372 321h8v2h-8zM374 323h10v2h-10zM376 325h10v2h-10zM378 327h8v2h-8zM378 329h10v2h-10zM380 331h8v2h-8zM380 333h8v2h-8zM664 333h11v2h-11zM378 335h10v2h-10zM638 335h37v2h-37zM378 337h8v2h-8zM628 337h46v2h-46zM378 339h6v2h-6zM620 339h34v2h-34zM376 341h6v2h-6zM612 341h20v2h-20zM376 343h6v2h-6zM606 343h18v2h-18zM376 345h4v2h-4zM598 345h16v2h-16zM374 347h6v2h-6zM592 347h14v2h-14zM374 349h4v2h-4zM582 349h16v2h-16zM374 351h4v2h-4zM572 351h18v2h-18zM374 353h4v2h-4zM566 353h12v2h-12zM374 355h4v2h-4zM562 355h8v2h-8zM374 357h4v2h-4zM558 357h6v2h-6zM374 359h4v2h-4zM554 359h8v2h-8zM374 361h4v2h-4zM552 361h6v2h-6zM374 363h4v2h-4zM550 363h6v2h-6zM374 365h4v2h-4zM546 365h8v2h-8zM374 367h4v2h-4zM544 367h8v2h-8zM374 369h4v2h-4zM542 369h8v2h-8zM374 371h2v2h-2zM540 371h8v2h-8zM372 373h4v2h-4zM540 373h8v2h-8zM372 375h4v2h-4zM538 375h8v2h-8zM372 377h2v2h-2zM538 377h8v2h-8zM370 379h4v2h-4zM538 379h8v2h-8zM370 381h2v2h-2zM536 381h10v2h-10zM368 383h2v2h-2zM536 383h10v2h-10zM366 385h4v2h-4zM536 385h10v2h-10zM366 387h2v2h-2zM538 387h8v2h-8zM364 389h2v2h-2zM538 389h8v2h-8zM614 389h10v2h-10zM362 391h2v2h-2zM538 391h10v2h-10zM602 391h36v2h-36zM358 393h4v2h-4zM538 393h10v2h-10zM598 393h52v2h-52zM356 395h4v2h-4zM540 395h10v2h-10zM592 395h16v2h-16zM628 395h30v2h-30zM354 397h4v2h-4zM540 397h12v2h-12zM590 397h12v2h-12zM636 397h28v2h-28zM194 399h12v2h-12zM352 399h2v2h-2zM542 399h10v2h-10zM586 399h12v2h-12zM642 399h24v2h-24zM190 401h24v2h-24zM350 401h2v2h-2zM542 401h12v2h-12zM584 401h10v2h-10zM648 401h18v2h-18zM186 403h32v2h-32zM350 403h2v2h-2zM544 403h12v2h-12zM582 403h10v2h-10zM652 403h14v2h-14zM184 405h12v2h-12zM204 405h20v2h-20zM348 405h2v2h-2zM546 405h12v2h-12zM580 405h10v2h-10zM654 405h12v2h-12zM182 407h8v2h-8zM214 407h14v2h-14zM348 407h2v2h-2zM546 407h16v2h-16zM578 407h12v2h-12zM654 407h12v2h-12zM180 409h6v2h-6zM220 409h12v2h-12zM346 409h4v2h-4zM548 409h16v2h-16zM576 409h12v2h-12zM656 409h10v2h-10zM178 411h6v2h-6zM224 411h12v2h-12zM346 411h2v2h-2zM548 411h18v2h-18zM576 411h12v2h-12zM656 411h10v2h-10zM178 413h4v2h-4zM228 413h14v2h-14zM344 413h2v2h-2zM550 413h38v2h-38zM656 413h10v2h-10zM176 415h4v2h-4zM232 415h20v2h-20zM344 415h2v2h-2zM550 415h38v2h-38zM656 415h10v2h-10zM174 417h4v2h-4zM238 417h34v2h-34zM342 417h2v2h-2zM552 417h36v2h-36zM656 417h10v2h-10zM172 419h4v2h-4zM244 419h32v2h-32zM340 419h2v2h-2zM552 419h36v2h-36zM654 419h12v2h-12zM172 421h2v2h-2zM272 421h8v2h-8zM338 421h2v2h-2zM554 421h34v2h-34zM654 421h10v2h-10zM170 423h2v2h-2zM276 423h6v2h-6zM334 423h4v2h-4zM554 423h34v2h-34zM654 423h10v2h-10zM168 425h4v2h-4zM280 425h6v2h-6zM332 425h2v2h-2zM554 425h36v2h-36zM654 425h10v2h-10zM166 427h4v2h-4zM284 427h6v2h-6zM328 427h2v2h-2zM556 427h34v2h-34zM652 427h12v2h-12zM166 429h2v2h-2zM288 429h8v2h-8zM322 429h4v2h-4zM556 429h36v2h-36zM652 429h12v2h-12zM164 431h2v2h-2zM292 431h30v2h-30zM558 431h32v2h-32zM652 431h10v2h-10zM162 433h4v2h-4zM560 433h28v2h-28zM650 433h12v2h-12zM160 435h4v2h-4zM562 435h22v2h-22zM650 435h12v2h-12zM160 437h2v2h-2zM564 437h16v2h-16zM650 437h12v2h-12zM158 439h2v2h-2zM648 439h12v2h-12zM156 441h4v2h-4zM648 441h12v2h-12zM156 443h2v2h-2zM648 443h12v2h-12zM154 445h2v2h-2zM648 445h12v2h-12zM152 447h4v2h-4zM648 447h14v2h-14zM152 449h2v2h-2zM648 449h14v2h-14zM150 451h2v2h-2zM650 451h12v2h-12zM148 453h4v2h-4zM650 453h14v2h-14zM146 455h4v2h-4zM650 455h14v2h-14zM144 457h4v2h-4zM650 457h16v2h-16zM138 459h8v2h-8zM650 459h20v2h-20zM132 461h10v2h-10zM652 461h20v2h-20zM652 463h23v2h-23zM654 465h21v2h-21zM654 467h21v2h-21zM656 469h19v2h-19zM658 471h17v2h-17zM660 473h15v2h-15zM662 475h13v2h-13zM666 477h9v2h-9zM670 479h5v2h-5z"/><path fill="#ffd700" d="M338 119h14v2h-14zM336 121h24v2h-24zM336 123h30v2h-30zM336 125h8v2h-8zM358 125h12v2h-12zM336 127h6v2h-6zM364 127h10v2h-10zM336 129h4v2h-4zM370 129h6v2h-6zM336 131h4v2h-4zM372 131h4v2h-4zM336 133h2v2h-2zM374 133h4v2h-4zM334 135h4v2h-4zM374 135h4v2h-4zM334 137h4v2h-4zM376 137h2v2h-2zM334 139h2v2h-2zM376 139h2v2h-2zM332 141h4v2h-4zM376 141h2v2h-2zM330 143h4v2h-4zM376 143h2v2h-2zM326 145h6v2h-6zM374 145h4v2h-4zM322 147h6v2h-6zM374 147h4v2h-4zM316 149h8v2h-8zM374 149h2v2h-2zM310 151h8v2h-8zM372 151h4v2h-4zM310 153h4v2h-4zM372 153h2v2h-2zM308 155h4v2h-4zM370 155h4v2h-4zM308 157h2v2h-2zM370 157h2v2h-2zM308 159h2v2h-2zM368 159h4v2h-4zM308 161h2v2h-2zM368 161h2v2h-2zM310 163h2v2h-2zM366 163h4v2h-4zM310 165h2v2h-2zM366 165h2v2h-2zM310 167h2v2h-2zM364 167h4v2h-4zM310 169h2v2h-2zM364 169h2v2h-2zM310 171h2v2h-2zM362 171h4v2h-4zM310 173h2v2h-2zM362 173h2v2h-2zM310 175h2v2h-2zM360 175h4v2h-4zM308 177h2v2h-2zM360 177h2v2h-2zM308 179h2v2h-2zM358 179h2v2h-2zM668 179h7v2h-7zM356 181h4v2h-4zM662 181h13v2h-13zM306 183h2v2h-2zM356 183h2v2h-2zM654 183h21v2h-21zM306 185h2v2h-2zM354 185h4v2h-4zM642 185h32v2h-32zM306 187h2v2h-2zM352 187h4v2h-4zM630 187h34v2h-34zM306 189h2v2h-2zM352 189h4v2h-4zM620 189h30v2h-30zM306 191h2v2h-2zM350 191h4v2h-4zM608 191h32v2h-32zM306 193h2v2h-2zM350 193h4v2h-4zM604 193h28v2h-28zM306 195h2v2h-2zM350 195h4v2h-4zM602 195h24v2h-24zM306 197h2v2h-2zM350 197h2v2h-2zM600 197h20v2h-20zM306 199h2v2h-2zM350 199h2v2h-2zM600 199h10v2h-10zM306 201h2v2h-2zM350 201h2v2h-2zM598 201h8v2h-8zM306 203h2v2h-2zM350 203h2v2h-2zM596 203h8v2h-8zM306 205h2v2h-2zM350 205h4v2h-4zM596 205h6v2h-6zM306 207h4v2h-4zM350 207h4v2h-4zM594 207h6v2h-6zM308 209h2v2h-2zM350 209h4v2h-4zM594 209h6v2h-6zM308 211h2v2h-2zM350 211h4v2h-4zM592 211h6v2h-6zM308 213h2v2h-2zM350 213h4v2h-4zM590 213h6v2h-6zM310 215h2v2h-2zM350 215h6v2h-6zM588 215h6v2h-6zM310 217h4v2h-4zM350 217h6v2h-6zM586 217h6v2h-6zM312 219h4v2h-4zM348 219h8v2h-8zM582 219h8v2h-8zM314 221h6v2h-6zM348 221h8v2h-8zM580 221h6v2h-6zM316 223h6v2h-6zM348 223h8v2h-8zM576 223h6v2h-6zM318 225h8v2h-8zM346 225h12v2h-12zM574 225h6v2h-6zM318 227h10v2h-10zM344 227h14v2h-14zM570 227h8v2h-8zM320 229h14v2h-14zM338 229h20v2h-20zM568 229h8v2h-8zM320 231h38v2h-38zM566 231h8v2h-8zM322 233h34v2h-34zM562 233h10v2h-10zM322 235h34v2h-34zM496 235h44v2h-44zM558 235h14v2h-14zM322 237h34v2h-34zM492 237h78v2h-78zM322 239h34v2h-34zM488 239h14v2h-14zM530 239h38v2h-38zM322 241h34v2h-34zM486 241h8v2h-8zM536 241h30v2h-30zM322 243h36v2h-36zM482 243h8v2h-8zM542 243h22v2h-22zM266 245h4v2h-4zM324 245h36v2h-36zM480 245h6v2h-6zM548 245h12v2h-12zM328 247h38v2h-38zM480 247h4v2h-4zM336 249h38v2h-38zM478 249h4v2h-4zM344 251h38v2h-38zM476 251h4v2h-4zM352 253h36v2h-36zM476 253h4v2h-4zM358 255h34v2h-34zM476 255h2v2h-2zM360 257h34v2h-34zM474 257h4v2h-4zM362 259h34v2h-34zM474 259h4v2h-4zM362 261h36v2h-36zM474 261h4v2h-4zM364 263h36v2h-36zM474 263h4v2h-4zM364 265h38v2h-38zM474 265h6v2h-6zM366 267h38v2h-38zM474 267h6v2h-6zM366 269h40v2h-40zM476 269h4v2h-4zM366 271h42v2h-42zM476 271h6v2h-6zM366 273h44v2h-44zM476 273h6v2h-6zM366 275h46v2h-46zM476 275h8v2h-8zM366 277h50v2h-50zM474 277h10v2h-10zM366 279h26v2h-26zM400 279h24v2h-24zM474 279h10v2h-10zM366 281h22v2h-22zM406 281h30v2h-30zM470 281h14v2h-14zM366 283h18v2h-18zM414 283h34v2h-34zM462 283h22v2h-22zM366 285h12v2h-12zM434 285h48v2h-48zM364 287h10v2h-10zM446 287h32v2h-32zM364 289h6v2h-6zM364 291h6v2h-6zM364 293h4v2h-4zM362 295h6v2h-6zM362 297h4v2h-4zM362 299h4v2h-4zM362 301h4v2h-4zM362 303h4v2h-4zM362 305h6v2h-6zM364 307h4v2h-4zM364 309h6v2h-6zM366 311h6v2h-6zM368 313h8v2h-8zM370 315h10v2h-10zM374 317h12v2h-12zM376 319h14v2h-14zM380 321h14v2h-14zM384 323h12v2h-12zM386 325h10v2h-10zM674 325h1v2h-1zM386 327h12v2h-12zM662 327h13v2h-13zM388 329h10v2h-10zM640 329h35v2h-35zM388 331h10v2h-10zM630 331h45v2h-45zM388 333h10v2h-10zM622 333h42v2h-42zM388 335h10v2h-10zM616 335h22v2h-22zM386 337h10v2h-10zM610 337h18v2h-18zM384 339h10v2h-10zM604 339h16v2h-16zM382 341h10v2h-10zM598 341h14v2h-14zM382 343h6v2h-6zM592 343h14v2h-14zM380 345h6v2h-6zM584 345h14v2h-14zM380 347h4v2h-4zM576 347h16v2h-16zM378 349h6v2h-6zM568 349h14v2h-14zM378 351h4v2h-4zM564 351h8v2h-8zM378 353h4v2h-4zM558 353h8v2h-8zM378 355h4v2h-4zM554 355h8v2h-8zM378 357h4v2h-4zM550 357h8v2h-8zM378 359h6v2h-6zM546 359h8v2h-8zM378 361h6v2h-6zM544 361h8v2h-8zM378 363h4v2h-4zM540 363h10v2h-10zM378 365h4v2h-4zM538 365h8v2h-8zM378 367h4v2h-4zM536 367h8v2h-8zM378 369h4v2h-4zM534 369h8v2h-8zM376 371h4v2h-4zM532 371h8v2h-8zM376 373h4v2h-4zM532 373h8v2h-8zM376 375h2v2h-2zM530 375h8v2h-8zM374 377h4v2h-4zM530 377h8v2h-8zM374 379h2v2h-2zM530 379h8v2h-8zM372 381h2v2h-2zM528 381h8v2h-8zM370 383h4v2h-4zM528 383h8v2h-8zM370 385h2v2h-2zM528 385h8v2h-8zM368 387h2v2h-2zM528 387h10v2h-10zM366 389h4v2h-4zM530 389h8v2h-8zM364 391h4v2h-4zM530 391h8v2h-8zM362 393h4v2h-4zM530 393h8v2h-8zM360 395h4v2h-4zM530 395h10v2h-10zM608 395h20v2h-20zM358 397h2v2h-2zM532 397h8v2h-8zM602 397h34v2h-34zM354 399h4v2h-4zM532 399h10v2h-10zM598 399h44v2h-44zM352 401h4v2h-4zM532 401h10v2h-10zM594 401h18v2h-18zM626 401h22v2h-22zM352 403h2v2h-2zM534 403h10v2h-10zM592 403h14v2h-14zM630 403h22v2h-22zM196 405h8v2h-8zM350 405h4v2h-4zM534 405h12v2h-12zM590 405h12v2h-12zM634 405h20v2h-20zM190 407h24v2h-24zM350 407h2v2h-2zM536 407h10v2h-10zM590 407h10v2h-10zM636 407h18v2h-18zM186 409h34v2h-34zM350 409h2v2h-2zM536 409h12v2h-12zM588 409h12v2h-12zM638 409h18v2h-18zM184 411h8v2h-8zM204 411h20v2h-20zM348 411h2v2h-2zM538 411h10v2h-10zM588 411h12v2h-12zM640 411h16v2h-16zM182 413h6v2h-6zM212 413h16v2h-16zM346 413h4v2h-4zM538 413h12v2h-12zM588 413h12v2h-12zM642 413h14v2h-14zM180 415h4v2h-4zM218 415h14v2h-14zM346 415h2v2h-2zM540 415h10v2h-10zM588 415h14v2h-14zM642 415h14v2h-14zM178 417h4v2h-4zM224 417h14v2h-14zM344 417h2v2h-2zM540 417h12v2h-12zM588 417h16v2h-16zM642 417h14v2h-14zM176 419h4v2h-4zM228 419h16v2h-16zM342 419h2v2h-2zM540 419h12v2h-12zM588 419h16v2h-16zM642 419h12v2h-12zM174 421h4v2h-4zM232 421h40v2h-40zM340 421h2v2h-2zM542 421h12v2h-12zM588 421h18v2h-18zM642 421h12v2h-12zM172 423h4v2h-4zM236 423h40v2h-40zM338 423h2v2h-2zM542 423h12v2h-12zM588 423h20v2h-20zM642 423h12v2h-12zM172 425h2v2h-2zM242 425h14v2h-14zM272 425h8v2h-8zM334 425h4v2h-4zM544 425h10v2h-10zM590 425h18v2h-18zM642 425h12v2h-12zM170 427h4v2h-4zM276 427h8v2h-8zM330 427h4v2h-4zM544 427h12v2h-12zM590 427h18v2h-18zM640 427h12v2h-12zM168 429h4v2h-4zM280 429h8v2h-8zM326 429h4v2h-4zM544 429h12v2h-12zM592 429h16v2h-16zM640 429h12v2h-12zM166 431h4v2h-4zM284 431h8v2h-8zM322 431h4v2h-4zM546 431h12v2h-12zM590 431h18v2h-18zM640 431h12v2h-12zM166 433h2v2h-2zM288 433h34v2h-34zM546 433h14v2h-14zM588 433h18v2h-18zM640 433h10v2h-10zM164 435h2v2h-2zM300 435h4v2h-4zM546 435h16v2h-16zM584 435h20v2h-20zM640 435h10v2h-10zM162 437h4v2h-4zM548 437h16v2h-16zM580 437h22v2h-22zM640 437h10v2h-10zM160 439h4v2h-4zM548 439h52v2h-52zM638 439h10v2h-10zM160 441h2v2h-2zM550 441h46v2h-46zM640 441h8v2h-8zM158 443h2v2h-2zM552 443h40v2h-40zM640 443h8v2h-8zM156 445h4v2h-4zM554 445h36v2h-36zM640 445h8v2h-8zM156 447h2v2h-2zM556 447h30v2h-30zM640 447h8v2h-8zM154 449h2v2h-2zM558 449h24v2h-24zM640 449h8v2h-8zM152 451h4v2h-4zM560 451h18v2h-18zM642 451h8v2h-8zM152 453h2v2h-2zM566 453h8v2h-8zM642 453h8v2h-8zM150 455h4v2h-4zM642 455h8v2h-8zM148 457h4v2h-4zM642 457h8v2h-8zM146 459h4v2h-4zM642 459h8v2h-8zM142 461h6v2h-6zM644 461h8v2h-8zM132 463h14v2h-14zM644 463h8v2h-8zM132 465h12v2h-12zM644 465h10v2h-10zM644 467h10v2h-10zM644 469h12v2h-12zM644 471h14v2h-14zM646 473h14v2h-14zM646 475h16v2h-16zM646 477h20v2h-20zM646 479h24v2h-24zM646 481h29v2h-29zM646 483h29v2h-29zM646 485h29v2h-29zM646 487h29v2h-29zM646 489h29v2h-29zM648 491h27v2h-27zM650 493h25v2h-25zM654 495h21v2h-21zM674 497h1v2h-1z"/><path fill="#ffc700" d="M344 125h14v2h-14zM342 127h22v2h-22zM340 129h30v2h-30zM340 131h8v2h-8zM362 131h10v2h-10zM338 133h6v2h-6zM368 133h6v2h-6zM338 135h6v2h-6zM370 135h4v2h-4zM338 137h4v2h-4zM372 137h4v2h-4zM336 139h6v2h-6zM372 139h4v2h-4zM336 141h4v2h-4zM372 141h4v2h-4zM334 143h6v2h-6zM372 143h4v2h-4zM332 145h6v2h-6zM372 145h2v2h-2zM328 147h8v2h-8zM370 147h4v2h-4zM324 149h10v2h-10zM370 149h4v2h-4zM318 151h12v2h-12zM368 151h4v2h-4zM314 153h10v2h-10zM368 153h4v2h-4zM312 155h6v2h-6zM366 155h4v2h-4zM310 157h6v2h-6zM366 157h4v2h-4zM310 159h4v2h-4zM364 159h4v2h-4zM310 161h4v2h-4zM364 161h4v2h-4zM312 163h2v2h-2zM364 163h2v2h-2zM312 165h2v2h-2zM362 165h4v2h-4zM312 167h2v2h-2zM362 167h2v2h-2zM312 169h2v2h-2zM360 169h4v2h-4zM312 171h2v2h-2zM360 171h2v2h-2zM312 173h2v2h-2zM358 173h4v2h-4zM312 175h2v2h-2zM358 175h2v2h-2zM310 177h2v2h-2zM356 177h4v2h-4zM310 179h2v2h-2zM354 179h4v2h-4zM308 181h4v2h-4zM354 181h2v2h-2zM308 183h2v2h-2zM352 183h4v2h-4zM308 185h2v2h-2zM350 185h4v2h-4zM674 185h1v2h-1zM308 187h2v2h-2zM350 187h2v2h-2zM664 187h11v2h-11zM308 189h2v2h-2zM348 189h4v2h-4zM650 189h25v2h-25zM308 191h2v2h-2zM346 191h4v2h-4zM640 191h35v2h-35zM308 193h2v2h-2zM346 193h4v2h-4zM632 193h36v2h-36zM308 195h2v2h-2zM346 195h4v2h-4zM626 195h22v2h-22zM308 197h4v2h-4zM346 197h4v2h-4zM620 197h22v2h-22zM308 199h4v2h-4zM346 199h4v2h-4zM610 199h28v2h-28zM308 201h4v2h-4zM346 201h4v2h-4zM606 201h28v2h-28zM308 203h4v2h-4zM346 203h4v2h-4zM604 203h28v2h-28zM308 205h4v2h-4zM344 205h6v2h-6zM602 205h28v2h-28zM310 207h2v2h-2zM344 207h6v2h-6zM600 207h28v2h-28zM310 209h4v2h-4zM344 209h6v2h-6zM600 209h28v2h-28zM310 211h4v2h-4zM344 211h6v2h-6zM598 211h28v2h-28zM310 213h6v2h-6zM342 213h8v2h-8zM596 213h30v2h-30zM312 215h8v2h-8zM340 215h10v2h-10zM594 215h32v2h-32zM314 217h12v2h-12zM336 217h14v2h-14zM592 217h36v2h-36zM316 219h32v2h-32zM590 219h16v2h-16zM616 219h12v2h-12zM320 221h28v2h-28zM586 221h16v2h-16zM618 221h12v2h-12zM322 223h26v2h-26zM582 223h16v2h-16zM618 223h12v2h-12zM326 225h20v2h-20zM580 225h12v2h-12zM620 225h12v2h-12zM328 227h16v2h-16zM578 227h10v2h-10zM620 227h14v2h-14zM334 229h4v2h-4zM576 229h8v2h-8zM622 229h12v2h-12zM574 231h10v2h-10zM624 231h12v2h-12zM572 233h12v2h-12zM626 233h10v2h-10zM572 235h12v2h-12zM628 235h10v2h-10zM570 237h16v2h-16zM630 237h8v2h-8zM502 239h28v2h-28zM568 239h20v2h-20zM632 239h8v2h-8zM494 241h42v2h-42zM566 241h26v2h-26zM634 241h8v2h-8zM490 243h52v2h-52zM564 243h30v2h-30zM634 243h12v2h-12zM486 245h12v2h-12zM514 245h34v2h-34zM560 245h34v2h-34zM636 245h12v2h-12zM484 247h6v2h-6zM526 247h66v2h-66zM636 247h14v2h-14zM482 249h4v2h-4zM528 249h62v2h-62zM638 249h16v2h-16zM480 251h6v2h-6zM530 251h58v2h-58zM640 251h16v2h-16zM480 253h4v2h-4zM530 253h54v2h-54zM640 253h18v2h-18zM478 255h4v2h-4zM532 255h46v2h-46zM642 255h20v2h-20zM478 257h4v2h-4zM530 257h38v2h-38zM644 257h18v2h-18zM478 259h4v2h-4zM530 259h24v2h-24zM646 259h18v2h-18zM478 261h4v2h-4zM528 261h14v2h-14zM648 261h14v2h-14zM478 263h6v2h-6zM524 263h10v2h-10zM654 263h4v2h-4zM480 265h4v2h-4zM520 265h12v2h-12zM480 267h6v2h-6zM516 267h14v2h-14zM480 269h8v2h-8zM514 269h14v2h-14zM482 271h10v2h-10zM510 271h16v2h-16zM482 273h18v2h-18zM502 273h22v2h-22zM484 275h38v2h-38zM484 277h36v2h-36zM392 279h8v2h-8zM484 279h34v2h-34zM388 281h18v2h-18zM484 281h32v2h-32zM384 283h30v2h-30zM484 283h30v2h-30zM378 285h56v2h-56zM482 285h30v2h-30zM374 287h72v2h-72zM478 287h32v2h-32zM370 289h138v2h-138zM370 291h20v2h-20zM444 291h62v2h-62zM368 293h14v2h-14zM466 293h36v2h-36zM368 295h8v2h-8zM476 295h24v2h-24zM366 297h8v2h-8zM486 297h8v2h-8zM366 299h6v2h-6zM366 301h6v2h-6zM366 303h6v2h-6zM368 305h6v2h-6zM368 307h10v2h-10zM370 309h14v2h-14zM372 311h18v2h-18zM376 313h20v2h-20zM380 315h18v2h-18zM386 317h16v2h-16zM674 317h1v2h-1zM390 319h14v2h-14zM662 319h13v2h-13zM394 321h10v2h-10zM640 321h35v2h-35zM396 323h10v2h-10zM632 323h43v2h-43zM396 325h10v2h-10zM626 325h48v2h-48zM398 327h8v2h-8zM620 327h42v2h-42zM398 329h8v2h-8zM616 329h24v2h-24zM398 331h8v2h-8zM610 331h20v2h-20zM398 333h8v2h-8zM606 333h16v2h-16zM398 335h8v2h-8zM600 335h16v2h-16zM396 337h10v2h-10zM594 337h16v2h-16zM394 339h10v2h-10zM590 339h14v2h-14zM392 341h12v2h-12zM584 341h14v2h-14zM388 343h14v2h-14zM576 343h16v2h-16zM386 345h14v2h-14zM570 345h14v2h-14zM384 347h6v2h-6zM564 347h12v2h-12zM384 349h4v2h-4zM558 349h10v2h-10zM382 351h6v2h-6zM554 351h10v2h-10zM382 353h6v2h-6zM548 353h10v2h-10zM382 355h6v2h-6zM544 355h10v2h-10zM382 357h6v2h-6zM540 357h10v2h-10zM384 359h6v2h-6zM536 359h10v2h-10zM384 361h6v2h-6zM534 361h10v2h-10zM382 363h8v2h-8zM532 363h8v2h-8zM382 365h6v2h-6zM530 365h8v2h-8zM382 367h6v2h-6zM528 367h8v2h-8zM382 369h4v2h-4zM526 369h8v2h-8zM380 371h6v2h-6zM526 371h6v2h-6zM380 373h4v2h-4zM524 373h8v2h-8zM378 375h4v2h-4zM524 375h6v2h-6zM378 377h4v2h-4zM522 377h8v2h-8zM376 379h4v2h-4zM522 379h8v2h-8zM374 381h4v2h-4zM522 381h6v2h-6zM374 383h2v2h-2zM522 383h6v2h-6zM372 385h4v2h-4zM522 385h6v2h-6zM370 387h4v2h-4zM522 387h6v2h-6zM370 389h2v2h-2zM522 389h8v2h-8zM368 391h2v2h-2zM522 391h8v2h-8zM366 393h2v2h-2zM522 393h8v2h-8zM364 395h2v2h-2zM522 395h8v2h-8zM360 397h4v2h-4zM524 397h8v2h-8zM358 399h4v2h-4zM524 399h8v2h-8zM356 401h4v2h-4zM524 401h8v2h-8zM612 401h14v2h-14zM354 403h4v2h-4zM524 403h10v2h-10zM606 403h24v2h-24zM354 405h2v2h-2zM526 405h8v2h-8zM602 405h32v2h-32zM352 407h4v2h-4zM526 407h10v2h-10zM600 407h36v2h-36zM352 409h2v2h-2zM526 409h10v2h-10zM600 409h38v2h-38zM192 411h12v2h-12zM350 411h2v2h-2zM528 411h10v2h-10zM600 411h40v2h-40zM188 413h24v2h-24zM350 413h2v2h-2zM528 413h10v2h-10zM600 413h42v2h-42zM184 415h34v2h-34zM348 415h2v2h-2zM528 415h12v2h-12zM602 415h40v2h-40zM182 417h8v2h-8zM202 417h22v2h-22zM346 417h2v2h-2zM530 417h10v2h-10zM604 417h38v2h-38zM180 419h6v2h-6zM210 419h18v2h-18zM344 419h4v2h-4zM530 419h10v2h-10zM604 419h38v2h-38zM178 421h6v2h-6zM216 421h16v2h-16zM342 421h4v2h-4zM532 421h10v2h-10zM606 421h36v2h-36zM176 423h6v2h-6zM220 423h16v2h-16zM340 423h2v2h-2zM532 423h10v2h-10zM608 423h34v2h-34zM174 425h6v2h-6zM224 425h18v2h-18zM256 425h16v2h-16zM338 425h2v2h-2zM532 425h12v2h-12zM608 425h34v2h-34zM174 427h4v2h-4zM228 427h48v2h-48zM334 427h4v2h-4zM534 427h10v2h-10zM608 427h32v2h-32zM172 429h4v2h-4zM230 429h36v2h-36zM270 429h10v2h-10zM330 429h4v2h-4zM534 429h10v2h-10zM608 429h32v2h-32zM170 431h4v2h-4zM234 431h26v2h-26zM274 431h10v2h-10zM326 431h4v2h-4zM534 431h12v2h-12zM608 431h32v2h-32zM168 433h4v2h-4zM236 433h20v2h-20zM278 433h10v2h-10zM322 433h4v2h-4zM536 433h10v2h-10zM606 433h34v2h-34zM166 435h4v2h-4zM240 435h10v2h-10zM282 435h18v2h-18zM304 435h18v2h-18zM536 435h10v2h-10zM604 435h36v2h-36zM166 437h2v2h-2zM290 437h18v2h-18zM536 437h12v2h-12zM602 437h16v2h-16zM624 437h16v2h-16zM164 439h4v2h-4zM538 439h10v2h-10zM600 439h14v2h-14zM628 439h10v2h-10zM162 441h4v2h-4zM538 441h12v2h-12zM596 441h14v2h-14zM628 441h12v2h-12zM160 443h4v2h-4zM540 443h12v2h-12zM592 443h16v2h-16zM630 443h10v2h-10zM160 445h2v2h-2zM540 445h14v2h-14zM590 445h14v2h-14zM632 445h8v2h-8zM158 447h4v2h-4zM542 447h14v2h-14zM586 447h16v2h-16zM632 447h8v2h-8zM156 449h4v2h-4zM544 449h14v2h-14zM582 449h18v2h-18zM632 449h8v2h-8zM156 451h4v2h-4zM546 451h14v2h-14zM578 451h20v2h-20zM634 451h8v2h-8zM154 453h4v2h-4zM548 453h18v2h-18zM574 453h22v2h-22zM634 453h8v2h-8zM154 455h2v2h-2zM550 455h44v2h-44zM634 455h8v2h-8zM152 457h4v2h-4zM552 457h38v2h-38zM636 457h6v2h-6zM150 459h4v2h-4zM554 459h34v2h-34zM636 459h6v2h-6zM148 461h6v2h-6zM558 461h26v2h-26zM636 461h8v2h-8zM146 463h6v2h-6zM562 463h18v2h-18zM636 463h8v2h-8zM144 465h6v2h-6zM570 465h2v2h-2zM636 465h8v2h-8zM132 467h16v2h-16zM636 467h8v2h-8zM124 469h22v2h-22zM636 469h8v2h-8zM132 471h12v2h-12zM636 471h8v2h-8zM634 473h12v2h-12zM634 475h12v2h-12zM634 477h12v2h-12zM634 479h12v2h-12zM634 481h12v2h-12zM634 483h12v2h-12zM632 485h14v2h-14zM632 487h14v2h-14zM632 489h14v2h-14zM632 491h16v2h-16zM632 493h18v2h-18zM632 495h22v2h-22zM632 497h42v2h-42zM632 499h43v2h-43zM632 501h43v2h-43zM632 503h43v2h-43zM632 505h43v2h-43zM632 507h43v2h-43zM634 509h41v2h-41zM634 511h41v2h-41zM636 513h39v2h-39zM636 515h39v2h-39zM638 517h37v2h-37zM638 519h30v2h-30zM638 521h28v2h-28zM640 523h26v2h-26zM640 525h26v2h-26zM640 527h28v2h-28zM640 529h28v2h-28zM640 531h30v2h-30zM638 533h36v2h-36zM638 535h37v2h-37zM638 537h37v2h-37zM638 539h37v2h-37zM638 541h37v2h-37zM638 543h37v2h-37zM636 545h39v2h-39zM636 547h39v2h-39zM636 549h39v2h-39zM634 551h41v2h-41zM634 553h41v2h-41zM632 555h43v2h-43zM632 557h43v2h-43zM630 559h45v2h-45zM628 561h47v2h-47z"/><path fill="#ffb700" d="M348 131h14v2h-14zM344 133h24v2h-24zM344 135h26v2h-26zM342 137h8v2h-8zM364 137h8v2h-8zM342 139h4v2h-4zM366 139h6v2h-6zM340 141h6v2h-6zM366 141h6v2h-6zM340 143h4v2h-4zM368 143h4v2h-4zM338 145h6v2h-6zM366 145h6v2h-6zM336 147h6v2h-6zM366 147h4v2h-4zM334 149h6v2h-6zM366 149h4v2h-4zM330 151h10v2h-10zM364 151h4v2h-4zM324 153h12v2h-12zM364 153h4v2h-4zM318 155h14v2h-14zM364 155h2v2h-2zM316 157h8v2h-8zM362 157h4v2h-4zM314 159h6v2h-6zM362 159h2v2h-2zM314 161h4v2h-4zM360 161h4v2h-4zM314 163h4v2h-4zM360 163h4v2h-4zM314 165h4v2h-4zM358 165h4v2h-4zM314 167h4v2h-4zM358 167h4v2h-4zM314 169h4v2h-4zM356 169h4v2h-4zM314 171h2v2h-2zM356 171h4v2h-4zM314 173h2v2h-2zM354 173h4v2h-4zM314 175h2v2h-2zM354 175h4v2h-4zM312 177h4v2h-4zM352 177h4v2h-4zM312 179h2v2h-2zM350 179h4v2h-4zM312 181h2v2h-2zM350 181h4v2h-4zM310 183h4v2h-4zM348 183h4v2h-4zM310 185h2v2h-2zM346 185h4v2h-4zM310 187h2v2h-2zM344 187h6v2h-6zM310 189h2v2h-2zM342 189h6v2h-6zM310 191h4v2h-4zM342 191h4v2h-4zM310 193h4v2h-4zM342 193h4v2h-4zM668 193h7v2h-7zM310 195h4v2h-4zM342 195h4v2h-4zM648 195h27v2h-27zM312 197h2v2h-2zM340 197h6v2h-6zM642 197h33v2h-33zM312 199h2v2h-2zM340 199h6v2h-6zM638 199h37v2h-37zM312 201h4v2h-4zM340 201h6v2h-6zM634 201h24v2h-24zM312 203h4v2h-4zM340 203h6v2h-6zM632 203h20v2h-20zM312 205h6v2h-6zM338 205h6v2h-6zM630 205h18v2h-18zM312 207h8v2h-8zM338 207h6v2h-6zM628 207h18v2h-18zM314 209h8v2h-8zM336 209h8v2h-8zM628 209h18v2h-18zM314 211h30v2h-30zM626 211h18v2h-18zM316 213h26v2h-26zM626 213h18v2h-18zM320 215h20v2h-20zM626 215h18v2h-18zM326 217h10v2h-10zM628 217h16v2h-16zM606 219h10v2h-10zM628 219h16v2h-16zM602 221h16v2h-16zM630 221h16v2h-16zM598 223h20v2h-20zM630 223h16v2h-16zM592 225h28v2h-28zM632 225h14v2h-14zM588 227h32v2h-32zM634 227h14v2h-14zM584 229h38v2h-38zM634 229h14v2h-14zM584 231h40v2h-40zM636 231h14v2h-14zM584 233h42v2h-42zM636 233h14v2h-14zM584 235h44v2h-44zM638 235h14v2h-14zM586 237h44v2h-44zM638 237h16v2h-16zM588 239h44v2h-44zM640 239h16v2h-16zM592 241h42v2h-42zM642 241h16v2h-16zM594 243h40v2h-40zM646 243h16v2h-16zM498 245h16v2h-16zM594 245h18v2h-18zM620 245h16v2h-16zM648 245h18v2h-18zM490 247h36v2h-36zM592 247h16v2h-16zM626 247h10v2h-10zM650 247h20v2h-20zM486 249h42v2h-42zM590 249h14v2h-14zM628 249h10v2h-10zM654 249h20v2h-20zM486 251h6v2h-6zM502 251h28v2h-28zM588 251h14v2h-14zM630 251h10v2h-10zM656 251h19v2h-19zM484 253h4v2h-4zM506 253h24v2h-24zM584 253h16v2h-16zM632 253h8v2h-8zM658 253h17v2h-17zM482 255h6v2h-6zM508 255h24v2h-24zM578 255h20v2h-20zM634 255h8v2h-8zM662 255h13v2h-13zM482 257h6v2h-6zM508 257h22v2h-22zM568 257h26v2h-26zM634 257h10v2h-10zM662 257h13v2h-13zM482 259h6v2h-6zM506 259h24v2h-24zM554 259h36v2h-36zM636 259h10v2h-10zM664 259h11v2h-11zM482 261h6v2h-6zM506 261h22v2h-22zM542 261h42v2h-42zM638 261h10v2h-10zM662 261h13v2h-13zM484 263h6v2h-6zM504 263h20v2h-20zM534 263h44v2h-44zM638 263h16v2h-16zM658 263h17v2h-17zM484 265h36v2h-36zM532 265h38v2h-38zM640 265h35v2h-35zM486 267h30v2h-30zM530 267h30v2h-30zM642 267h33v2h-33zM488 269h26v2h-26zM528 269h26v2h-26zM642 269h33v2h-33zM492 271h18v2h-18zM526 271h24v2h-24zM644 271h31v2h-31zM500 273h2v2h-2zM524 273h22v2h-22zM646 273h29v2h-29zM522 275h22v2h-22zM646 275h29v2h-29zM520 277h20v2h-20zM648 277h27v2h-27zM518 279h20v2h-20zM650 279h25v2h-25zM516 281h20v2h-20zM664 281h11v2h-11zM514 283h20v2h-20zM674 283h1v2h-1zM512 285h18v2h-18zM510 287h16v2h-16zM508 289h14v2h-14zM390 291h54v2h-54zM506 291h14v2h-14zM382 293h84v2h-84zM502 293h14v2h-14zM376 295h48v2h-48zM438 295h38v2h-38zM500 295h14v2h-14zM644 295h10v2h-10zM374 297h24v2h-24zM462 297h24v2h-24zM494 297h16v2h-16zM640 297h16v2h-16zM372 299h24v2h-24zM466 299h42v2h-42zM638 299h20v2h-20zM674 299h1v2h-1zM372 301h24v2h-24zM470 301h34v2h-34zM636 301h26v2h-26zM672 301h3v2h-3zM372 303h24v2h-24zM476 303h24v2h-24zM634 303h41v2h-41zM374 305h24v2h-24zM484 305h10v2h-10zM632 305h43v2h-43zM378 307h22v2h-22zM630 307h45v2h-45zM384 309h20v2h-20zM628 309h47v2h-47zM390 311h16v2h-16zM622 311h53v2h-53zM396 313h12v2h-12zM618 313h57v2h-57zM398 315h12v2h-12zM612 315h63v2h-63zM402 317h8v2h-8zM610 317h64v2h-64zM404 319h6v2h-6zM606 319h56v2h-56zM404 321h8v2h-8zM604 321h36v2h-36zM406 323h6v2h-6zM602 323h30v2h-30zM406 325h6v2h-6zM600 325h26v2h-26zM406 327h6v2h-6zM598 327h22v2h-22zM406 329h6v2h-6zM594 329h22v2h-22zM406 331h6v2h-6zM590 331h20v2h-20zM406 333h6v2h-6zM586 333h20v2h-20zM406 335h6v2h-6zM582 335h18v2h-18zM406 337h6v2h-6zM576 337h18v2h-18zM404 339h8v2h-8zM572 339h18v2h-18zM404 341h8v2h-8zM566 341h18v2h-18zM402 343h10v2h-10zM560 343h16v2h-16zM400 345h10v2h-10zM556 345h14v2h-14zM390 347h20v2h-20zM550 347h14v2h-14zM388 349h22v2h-22zM544 349h14v2h-14zM388 351h20v2h-20zM540 351h14v2h-14zM388 353h20v2h-20zM536 353h12v2h-12zM388 355h18v2h-18zM532 355h12v2h-12zM388 357h16v2h-16zM530 357h10v2h-10zM390 359h14v2h-14zM528 359h8v2h-8zM390 361h12v2h-12zM526 361h8v2h-8zM390 363h10v2h-10zM524 363h8v2h-8zM388 365h10v2h-10zM522 365h8v2h-8zM388 367h8v2h-8zM522 367h6v2h-6zM386 369h8v2h-8zM520 369h6v2h-6zM386 371h6v2h-6zM520 371h6v2h-6zM384 373h6v2h-6zM518 373h6v2h-6zM382 375h6v2h-6zM518 375h6v2h-6zM382 377h6v2h-6zM518 377h4v2h-4zM380 379h6v2h-6zM516 379h6v2h-6zM378 381h6v2h-6zM516 381h6v2h-6zM376 383h6v2h-6zM516 383h6v2h-6zM376 385h4v2h-4zM516 385h6v2h-6zM374 387h4v2h-4zM516 387h6v2h-6zM372 389h4v2h-4zM516 389h6v2h-6zM370 391h4v2h-4zM514 391h8v2h-8zM368 393h4v2h-4zM514 393h8v2h-8zM366 395h6v2h-6zM516 395h6v2h-6zM364 397h6v2h-6zM516 397h8v2h-8zM362 399h6v2h-6zM516 399h8v2h-8zM360 401h4v2h-4zM516 401h8v2h-8zM358 403h4v2h-4zM516 403h8v2h-8zM356 405h4v2h-4zM516 405h10v2h-10zM356 407h4v2h-4zM516 407h10v2h-10zM354 409h4v2h-4zM518 409h8v2h-8zM352 411h4v2h-4zM518 411h10v2h-10zM352 413h4v2h-4zM518 413h10v2h-10zM350 415h4v2h-4zM518 415h10v2h-10zM190 417h12v2h-12zM348 417h4v2h-4zM518 417h12v2h-12zM186 419h24v2h-24zM348 419h2v2h-2zM520 419h10v2h-10zM184 421h32v2h-32zM346 421h2v2h-2zM520 421h12v2h-12zM182 423h38v2h-38zM342 423h4v2h-4zM520 423h12v2h-12zM180 425h10v2h-10zM198 425h26v2h-26zM340 425h4v2h-4zM520 425h12v2h-12zM178 427h8v2h-8zM202 427h26v2h-26zM338 427h4v2h-4zM522 427h12v2h-12zM176 429h6v2h-6zM206 429h24v2h-24zM266 429h4v2h-4zM334 429h4v2h-4zM522 429h12v2h-12zM174 431h6v2h-6zM210 431h24v2h-24zM260 431h14v2h-14zM330 431h6v2h-6zM524 431h10v2h-10zM172 433h6v2h-6zM212 433h24v2h-24zM256 433h22v2h-22zM326 433h6v2h-6zM524 433h12v2h-12zM170 435h8v2h-8zM212 435h28v2h-28zM250 435h32v2h-32zM322 435h6v2h-6zM524 435h12v2h-12zM168 437h8v2h-8zM214 437h54v2h-54zM272 437h18v2h-18zM308 437h16v2h-16zM526 437h10v2h-10zM618 437h6v2h-6zM168 439h6v2h-6zM214 439h48v2h-48zM280 439h36v2h-36zM526 439h12v2h-12zM614 439h14v2h-14zM166 441h6v2h-6zM216 441h44v2h-44zM290 441h8v2h-8zM528 441h10v2h-10zM610 441h18v2h-18zM164 443h6v2h-6zM214 443h42v2h-42zM528 443h12v2h-12zM608 443h22v2h-22zM162 445h6v2h-6zM214 445h38v2h-38zM530 445h10v2h-10zM604 445h28v2h-28zM162 447h6v2h-6zM212 447h36v2h-36zM530 447h12v2h-12zM602 447h30v2h-30zM160 449h6v2h-6zM208 449h34v2h-34zM532 449h12v2h-12zM600 449h32v2h-32zM160 451h4v2h-4zM204 451h24v2h-24zM532 451h14v2h-14zM598 451h36v2h-36zM158 453h6v2h-6zM198 453h24v2h-24zM534 453h14v2h-14zM596 453h38v2h-38zM156 455h6v2h-6zM192 455h28v2h-28zM536 455h14v2h-14zM594 455h40v2h-40zM156 457h6v2h-6zM190 457h28v2h-28zM538 457h14v2h-14zM590 457h46v2h-46zM154 459h6v2h-6zM190 459h26v2h-26zM542 459h12v2h-12zM588 459h48v2h-48zM154 461h6v2h-6zM190 461h24v2h-24zM544 461h14v2h-14zM584 461h52v2h-52zM152 463h6v2h-6zM190 463h22v2h-22zM548 463h14v2h-14zM580 463h56v2h-56zM150 465h8v2h-8zM190 465h20v2h-20zM550 465h20v2h-20zM572 465h64v2h-64zM148 467h8v2h-8zM192 467h14v2h-14zM554 467h82v2h-82zM146 469h10v2h-10zM196 469h6v2h-6zM558 469h78v2h-78zM124 471h8v2h-8zM144 471h10v2h-10zM562 471h74v2h-74zM124 473h28v2h-28zM570 473h64v2h-64zM124 475h26v2h-26zM582 475h52v2h-52zM132 477h14v2h-14zM588 477h46v2h-46zM136 479h6v2h-6zM592 479h42v2h-42zM594 481h40v2h-40zM594 483h40v2h-40zM596 485h36v2h-36zM596 487h36v2h-36zM596 489h36v2h-36zM596 491h36v2h-36zM596 493h36v2h-36zM596 495h36v2h-36zM598 497h34v2h-34zM598 499h34v2h-34zM598 501h34v2h-34zM598 503h34v2h-34zM598 505h34v2h-34zM598 507h34v2h-34zM598 509h36v2h-36zM598 511h36v2h-36zM290 513h4v2h-4zM304 513h14v2h-14zM598 513h38v2h-38zM286 515h38v2h-38zM422 515h2v2h-2zM598 515h38v2h-38zM286 517h42v2h-42zM416 517h16v2h-16zM596 517h42v2h-42zM288 519h42v2h-42zM414 519h22v2h-22zM596 519h42v2h-42zM668 519h7v2h-7zM302 521h28v2h-28zM412 521h26v2h-26zM596 521h42v2h-42zM666 521h9v2h-9zM308 523h24v2h-24zM412 523h30v2h-30zM594 523h46v2h-46zM666 523h9v2h-9zM312 525h20v2h-20zM412 525h32v2h-32zM594 525h46v2h-46zM666 525h9v2h-9zM314 527h20v2h-20zM412 527h36v2h-36zM594 527h46v2h-46zM668 527h7v2h-7zM316 529h18v2h-18zM412 529h40v2h-40zM592 529h48v2h-48zM668 529h7v2h-7zM318 531h18v2h-18zM414 531h44v2h-44zM590 531h50v2h-50zM670 531h5v2h-5zM318 533h18v2h-18zM414 533h50v2h-50zM590 533h48v2h-48zM674 533h1v2h-1zM320 535h18v2h-18zM414 535h54v2h-54zM588 535h50v2h-50zM320 537h18v2h-18zM416 537h54v2h-54zM586 537h52v2h-52zM320 539h20v2h-20zM416 539h56v2h-56zM586 539h52v2h-52zM320 541h20v2h-20zM418 541h56v2h-56zM584 541h54v2h-54zM320 543h22v2h-22zM420 543h56v2h-56zM582 543h56v2h-56zM318 545h24v2h-24zM420 545h60v2h-60zM580 545h56v2h-56zM318 547h26v2h-26zM422 547h60v2h-60zM576 547h60v2h-60zM318 549h26v2h-26zM422 549h62v2h-62zM574 549h62v2h-62zM318 551h28v2h-28zM424 551h64v2h-64zM572 551h62v2h-62zM316 553h30v2h-30zM426 553h64v2h-64zM568 553h66v2h-66zM316 555h32v2h-32zM426 555h70v2h-70zM566 555h66v2h-66zM316 557h32v2h-32zM428 557h90v2h-90zM562 557h70v2h-70zM316 559h34v2h-34zM428 559h98v2h-98zM558 559h72v2h-72zM314 561h36v2h-36zM430 561h102v2h-102zM552 561h76v2h-76z"/><path fill="#ffa700" d="M350 137h14v2h-14zM346 139h20v2h-20zM346 141h8v2h-8zM358 141h8v2h-8zM344 143h6v2h-6zM360 143h8v2h-8zM344 145h4v2h-4zM362 145h4v2h-4zM342 147h6v2h-6zM362 147h4v2h-4zM340 149h6v2h-6zM362 149h4v2h-4zM340 151h6v2h-6zM360 151h4v2h-4zM336 153h8v2h-8zM360 153h4v2h-4zM332 155h10v2h-10zM358 155h6v2h-6zM324 157h16v2h-16zM358 157h4v2h-4zM320 159h14v2h-14zM356 159h6v2h-6zM318 161h10v2h-10zM356 161h4v2h-4zM318 163h6v2h-6zM354 163h6v2h-6zM318 165h4v2h-4zM354 165h4v2h-4zM318 167h4v2h-4zM352 167h6v2h-6zM318 169h2v2h-2zM352 169h4v2h-4zM316 171h4v2h-4zM350 171h6v2h-6zM316 173h4v2h-4zM350 173h4v2h-4zM316 175h2v2h-2zM348 175h6v2h-6zM316 177h2v2h-2zM346 177h6v2h-6zM314 179h4v2h-4zM346 179h4v2h-4zM314 181h2v2h-2zM344 181h6v2h-6zM314 183h2v2h-2zM342 183h6v2h-6zM312 185h4v2h-4zM340 185h6v2h-6zM312 187h4v2h-4zM340 187h4v2h-4zM312 189h4v2h-4zM338 189h4v2h-4zM314 191h2v2h-2zM338 191h4v2h-4zM314 193h4v2h-4zM336 193h6v2h-6zM314 195h4v2h-4zM336 195h6v2h-6zM314 197h4v2h-4zM336 197h4v2h-4zM314 199h6v2h-6zM336 199h4v2h-4zM316 201h6v2h-6zM334 201h6v2h-6zM658 201h17v2h-17zM316 203h8v2h-8zM332 203h8v2h-8zM652 203h23v2h-23zM318 205h20v2h-20zM648 205h27v2h-27zM320 207h18v2h-18zM646 207h22v2h-22zM322 209h14v2h-14zM646 209h16v2h-16zM644 211h14v2h-14zM644 213h12v2h-12zM644 215h12v2h-12zM644 217h10v2h-10zM644 219h10v2h-10zM646 221h8v2h-8zM646 223h8v2h-8zM646 225h10v2h-10zM648 227h8v2h-8zM648 229h8v2h-8zM650 231h8v2h-8zM650 233h10v2h-10zM652 235h10v2h-10zM654 237h12v2h-12zM656 239h16v2h-16zM658 241h17v2h-17zM662 243h13v2h-13zM612 245h8v2h-8zM666 245h9v2h-9zM608 247h18v2h-18zM670 247h5v2h-5zM604 249h24v2h-24zM674 249h1v2h-1zM492 251h10v2h-10zM602 251h28v2h-28zM488 253h18v2h-18zM600 253h10v2h-10zM624 253h8v2h-8zM488 255h20v2h-20zM598 255h10v2h-10zM626 255h8v2h-8zM488 257h20v2h-20zM594 257h10v2h-10zM628 257h6v2h-6zM488 259h18v2h-18zM590 259h12v2h-12zM630 259h6v2h-6zM488 261h18v2h-18zM584 261h14v2h-14zM632 261h6v2h-6zM490 263h14v2h-14zM578 263h18v2h-18zM632 263h6v2h-6zM570 265h22v2h-22zM634 265h6v2h-6zM560 267h26v2h-26zM634 267h8v2h-8zM554 269h26v2h-26zM634 269h8v2h-8zM550 271h24v2h-24zM636 271h8v2h-8zM546 273h20v2h-20zM636 273h10v2h-10zM544 275h14v2h-14zM636 275h10v2h-10zM540 277h14v2h-14zM636 277h12v2h-12zM538 279h12v2h-12zM636 279h14v2h-14zM536 281h12v2h-12zM636 281h28v2h-28zM534 283h12v2h-12zM634 283h40v2h-40zM530 285h14v2h-14zM632 285h43v2h-43zM526 287h16v2h-16zM632 287h43v2h-43zM522 289h18v2h-18zM630 289h45v2h-45zM520 291h18v2h-18zM626 291h49v2h-49zM516 293h18v2h-18zM596 293h18v2h-18zM620 293h55v2h-55zM424 295h14v2h-14zM514 295h14v2h-14zM594 295h50v2h-50zM654 295h21v2h-21zM398 297h64v2h-64zM510 297h12v2h-12zM590 297h50v2h-50zM656 297h19v2h-19zM396 299h70v2h-70zM508 299h10v2h-10zM590 299h48v2h-48zM658 299h16v2h-16zM396 301h74v2h-74zM504 301h12v2h-12zM588 301h48v2h-48zM662 301h10v2h-10zM396 303h28v2h-28zM450 303h26v2h-26zM500 303h14v2h-14zM586 303h48v2h-48zM398 305h22v2h-22zM456 305h28v2h-28zM494 305h16v2h-16zM584 305h48v2h-48zM400 307h20v2h-20zM460 307h48v2h-48zM582 307h48v2h-48zM404 309h14v2h-14zM462 309h42v2h-42zM582 309h46v2h-46zM406 311h12v2h-12zM464 311h34v2h-34zM580 311h42v2h-42zM408 313h10v2h-10zM474 313h8v2h-8zM578 313h40v2h-40zM410 315h8v2h-8zM576 315h36v2h-36zM410 317h8v2h-8zM574 317h36v2h-36zM410 319h8v2h-8zM574 319h32v2h-32zM412 321h6v2h-6zM572 321h32v2h-32zM412 323h6v2h-6zM572 323h30v2h-30zM412 325h6v2h-6zM570 325h30v2h-30zM412 327h6v2h-6zM570 327h28v2h-28zM412 329h6v2h-6zM568 329h26v2h-26zM412 331h6v2h-6zM566 331h24v2h-24zM412 333h6v2h-6zM562 333h24v2h-24zM412 335h6v2h-6zM560 335h22v2h-22zM412 337h6v2h-6zM556 337h20v2h-20zM412 339h6v2h-6zM552 339h20v2h-20zM412 341h6v2h-6zM546 341h20v2h-20zM412 343h6v2h-6zM542 343h18v2h-18zM410 345h8v2h-8zM538 345h18v2h-18zM410 347h8v2h-8zM534 347h16v2h-16zM410 349h8v2h-8zM530 349h14v2h-14zM408 351h8v2h-8zM528 351h12v2h-12zM408 353h8v2h-8zM526 353h10v2h-10zM406 355h10v2h-10zM524 355h8v2h-8zM404 357h10v2h-10zM522 357h8v2h-8zM404 359h10v2h-10zM520 359h8v2h-8zM402 361h10v2h-10zM520 361h6v2h-6zM400 363h12v2h-12zM518 363h6v2h-6zM398 365h12v2h-12zM518 365h4v2h-4zM396 367h12v2h-12zM516 367h6v2h-6zM394 369h12v2h-12zM516 369h4v2h-4zM392 371h12v2h-12zM514 371h6v2h-6zM390 373h12v2h-12zM514 373h4v2h-4zM388 375h12v2h-12zM512 375h6v2h-6zM388 377h10v2h-10zM512 377h6v2h-6zM386 379h8v2h-8zM510 379h6v2h-6zM384 381h8v2h-8zM510 381h6v2h-6zM382 383h8v2h-8zM510 383h6v2h-6zM380 385h6v2h-6zM508 385h8v2h-8zM378 387h6v2h-6zM508 387h8v2h-8zM376 389h6v2h-6zM508 389h8v2h-8zM374 391h6v2h-6zM508 391h6v2h-6zM372 393h6v2h-6zM506 393h8v2h-8zM372 395h4v2h-4zM506 395h10v2h-10zM370 397h4v2h-4zM506 397h10v2h-10zM368 399h4v2h-4zM506 399h10v2h-10zM364 401h6v2h-6zM506 401h10v2h-10zM362 403h6v2h-6zM506 403h10v2h-10zM360 405h6v2h-6zM506 405h10v2h-10zM360 407h4v2h-4zM508 407h8v2h-8zM358 409h4v2h-4zM508 409h10v2h-10zM356 411h6v2h-6zM508 411h10v2h-10zM356 413h4v2h-4zM508 413h10v2h-10zM354 415h4v2h-4zM506 415h12v2h-12zM352 417h4v2h-4zM506 417h12v2h-12zM350 419h6v2h-6zM506 419h14v2h-14zM348 421h6v2h-6zM506 421h14v2h-14zM346 423h6v2h-6zM506 423h14v2h-14zM190 425h8v2h-8zM344 425h6v2h-6zM506 425h14v2h-14zM186 427h16v2h-16zM342 427h6v2h-6zM506 427h16v2h-16zM182 429h24v2h-24zM338 429h6v2h-6zM506 429h16v2h-16zM180 431h30v2h-30zM336 431h6v2h-6zM506 431h18v2h-18zM178 433h34v2h-34zM332 433h6v2h-6zM506 433h18v2h-18zM178 435h34v2h-34zM328 435h6v2h-6zM508 435h16v2h-16zM176 437h38v2h-38zM268 437h4v2h-4zM324 437h8v2h-8zM508 437h18v2h-18zM174 439h40v2h-40zM262 439h18v2h-18zM316 439h12v2h-12zM510 439h16v2h-16zM172 441h44v2h-44zM260 441h30v2h-30zM298 441h24v2h-24zM510 441h18v2h-18zM170 443h44v2h-44zM256 443h52v2h-52zM512 443h16v2h-16zM168 445h46v2h-46zM252 445h48v2h-48zM514 445h16v2h-16zM168 447h44v2h-44zM248 447h24v2h-24zM516 447h14v2h-14zM166 449h42v2h-42zM242 449h24v2h-24zM518 449h14v2h-14zM164 451h40v2h-40zM228 451h36v2h-36zM518 451h14v2h-14zM164 453h34v2h-34zM222 453h40v2h-40zM520 453h14v2h-14zM162 455h30v2h-30zM220 455h40v2h-40zM522 455h14v2h-14zM162 457h28v2h-28zM218 457h40v2h-40zM522 457h16v2h-16zM160 459h30v2h-30zM216 459h38v2h-38zM524 459h18v2h-18zM160 461h30v2h-30zM214 461h38v2h-38zM526 461h18v2h-18zM158 463h32v2h-32zM212 463h38v2h-38zM528 463h20v2h-20zM158 465h32v2h-32zM210 465h36v2h-36zM532 465h18v2h-18zM156 467h36v2h-36zM206 467h34v2h-34zM536 467h18v2h-18zM156 469h40v2h-40zM202 469h32v2h-32zM542 469h16v2h-16zM154 471h76v2h-76zM548 471h14v2h-14zM152 473h74v2h-74zM552 473h18v2h-18zM150 475h72v2h-72zM556 475h26v2h-26zM124 477h8v2h-8zM146 477h74v2h-74zM560 477h28v2h-28zM124 479h12v2h-12zM142 479h74v2h-74zM566 479h26v2h-26zM126 481h88v2h-88zM338 481h40v2h-40zM572 481h22v2h-22zM130 483h80v2h-80zM334 483h54v2h-54zM576 483h18v2h-18zM134 485h34v2h-34zM188 485h12v2h-12zM332 485h64v2h-64zM578 485h18v2h-18zM140 487h24v2h-24zM330 487h76v2h-76zM580 487h16v2h-16zM152 489h10v2h-10zM330 489h86v2h-86zM582 489h14v2h-14zM328 491h94v2h-94zM584 491h12v2h-12zM326 493h102v2h-102zM584 493h12v2h-12zM324 495h108v2h-108zM584 495h12v2h-12zM318 497h118v2h-118zM586 497h12v2h-12zM214 499h6v2h-6zM302 499h136v2h-136zM586 499h12v2h-12zM208 501h18v2h-18zM288 501h154v2h-154zM586 501h12v2h-12zM206 503h28v2h-28zM254 503h190v2h-190zM586 503h12v2h-12zM204 505h242v2h-242zM584 505h14v2h-14zM202 507h246v2h-246zM584 507h14v2h-14zM200 509h252v2h-252zM584 509h14v2h-14zM198 511h256v2h-256zM584 511h14v2h-14zM198 513h92v2h-92zM294 513h10v2h-10zM318 513h140v2h-140zM584 513h14v2h-14zM156 515h8v2h-8zM198 515h88v2h-88zM324 515h98v2h-98zM424 515h36v2h-36zM582 515h16v2h-16zM154 517h10v2h-10zM198 517h88v2h-88zM328 517h88v2h-88zM432 517h32v2h-32zM582 517h14v2h-14zM152 519h14v2h-14zM198 519h90v2h-90zM330 519h84v2h-84zM436 519h32v2h-32zM580 519h16v2h-16zM152 521h14v2h-14zM198 521h104v2h-104zM330 521h82v2h-82zM438 521h34v2h-34zM580 521h16v2h-16zM150 523h16v2h-16zM200 523h108v2h-108zM332 523h80v2h-80zM442 523h34v2h-34zM578 523h16v2h-16zM148 525h18v2h-18zM202 525h110v2h-110zM332 525h80v2h-80zM444 525h34v2h-34zM578 525h16v2h-16zM146 527h20v2h-20zM204 527h110v2h-110zM334 527h78v2h-78zM448 527h34v2h-34zM576 527h18v2h-18zM144 529h22v2h-22zM208 529h108v2h-108zM334 529h78v2h-78zM452 529h34v2h-34zM574 529h18v2h-18zM142 531h24v2h-24zM212 531h106v2h-106zM336 531h24v2h-24zM374 531h40v2h-40zM458 531h30v2h-30zM574 531h16v2h-16zM140 533h26v2h-26zM220 533h98v2h-98zM336 533h22v2h-22zM378 533h36v2h-36zM464 533h30v2h-30zM572 533h18v2h-18zM138 535h28v2h-28zM242 535h78v2h-78zM338 535h20v2h-20zM382 535h32v2h-32zM468 535h34v2h-34zM570 535h18v2h-18zM138 537h26v2h-26zM248 537h40v2h-40zM298 537h22v2h-22zM338 537h20v2h-20zM384 537h32v2h-32zM470 537h50v2h-50zM568 537h18v2h-18zM136 539h28v2h-28zM250 539h30v2h-30zM302 539h18v2h-18zM340 539h16v2h-16zM386 539h30v2h-30zM472 539h54v2h-54zM566 539h20v2h-20zM136 541h28v2h-28zM254 541h22v2h-22zM304 541h16v2h-16zM340 541h18v2h-18zM388 541h30v2h-30zM474 541h54v2h-54zM562 541h22v2h-22zM136 543h26v2h-26zM258 543h10v2h-10zM306 543h14v2h-14zM342 543h16v2h-16zM390 543h30v2h-30zM476 543h56v2h-56zM560 543h22v2h-22zM136 545h26v2h-26zM306 545h12v2h-12zM342 545h16v2h-16zM390 545h30v2h-30zM480 545h58v2h-58zM556 545h24v2h-24zM138 547h22v2h-22zM308 547h10v2h-10zM344 547h16v2h-16zM392 547h30v2h-30zM482 547h94v2h-94zM138 549h20v2h-20zM308 549h10v2h-10zM344 549h16v2h-16zM394 549h28v2h-28zM484 549h90v2h-90zM140 551h16v2h-16zM308 551h10v2h-10zM346 551h16v2h-16zM394 551h30v2h-30zM488 551h84v2h-84zM144 553h8v2h-8zM308 553h8v2h-8zM346 553h18v2h-18zM394 553h32v2h-32zM490 553h78v2h-78zM308 555h8v2h-8zM348 555h18v2h-18zM396 555h30v2h-30zM496 555h70v2h-70zM306 557h10v2h-10zM348 557h18v2h-18zM396 557h32v2h-32zM518 557h44v2h-44zM306 559h10v2h-10zM350 559h18v2h-18zM396 559h32v2h-32zM526 559h32v2h-32zM306 561h8v2h-8zM350 561h20v2h-20zM396 561h34v2h-34zM532 561h20v2h-20z"/><path fill="#ff9700" d="M354 141h4v2h-4zM350 143h10v2h-10zM348 145h14v2h-14zM348 147h14v2h-14zM346 149h16v2h-16zM346 151h14v2h-14zM344 153h16v2h-16zM342 155h16v2h-16zM340 157h18v2h-18zM334 159h22v2h-22zM328 161h28v2h-28zM324 163h30v2h-30zM322 165h32v2h-32zM322 167h6v2h-6zM342 167h10v2h-10zM320 169h6v2h-6zM342 169h10v2h-10zM320 171h4v2h-4zM342 171h8v2h-8zM320 173h4v2h-4zM342 173h8v2h-8zM318 175h4v2h-4zM342 175h6v2h-6zM318 177h4v2h-4zM340 177h6v2h-6zM318 179h4v2h-4zM338 179h8v2h-8zM316 181h4v2h-4zM338 181h6v2h-6zM316 183h4v2h-4zM336 183h6v2h-6zM316 185h4v2h-4zM336 185h4v2h-4zM316 187h6v2h-6zM334 187h6v2h-6zM316 189h6v2h-6zM332 189h6v2h-6zM316 191h6v2h-6zM332 191h6v2h-6zM318 193h6v2h-6zM330 193h6v2h-6zM318 195h18v2h-18zM318 197h18v2h-18zM320 199h16v2h-16zM322 201h12v2h-12zM324 203h8v2h-8zM668 207h7v2h-7zM662 209h13v2h-13zM658 211h17v2h-17zM656 213h19v2h-19zM656 215h19v2h-19zM654 217h14v2h-14zM674 217h1v2h-1zM654 219h12v2h-12zM654 221h10v2h-10zM654 223h10v2h-10zM656 225h8v2h-8zM656 227h10v2h-10zM656 229h14v2h-14zM674 229h1v2h-1zM658 231h17v2h-17zM660 233h15v2h-15zM662 235h13v2h-13zM666 237h9v2h-9zM672 239h3v2h-3zM610 253h14v2h-14zM608 255h18v2h-18zM604 257h24v2h-24zM602 259h10v2h-10zM624 259h6v2h-6zM598 261h12v2h-12zM626 261h6v2h-6zM596 263h10v2h-10zM626 263h6v2h-6zM592 265h12v2h-12zM628 265h6v2h-6zM586 267h16v2h-16zM628 267h6v2h-6zM580 269h18v2h-18zM628 269h6v2h-6zM574 271h22v2h-22zM628 271h8v2h-8zM566 273h24v2h-24zM628 273h8v2h-8zM558 275h28v2h-28zM628 275h8v2h-8zM554 277h28v2h-28zM626 277h10v2h-10zM550 279h30v2h-30zM624 279h12v2h-12zM548 281h24v2h-24zM622 281h14v2h-14zM546 283h12v2h-12zM594 283h40v2h-40zM544 285h12v2h-12zM590 285h42v2h-42zM542 287h10v2h-10zM586 287h46v2h-46zM540 289h12v2h-12zM582 289h48v2h-48zM538 291h12v2h-12zM578 291h48v2h-48zM534 293h14v2h-14zM576 293h20v2h-20zM614 293h6v2h-6zM528 295h18v2h-18zM574 295h20v2h-20zM522 297h22v2h-22zM570 297h20v2h-20zM518 299h24v2h-24zM566 299h24v2h-24zM516 301h20v2h-20zM560 301h28v2h-28zM424 303h26v2h-26zM514 303h16v2h-16zM554 303h32v2h-32zM420 305h36v2h-36zM510 305h16v2h-16zM552 305h32v2h-32zM420 307h40v2h-40zM508 307h14v2h-14zM552 307h30v2h-30zM418 309h44v2h-44zM504 309h16v2h-16zM550 309h32v2h-32zM418 311h16v2h-16zM438 311h26v2h-26zM498 311h18v2h-18zM550 311h30v2h-30zM418 313h12v2h-12zM444 313h30v2h-30zM482 313h32v2h-32zM550 313h28v2h-28zM418 315h10v2h-10zM448 315h62v2h-62zM550 315h26v2h-26zM418 317h8v2h-8zM450 317h56v2h-56zM550 317h24v2h-24zM418 319h8v2h-8zM450 319h50v2h-50zM550 319h24v2h-24zM418 321h6v2h-6zM452 321h42v2h-42zM550 321h22v2h-22zM418 323h6v2h-6zM452 323h38v2h-38zM550 323h22v2h-22zM418 325h6v2h-6zM454 325h32v2h-32zM548 325h22v2h-22zM418 327h6v2h-6zM454 327h30v2h-30zM548 327h22v2h-22zM418 329h6v2h-6zM454 329h28v2h-28zM546 329h22v2h-22zM418 331h6v2h-6zM454 331h26v2h-26zM544 331h22v2h-22zM418 333h6v2h-6zM454 333h26v2h-26zM542 333h20v2h-20zM418 335h6v2h-6zM452 335h28v2h-28zM538 335h22v2h-22zM418 337h6v2h-6zM452 337h28v2h-28zM534 337h22v2h-22zM418 339h6v2h-6zM452 339h26v2h-26zM530 339h22v2h-22zM418 341h8v2h-8zM450 341h28v2h-28zM526 341h20v2h-20zM418 343h8v2h-8zM450 343h28v2h-28zM524 343h18v2h-18zM418 345h8v2h-8zM450 345h28v2h-28zM522 345h16v2h-16zM418 347h8v2h-8zM448 347h30v2h-30zM520 347h14v2h-14zM418 349h10v2h-10zM448 349h30v2h-30zM518 349h12v2h-12zM416 351h12v2h-12zM448 351h30v2h-30zM516 351h12v2h-12zM416 353h12v2h-12zM446 353h32v2h-32zM516 353h10v2h-10zM416 355h12v2h-12zM446 355h32v2h-32zM514 355h10v2h-10zM414 357h14v2h-14zM444 357h34v2h-34zM514 357h8v2h-8zM414 359h14v2h-14zM444 359h34v2h-34zM512 359h8v2h-8zM412 361h16v2h-16zM442 361h36v2h-36zM512 361h8v2h-8zM412 363h14v2h-14zM442 363h34v2h-34zM512 363h6v2h-6zM410 365h16v2h-16zM442 365h34v2h-34zM510 365h8v2h-8zM408 367h16v2h-16zM442 367h32v2h-32zM510 367h6v2h-6zM406 369h16v2h-16zM440 369h34v2h-34zM510 369h6v2h-6zM404 371h16v2h-16zM440 371h34v2h-34zM508 371h6v2h-6zM402 373h18v2h-18zM440 373h32v2h-32zM506 373h8v2h-8zM400 375h18v2h-18zM440 375h32v2h-32zM504 375h8v2h-8zM398 377h20v2h-20zM440 377h32v2h-32zM504 377h8v2h-8zM394 379h22v2h-22zM440 379h32v2h-32zM502 379h8v2h-8zM392 381h22v2h-22zM438 381h34v2h-34zM500 381h10v2h-10zM390 383h20v2h-20zM438 383h34v2h-34zM498 383h12v2h-12zM386 385h20v2h-20zM438 385h36v2h-36zM496 385h12v2h-12zM384 387h16v2h-16zM440 387h34v2h-34zM496 387h12v2h-12zM382 389h12v2h-12zM440 389h34v2h-34zM494 389h14v2h-14zM380 391h10v2h-10zM440 391h34v2h-34zM494 391h14v2h-14zM378 393h10v2h-10zM442 393h34v2h-34zM492 393h14v2h-14zM376 395h8v2h-8zM444 395h30v2h-30zM492 395h14v2h-14zM374 397h8v2h-8zM448 397h18v2h-18zM492 397h14v2h-14zM372 399h8v2h-8zM492 399h14v2h-14zM370 401h8v2h-8zM494 401h12v2h-12zM368 403h8v2h-8zM494 403h12v2h-12zM366 405h8v2h-8zM494 405h12v2h-12zM364 407h8v2h-8zM494 407h14v2h-14zM362 409h8v2h-8zM494 409h14v2h-14zM362 411h6v2h-6zM494 411h14v2h-14zM360 413h6v2h-6zM494 413h14v2h-14zM358 415h8v2h-8zM492 415h14v2h-14zM356 417h8v2h-8zM492 417h14v2h-14zM356 419h6v2h-6zM490 419h16v2h-16zM354 421h8v2h-8zM488 421h18v2h-18zM352 423h8v2h-8zM486 423h20v2h-20zM350 425h8v2h-8zM484 425h22v2h-22zM348 427h8v2h-8zM482 427h24v2h-24zM344 429h10v2h-10zM480 429h26v2h-26zM342 431h8v2h-8zM478 431h28v2h-28zM338 433h10v2h-10zM476 433h30v2h-30zM334 435h10v2h-10zM474 435h34v2h-34zM332 437h8v2h-8zM474 437h34v2h-34zM328 439h10v2h-10zM472 439h38v2h-38zM322 441h12v2h-12zM472 441h38v2h-38zM308 443h22v2h-22zM472 443h40v2h-40zM300 445h24v2h-24zM472 445h42v2h-42zM272 447h44v2h-44zM472 447h44v2h-44zM266 449h40v2h-40zM472 449h46v2h-46zM264 451h36v2h-36zM472 451h46v2h-46zM262 453h30v2h-30zM474 453h46v2h-46zM260 455h26v2h-26zM476 455h46v2h-46zM258 457h22v2h-22zM368 457h12v2h-12zM478 457h44v2h-44zM254 459h22v2h-22zM362 459h24v2h-24zM480 459h44v2h-44zM252 461h20v2h-20zM356 461h36v2h-36zM484 461h42v2h-42zM250 463h20v2h-20zM348 463h50v2h-50zM486 463h42v2h-42zM246 465h24v2h-24zM340 465h64v2h-64zM488 465h44v2h-44zM240 467h28v2h-28zM334 467h84v2h-84zM492 467h44v2h-44zM234 469h32v2h-32zM330 469h100v2h-100zM494 469h48v2h-48zM230 471h34v2h-34zM326 471h110v2h-110zM496 471h52v2h-52zM226 473h38v2h-38zM324 473h116v2h-116zM498 473h54v2h-54zM222 475h42v2h-42zM322 475h120v2h-120zM502 475h54v2h-54zM220 477h42v2h-42zM320 477h124v2h-124zM504 477h56v2h-56zM216 479h46v2h-46zM318 479h128v2h-128zM508 479h32v2h-32zM544 479h22v2h-22zM124 481h2v2h-2zM214 481h48v2h-48zM318 481h20v2h-20zM378 481h70v2h-70zM516 481h8v2h-8zM548 481h24v2h-24zM124 483h6v2h-6zM210 483h54v2h-54zM316 483h18v2h-18zM388 483h60v2h-60zM552 483h24v2h-24zM124 485h10v2h-10zM168 485h20v2h-20zM200 485h64v2h-64zM312 485h20v2h-20zM396 485h54v2h-54zM556 485h22v2h-22zM124 487h16v2h-16zM164 487h104v2h-104zM306 487h24v2h-24zM406 487h44v2h-44zM562 487h18v2h-18zM126 489h26v2h-26zM162 489h108v2h-108zM296 489h34v2h-34zM416 489h36v2h-36zM566 489h16v2h-16zM130 491h146v2h-146zM286 491h42v2h-42zM422 491h32v2h-32zM570 491h14v2h-14zM134 493h192v2h-192zM428 493h26v2h-26zM570 493h14v2h-14zM136 495h188v2h-188zM432 495h24v2h-24zM572 495h12v2h-12zM138 497h180v2h-180zM436 497h22v2h-22zM572 497h14v2h-14zM140 499h74v2h-74zM220 499h82v2h-82zM438 499h22v2h-22zM572 499h14v2h-14zM140 501h68v2h-68zM226 501h62v2h-62zM442 501h20v2h-20zM572 501h14v2h-14zM140 503h66v2h-66zM234 503h20v2h-20zM444 503h20v2h-20zM572 503h14v2h-14zM140 505h64v2h-64zM446 505h20v2h-20zM572 505h12v2h-12zM140 507h62v2h-62zM448 507h20v2h-20zM572 507h12v2h-12zM140 509h60v2h-60zM452 509h18v2h-18zM570 509h14v2h-14zM140 511h58v2h-58zM454 511h20v2h-20zM570 511h14v2h-14zM138 513h60v2h-60zM458 513h18v2h-18zM568 513h16v2h-16zM138 515h18v2h-18zM164 515h34v2h-34zM460 515h20v2h-20zM566 515h16v2h-16zM136 517h18v2h-18zM164 517h34v2h-34zM464 517h20v2h-20zM566 517h16v2h-16zM136 519h16v2h-16zM166 519h32v2h-32zM468 519h20v2h-20zM564 519h16v2h-16zM134 521h18v2h-18zM166 521h32v2h-32zM472 521h24v2h-24zM562 521h18v2h-18zM132 523h18v2h-18zM166 523h34v2h-34zM476 523h30v2h-30zM562 523h16v2h-16zM130 525h18v2h-18zM166 525h36v2h-36zM478 525h38v2h-38zM560 525h18v2h-18zM128 527h18v2h-18zM166 527h38v2h-38zM482 527h42v2h-42zM558 527h18v2h-18zM126 529h18v2h-18zM166 529h42v2h-42zM486 529h44v2h-44zM556 529h18v2h-18zM126 531h16v2h-16zM166 531h46v2h-46zM360 531h14v2h-14zM488 531h46v2h-46zM554 531h20v2h-20zM124 533h16v2h-16zM166 533h54v2h-54zM358 533h20v2h-20zM494 533h48v2h-48zM550 533h22v2h-22zM124 535h14v2h-14zM166 535h76v2h-76zM358 535h24v2h-24zM502 535h68v2h-68zM124 537h14v2h-14zM164 537h84v2h-84zM288 537h10v2h-10zM358 537h26v2h-26zM520 537h48v2h-48zM124 539h12v2h-12zM164 539h86v2h-86zM280 539h22v2h-22zM356 539h30v2h-30zM526 539h40v2h-40zM124 541h12v2h-12zM164 541h32v2h-32zM200 541h54v2h-54zM276 541h28v2h-28zM358 541h30v2h-30zM528 541h34v2h-34zM124 543h12v2h-12zM162 543h30v2h-30zM206 543h52v2h-52zM268 543h38v2h-38zM358 543h32v2h-32zM532 543h28v2h-28zM124 545h12v2h-12zM162 545h28v2h-28zM210 545h96v2h-96zM358 545h32v2h-32zM538 545h18v2h-18zM124 547h14v2h-14zM160 547h28v2h-28zM218 547h90v2h-90zM360 547h32v2h-32zM124 549h14v2h-14zM158 549h28v2h-28zM232 549h76v2h-76zM360 549h34v2h-34zM124 551h16v2h-16zM156 551h28v2h-28zM240 551h68v2h-68zM362 551h32v2h-32zM124 553h20v2h-20zM152 553h32v2h-32zM244 553h64v2h-64zM364 553h30v2h-30zM124 555h58v2h-58zM246 555h62v2h-62zM366 555h30v2h-30zM124 557h58v2h-58zM250 557h56v2h-56zM366 557h30v2h-30zM124 559h56v2h-56zM254 559h52v2h-52zM368 559h28v2h-28zM124 561h54v2h-54zM260 561h46v2h-46zM370 561h26v2h-26z"/><path fill="#ff8700" d="M328 167h14v2h-14zM326 169h16v2h-16zM324 171h18v2h-18zM324 173h18v2h-18zM322 175h20v2h-20zM322 177h18v2h-18zM322 179h16v2h-16zM320 181h18v2h-18zM320 183h16v2h-16zM320 185h16v2h-16zM322 187h12v2h-12zM322 189h10v2h-10zM322 191h10v2h-10zM324 193h6v2h-6zM668 217h6v2h-6zM666 219h9v2h-9zM664 221h11v2h-11zM664 223h11v2h-11zM664 225h11v2h-11zM666 227h9v2h-9zM670 229h4v2h-4zM612 259h12v2h-12zM610 261h16v2h-16zM606 263h20v2h-20zM604 265h24v2h-24zM602 267h26v2h-26zM598 269h30v2h-30zM596 271h32v2h-32zM590 273h38v2h-38zM586 275h42v2h-42zM582 277h44v2h-44zM580 279h44v2h-44zM572 281h50v2h-50zM558 283h36v2h-36zM556 285h34v2h-34zM552 287h34v2h-34zM552 289h30v2h-30zM550 291h28v2h-28zM548 293h28v2h-28zM546 295h28v2h-28zM544 297h26v2h-26zM542 299h24v2h-24zM536 301h24v2h-24zM530 303h24v2h-24zM526 305h26v2h-26zM522 307h30v2h-30zM520 309h30v2h-30zM434 311h4v2h-4zM516 311h34v2h-34zM430 313h14v2h-14zM514 313h36v2h-36zM428 315h20v2h-20zM510 315h40v2h-40zM426 317h24v2h-24zM506 317h44v2h-44zM426 319h24v2h-24zM500 319h50v2h-50zM424 321h28v2h-28zM494 321h56v2h-56zM424 323h28v2h-28zM490 323h60v2h-60zM424 325h30v2h-30zM486 325h62v2h-62zM424 327h30v2h-30zM484 327h64v2h-64zM424 329h30v2h-30zM482 329h64v2h-64zM424 331h30v2h-30zM480 331h64v2h-64zM424 333h30v2h-30zM480 333h62v2h-62zM424 335h28v2h-28zM480 335h58v2h-58zM424 337h28v2h-28zM480 337h54v2h-54zM424 339h28v2h-28zM478 339h52v2h-52zM426 341h24v2h-24zM478 341h48v2h-48zM426 343h24v2h-24zM478 343h46v2h-46zM426 345h24v2h-24zM478 345h44v2h-44zM426 347h22v2h-22zM478 347h42v2h-42zM428 349h20v2h-20zM478 349h40v2h-40zM428 351h20v2h-20zM478 351h38v2h-38zM428 353h18v2h-18zM478 353h38v2h-38zM428 355h18v2h-18zM478 355h36v2h-36zM428 357h16v2h-16zM478 357h36v2h-36zM428 359h16v2h-16zM478 359h34v2h-34zM428 361h14v2h-14zM478 361h34v2h-34zM426 363h16v2h-16zM476 363h36v2h-36zM426 365h16v2h-16zM476 365h34v2h-34zM424 367h18v2h-18zM474 367h36v2h-36zM422 369h18v2h-18zM474 369h36v2h-36zM420 371h20v2h-20zM474 371h34v2h-34zM420 373h20v2h-20zM472 373h34v2h-34zM418 375h22v2h-22zM472 375h32v2h-32zM418 377h22v2h-22zM472 377h32v2h-32zM416 379h24v2h-24zM472 379h30v2h-30zM414 381h24v2h-24zM472 381h28v2h-28zM410 383h28v2h-28zM472 383h26v2h-26zM406 385h32v2h-32zM474 385h22v2h-22zM400 387h40v2h-40zM474 387h22v2h-22zM394 389h46v2h-46zM474 389h20v2h-20zM390 391h50v2h-50zM474 391h20v2h-20zM388 393h54v2h-54zM476 393h16v2h-16zM384 395h60v2h-60zM474 395h18v2h-18zM382 397h66v2h-66zM466 397h26v2h-26zM380 399h112v2h-112zM378 401h116v2h-116zM376 403h118v2h-118zM374 405h16v2h-16zM404 405h90v2h-90zM372 407h14v2h-14zM408 407h86v2h-86zM370 409h14v2h-14zM410 409h84v2h-84zM368 411h14v2h-14zM414 411h80v2h-80zM366 413h16v2h-16zM416 413h78v2h-78zM366 415h14v2h-14zM420 415h72v2h-72zM364 417h16v2h-16zM424 417h68v2h-68zM362 419h18v2h-18zM426 419h64v2h-64zM362 421h20v2h-20zM428 421h60v2h-60zM360 423h22v2h-22zM428 423h58v2h-58zM358 425h26v2h-26zM430 425h54v2h-54zM356 427h30v2h-30zM430 427h52v2h-52zM354 429h34v2h-34zM430 429h50v2h-50zM350 431h38v2h-38zM430 431h48v2h-48zM348 433h42v2h-42zM428 433h48v2h-48zM344 435h50v2h-50zM428 435h46v2h-46zM340 437h56v2h-56zM424 437h50v2h-50zM338 439h62v2h-62zM422 439h50v2h-50zM334 441h72v2h-72zM418 441h54v2h-54zM330 443h142v2h-142zM324 445h148v2h-148zM316 447h156v2h-156zM306 449h166v2h-166zM300 451h172v2h-172zM292 453h182v2h-182zM286 455h190v2h-190zM280 457h88v2h-88zM380 457h98v2h-98zM276 459h86v2h-86zM386 459h94v2h-94zM272 461h84v2h-84zM392 461h92v2h-92zM270 463h78v2h-78zM398 463h88v2h-88zM270 465h70v2h-70zM404 465h84v2h-84zM268 467h66v2h-66zM418 467h74v2h-74zM266 469h64v2h-64zM430 469h64v2h-64zM264 471h62v2h-62zM436 471h60v2h-60zM264 473h60v2h-60zM440 473h58v2h-58zM264 475h58v2h-58zM442 475h60v2h-60zM262 477h58v2h-58zM444 477h60v2h-60zM262 479h56v2h-56zM446 479h62v2h-62zM540 479h4v2h-4zM262 481h56v2h-56zM448 481h68v2h-68zM524 481h24v2h-24zM264 483h52v2h-52zM448 483h104v2h-104zM264 485h48v2h-48zM450 485h26v2h-26zM492 485h64v2h-64zM268 487h38v2h-38zM450 487h26v2h-26zM494 487h68v2h-68zM124 489h2v2h-2zM270 489h26v2h-26zM452 489h22v2h-22zM498 489h68v2h-68zM124 491h6v2h-6zM276 491h10v2h-10zM454 491h20v2h-20zM500 491h70v2h-70zM124 493h10v2h-10zM454 493h20v2h-20zM502 493h68v2h-68zM124 495h12v2h-12zM456 495h20v2h-20zM504 495h68v2h-68zM124 497h14v2h-14zM458 497h18v2h-18zM506 497h66v2h-66zM124 499h16v2h-16zM460 499h18v2h-18zM508 499h64v2h-64zM124 501h16v2h-16zM462 501h18v2h-18zM508 501h64v2h-64zM124 503h16v2h-16zM464 503h18v2h-18zM508 503h64v2h-64zM124 505h16v2h-16zM466 505h20v2h-20zM506 505h66v2h-66zM124 507h16v2h-16zM468 507h22v2h-22zM502 507h70v2h-70zM124 509h16v2h-16zM470 509h100v2h-100zM124 511h16v2h-16zM474 511h96v2h-96zM124 513h14v2h-14zM476 513h92v2h-92zM124 515h14v2h-14zM480 515h86v2h-86zM124 517h12v2h-12zM484 517h82v2h-82zM124 519h12v2h-12zM488 519h76v2h-76zM124 521h10v2h-10zM496 521h66v2h-66zM124 523h8v2h-8zM506 523h56v2h-56zM124 525h6v2h-6zM516 525h44v2h-44zM124 527h4v2h-4zM524 527h34v2h-34zM124 529h2v2h-2zM530 529h26v2h-26zM124 531h2v2h-2zM534 531h20v2h-20zM542 533h8v2h-8zM196 541h4v2h-4zM192 543h14v2h-14zM190 545h20v2h-20zM188 547h30v2h-30zM186 549h46v2h-46zM184 551h56v2h-56zM184 553h60v2h-60zM182 555h64v2h-64zM182 557h68v2h-68zM180 559h74v2h-74zM178 561h82v2h-82z"/><path fill="#ff7800" d="M390 405h14v2h-14zM386 407h22v2h-22zM384 409h26v2h-26zM382 411h32v2h-32zM382 413h34v2h-34zM380 415h40v2h-40zM380 417h44v2h-44zM380 419h46v2h-46zM382 421h46v2h-46zM382 423h46v2h-46zM384 425h46v2h-46zM386 427h44v2h-44zM388 429h42v2h-42zM388 431h42v2h-42zM390 433h38v2h-38zM394 435h34v2h-34zM396 437h28v2h-28zM400 439h22v2h-22zM406 441h12v2h-12zM476 485h16v2h-16zM476 487h18v2h-18zM474 489h24v2h-24zM474 491h26v2h-26zM474 493h28v2h-28zM476 495h28v2h-28zM476 497h30v2h-30zM478 499h30v2h-30zM480 501h28v2h-28zM482 503h26v2h-26zM486 505h20v2h-20zM490 507h12v2h-12z"/></g><path d="M123 54 359.4 54 359.4 62.5 350 62.5 350 70.6 333.1 70.6 333.1 78.1 324.4 78.1 324.4 86.25 315.6 86.25 315.6 93.1 306.9 93.1 306.9 145.2 297.6 145.2 297.6 151.5 298.5 151.5 298.5 161 290.3 161 290.3 220.6 280.9 220.6 280.9 229.3 228.8 229.3 228.8 237 212.4 237 212.4 244.3 203.3 244.3 203.3 252.2 186.1 252.2 186.1 259.4 177.2 259.4 177.2 267.5 169.6 267.5 169.6 281 168.6 281 168.6 289 159.7 289 159.7 303.5 150.8 303.5 150.8 386.8 143.2 386.8 143.2 410 135.8 410 135.8 433.6 142.6 433.6 142.6 454.3 133.5 454.3 133.5 469.8 123 469.8Z" fill="#fff"/><clipPath id="pc"><rect x="125" y="56" width="549" height="507"/></clipPath><path clip-path="url(#pc)" d="M123 145.2 135 148.25 145 150.75 151.25 152.5 165 152 165.75 148.25 162.5 145.75 167.5 140.75 171.25 136.25 176.25 139.5 182 143.25 187.5 142.5 192.5 137 200 132 210 128.25 218.75 124.5 223.75 120.75 230 119.5 237.5 116.5 242.5 118.25 251.25 116.5 255 116 261.5 118.6 267.9 120.6 274.4 123.2 280.9 126.4 286 131.6 289.3 136.7 290.6 143.2 290.6 149.7 289.9 154.9 283.5 155.5 284.8 158.7 288.8 163.7 291.7 166.6 289.8 170.5 287.9 176.3 286.9 186 285 197.7 282 209.3 279.1 217.1 274.3 221 265.5 222.5 250 225.4 231.5 225.4 222.8 226.9 215.5 229.2 208.2 231.7 199.5 234.6 193.7 237.5M351 54 340 62.5 328.75 70 317.5 77.5 307.5 83.75 297.7 88.9 291.2 95.3 286 100.5 280.9 107 280.2 109.6 282.2 112.8 286 116 289.3 112.2 293.8 115.4 296.4 116 300.9 112.8 301.6 114.8 300.3 121.2 302.2 127.7 302.9 134.2 300.3 140.6 298.3 147.1 296.4 153.6 294.5 155.5 289.9 155.5M297.5 86.25 300 85 303.75 83.1 307.5 81.25 313.1 78.75 316.25 76.9 311 74 308.75 71.25 311.25 65 315 62.5 320.6 61.25 325 65.6 326.9 61.25 327.5 56.9 330 60 331.25 55M283.75 55 282.5 68.75 279.4 76.25 278.75 87.5 281.25 96.25 288.75 98.1 293.1 97.5M291.9 55 291.9 71.25 296.9 78.1 297.5 86.25 300 87.5M214 228 214.8 223.7 215.5 219.3 208.2 218.6 201.7 216.4 200.2 209.1 200.9 204.7 205.3 200.4 211.1 198.2 209.7 196 203.9 192.4 195.1 190.9 190 189.5 185 193.1 179.1 197.5 176.2 204.7 178.4 212 185 217.8 186.4 223.7 185 230.2 179.1 232.4 171.8 235.3 168.2 240 165.4 245.2 164.8 251.6 168.6 252.3 176.4 247.8 181.6 243.9 186.7 242.6 190.6 243.9 191.9 246.5 189.3 249.1 186.7 250.3M190.8 234.6 193.7 241.1 205.3 236.8 211.1 233.1 209 231.5M189.3 247.8 184.2 250.3 173.8 254.2 166 258.1 160.9 263.3 159.6 276.2 160.2 281.4 164.8 274.9 173.8 265.9 184.2 258.1 188 255M190 252 185.5 259.4 177.7 267.2 171.2 274.9 164.8 281.4 158.3 287.9 154.4 295.6 151.8 303.4 145.3 304.7 142.8 308.6 142.1 315 144.3 322.1 146.7 330.2 142.7 335.1 145.1 341.5 146.7 352.9 145.9 365.8 143.5 375 141 378.4 138 386 135.8 393.2 135.8 402.6 133.7 412 134.7 422.6 136.1 431.6 138.7 438.1 137.4 443.3 133.5 449.8 129.6 454.9 123 461M123 403.7 135.8 403.7" fill="none" stroke="#000" stroke-width="3" stroke-linejoin="round" stroke-linecap="round"/><path d="M194.5 59V563M265.5 59V563M336.5 59V563M407.5 59V563M477.5 59V563M548.5 59V563M619.5 59V563M130 530.5H674M130 445.5H674M130 360.5H674M130 276.5H674M130 191.5H674M130 106.5H674" stroke="#a0a0a0" stroke-width="1" stroke-dasharray="2 4.6" fill="none"/><path d="M307.5 95 313.75 93.25 318.75 98.25 325 98.25 332.5 93.25 340 94.5 342 95 359 100.75 372.5 104.5 385 112 390 118.25 391.25 127 395 139.5 392.5 152 387.5 162 382.5 172 377 180 371.25 185 368.75 195 372.5 202.5 380 205 390 200 400 192.5 410 191.25 417.5 192.5 427.5 198.75 437.5 200 450 202.5 462.5 206.25 475 205 490 202.5 497.5 205 502.5 198.75 507.5 195 513.75 198.75 516 200 531 203 535 199 540 192.5 547.5 182.5 555 176.25 562.5 172 580 164.5 595 159.5 612.5 157 630 154.5 645 152 660 149.5 675 148.25M387.5 55.5 397.5 64.5 405 77 408.75 92 410 102 415 112 422.5 124.5 425 132 420 144.5 416.25 154.5 417.5 165.75 427.5 168.25 440 168.25 452.5 172 465 170.75 480 165.75 492.5 163.25 512.5 164.5 520 169.5 527.5 172 540 167 550 159.5 560 149.5 567.5 142 580 140.75 595 140.75 610 142 625 143.25 640 139.5 655 134.5 667.5 130.75 675 125.75M422.5 55.5 422.5 67 427.5 82 435 94.5 442.5 104.5 450 117 455 132 462.5 147 472.5 150.75 480 148.25 492.5 144.5 505 139.5 511.25 132 511.25 119.5 508.75 109.5 510 105.75 515 105.75 521.25 110.75 530 115 541.25 117 550 107 560 99.5 575 89.5 587.5 90.75 600 94.5 615 100.75 627.5 104.5 640 100.75 655 97 665 95.75 675 97M572.5 55.5 573.75 62 585 69.5 600 75.75 615 82 627.5 87 640 85.75 655 83.25 675 82M637.5 55.5 636.25 64.5 640 72 655 77 675 79.5M341 134.6 341 145.6 336.8 152 328 154.3 319.3 155.4 315 162 315 171.8 312.8 180.5 310.6 189.3 312.8 200.2 317 209 322.5 213.5 330 217.5 337.5 216.25 343.75 212.5 345.6 206.8 345.6 198 342 191.4 350 187 357.5 178.4 360.8 171.8 363 163 367.4 152 371.8 145.6 374 138 367.5 133.6 352 132.5 349 132M307 108 313 107 318.75 110 316 114 309 114.5 307 114M307 129.5 315 131 323.75 136.5 318 141 308 142 307 142M415 207.5 422.5 201.25 435 200 447.5 207.5 460 216.25 467.5 222.5 466.25 232.5 460 240 453.75 245 445 246 437.5 241.25 432.5 232.5 427.5 225 422.5 217.5 415 210ZM565 197 567 194 571 195 576 199 577.5 204 575 207.5 570 205 565.5 200ZM528.75 244.5 517.5 245 505 246.25 492.5 248.75 485 252.5 481.25 258.75 485 266.25 492.5 271.25 498 272 505 271.25 512.5 267.5 516.25 261.25 517.5 252.5 521.25 247.5ZM298.3 161 307 169 304.1 173.5 298.3 182.2 296.8 191 296.1 202.6 298.3 210 302 218.6 303.4 230 301.5 232 294 232.5 284 232.5M210 267 215 272 216 282 210 287 200 285 198 278 203 271ZM161.5 292.5 165.25 300 164 310 157.75 317.5 151.5 325M162 340 165 327.5 174 315 186.5 306 199 299 219 297.5 231.5 298 244 300 256 303 260.25 307 257 311.5 244 316.25 229 321.25 211.5 325 199 330 186.5 337.5 174 342.5 168 343ZM303 380 307 376 314 375.5 319 379 317 384 310 385 304 383.5ZM296 398 300 394 306 393 312 398 321.5 402 315 406 308 408.5 299 405ZM185.25 257.5 199 251.25 211.5 245 224 237.5 231.5 235 235.25 240 235.25 250 230.25 257.5 229 267.5 231.5 273.75 238 281 249 278.75 256.5 275 264 265 274 260 286.5 263.75 299 268.75 311.5 272.5 324 275 332.5 275 345 278.75 347.5 287.5 344 298 341.25 305 337.5 320 338.75 335 343.75 347.5 352.5 358.75 357.5 367.5 360 382.5 355 386.25 345 390 337.5 395 342.5 402.5 337.5 412.5 330 420 320 423 308 422 299 417.5 294 412.5 289 405 286.5 395 281.5 390 274 386.25 266.5 387.5 256.5 391.25 246.5 392.5 239 385 229 375 224 365 220.25 356.25 214 351.25 210.25 345 205.25 341.25 199 341.25 191.5 347.5 184 357.5 176.5 370 171.5 385 169 400 161.5 417.5 152.75 430 147.5 438.6 144 445 142.6 447M128 468 128.5 476 134 481 141.5 475 149 467.5 154 460 156.5 452.5 164 442.5 171.5 433.75 179 425 184 420 194 416.5 206.5 420 221.5 423.75 229 427.5 236.5 436.25 249 438 259 433.75 266.5 427.5 272.75 428.75 279 435 289 438 299 438.75 307 439 314 438.75 325 434 335 428 346.25 420 350 415 357.5 405 367.5 395 377.5 382.5 385 372.5 392.5 362.5 400 352.5 406.25 340 407.5 327.5 405 318.75 395 312.5 382.5 308.75 370 307.5 368.75 301.25 375 296.25 387.5 293.75 405 292 425 290 445 292 462.5 294 480 297 489 300 495 300 500 297.5 507.5 292.5 515 285 523.75 277.5 530 271.25 540 265 550 261.25 562.5 260 577.5 257.5 590 255 597.5 251.25 597.5 243.75 593.75 238.75 585 233.75 580 228.75 582.5 227.5 592.5 225 602.5 223.75 610 225 620 231.25 627.5 237.5 632.5 245 637.5 255 646 263.75 653 264 662.5 263.75 668.75 258.75 660 252.5 650 247.5 640 237.5 635 225 631.25 215 630 206.25 635 201.25 645 196.25 655 195 665 195 675 193.75M675 318.75 655 320 642.5 321.25 630 325 617.5 328.75 607.5 333.75 600 336.25 587.5 341.25 577.5 343.75 565 348.75 552.5 352.5 542.5 356.25 532.5 362.5 525 370 521.25 377.5 521.25 390 523.75 402.5 527.5 415 532.5 425 536.25 437.5 540 447.5 547.5 455 555 461.25 560 465 567 467.5 575 467.5 585 461.25 595 455 602.5 447.5 610 440 627.5 440 632.5 446.25 636.25 456.25 635 472.5 632.5 487.5 630 500 632.5 515 637.5 522.5 640 537.5 637.5 547.5 630 555 622.5 562.5 620 564M675 517.5 670 520 667.5 525 668.75 532.5 675 533.75M324 563 325 559 329 557.5 332 560 333 563M291.7 160.8 291.2 169.6 290.7 179.3 290.2 187 289.7 192M294.1 160.8 293.6 169.6 292.6 179.3 291.2 189 290.2 195.8M297.5 160.8 297 174.4 296 183.2 293.6 191 290.7 197.7" fill="none" stroke="#000" stroke-width="1" stroke-linejoin="round" shape-rendering="crispEdges"/><g font-family="'Liberation Sans', sans-serif" font-size="11" fill="#000"><rect x="342.1" y="88.3" width="16.8" height="11.6" fill="#fff"/><text x="350.5" y="97.7" text-anchor="middle">9.5</text><rect x="335.3" y="123.2" width="13.6" height="11.2" fill="#fff"/><text x="342.1" y="132.2" text-anchor="middle">10</text><rect x="523.75" y="111.5" width="16.2" height="11.0" fill="#fff"/><text x="531.9" y="120.3" text-anchor="middle">8.5</text><rect x="519.5" y="167" width="7.5" height="11.0" fill="#fff"/><text x="523.2" y="175.8" text-anchor="middle">9</text><rect x="515" y="197" width="16.5" height="11.0" fill="#fff"/><text x="523.2" y="205.8" text-anchor="middle">9.5</text><rect x="437.5" y="243.5" width="16.5" height="11.0" fill="#fff"/><text x="445.8" y="252.3" text-anchor="middle">9.5</text><rect x="491" y="267" width="14.0" height="11.0" fill="#fff"/><text x="498.0" y="275.8" text-anchor="middle">10</text><rect x="482.5" y="294.5" width="14.0" height="11.0" fill="#fff"/><text x="489.5" y="303.3" text-anchor="middle">10</text><rect x="646" y="259.5" width="14.0" height="11.0" fill="#fff"/><text x="653.0" y="268.3" text-anchor="middle">10</text><rect x="264.5" y="230.5" width="17.0" height="11.0" fill="#fff"/><text x="273.0" y="239.3" text-anchor="middle">9.5</text><rect x="230" y="274.5" width="16.5" height="11.0" fill="#fff"/><text x="238.2" y="283.3" text-anchor="middle">9.5</text><rect x="164.5" y="337.5" width="9.0" height="11.5" fill="#fff"/><text x="169.0" y="346.8" text-anchor="middle">9</text><rect x="299.5" y="416" width="17.0" height="11.5" fill="#fff"/><text x="308.0" y="425.3" text-anchor="middle">9.5</text><rect x="300" y="433.5" width="14.0" height="11.0" fill="#fff"/><text x="307.0" y="442.3" text-anchor="middle">10</text><rect x="127.5" y="475.5" width="14.0" height="11.0" fill="#fff"/><text x="134.5" y="484.3" text-anchor="middle">10</text><rect x="560" y="462" width="14.0" height="11.0" fill="#fff"/><text x="567.0" y="470.8" text-anchor="middle">10</text></g><path d="M123 54h553v2h-553zM123 563h553v1.6h-553zM123 54h2v511h-2zM674 54h2v511h-2z" fill="#000"/><path d="M124.5 564.5V568M194.5 564.5V568M265.5 564.5V568M336.5 564.5V568M407.5 564.5V568M477.5 564.5V568M548.5 564.5V568M619.5 564.5V568M120 530.5H123M120 445.5H123M120 360.5H123M120 276.5H123M120 191.5H123M120 106.5H123" stroke="#000" stroke-width="1" fill="none"/><g font-family="'Liberation Sans', sans-serif" font-size="13.5" fill="#000"><text x="112.3" y="580" textLength="24.6" lengthAdjust="spacingAndGlyphs">28.5</text><text x="187.9" y="580" textLength="13.4" lengthAdjust="spacingAndGlyphs">29</text><text x="253.3" y="580" textLength="24.6" lengthAdjust="spacingAndGlyphs">29.5</text><text x="329.9" y="580" textLength="13.4" lengthAdjust="spacingAndGlyphs">30</text><text x="395.3" y="580" textLength="24.6" lengthAdjust="spacingAndGlyphs">30.5</text><text x="470.9" y="580" textLength="13.4" lengthAdjust="spacingAndGlyphs">31</text><text x="536.3" y="580" textLength="24.6" lengthAdjust="spacingAndGlyphs">31.5</text><text x="612.9" y="580" textLength="13.4" lengthAdjust="spacingAndGlyphs">32</text></g><g font-family="'Liberation Sans', sans-serif" font-size="12.6" fill="#000"><text x="103.8" y="535.1" textLength="14.0" lengthAdjust="spacingAndGlyphs">43</text><text x="93.0" y="450.1" textLength="24.8" lengthAdjust="spacingAndGlyphs">43.5</text><text x="103.8" y="365.1" textLength="14.0" lengthAdjust="spacingAndGlyphs">44</text><text x="93.0" y="281.1" textLength="24.8" lengthAdjust="spacingAndGlyphs">44.5</text><text x="103.8" y="196.1" textLength="14.0" lengthAdjust="spacingAndGlyphs">45</text><text x="93.0" y="111.1" textLength="24.8" lengthAdjust="spacingAndGlyphs">45.5</text></g><g font-family="'Liberation Sans', sans-serif" font-size="24" fill="#000" stroke="#fff" stroke-width="0.3"><text x="22.6" y="42" textLength="137.8" lengthAdjust="spacingAndGlyphs">Temperature</text><text x="177.8" y="42" textLength="104.2" lengthAdjust="spacingAndGlyphs">(Celsius).</text><text x="295.7" y="42" textLength="52.2" lengthAdjust="spacingAndGlyphs">Date</text><text x="360.7" y="42" textLength="134.1" lengthAdjust="spacingAndGlyphs">2014.04.11.</text><text x="512.8" y="42" textLength="53.8" lengthAdjust="spacingAndGlyphs">Time</text><text x="578.4" y="42" textLength="139.3" lengthAdjust="spacingAndGlyphs">00(h):00(m)</text><text x="728.4" y="42" textLength="48.8" lengthAdjust="spacingAndGlyphs">GMT</text></g><g font-family="'Liberation Sans', sans-serif" font-size="19" fill="#000"><text x="322.8" y="604.6" textLength="87.4" lengthAdjust="spacingAndGlyphs">Longitude</text><text x="420.8" y="604.6" textLength="55.4" lengthAdjust="spacingAndGlyphs">(East)</text><g transform="translate(81.8 0) rotate(-90)"><text x="-384.5" y="0" textLength="72.3" lengthAdjust="spacingAndGlyphs">Latitude</text><text x="-300.6" y="0" textLength="65" lengthAdjust="spacingAndGlyphs">(North)</text></g></g><g font-family="'Liberation Sans', sans-serif" font-size="18.7" fill="#333" stroke="#fff" stroke-width="0.45"><text x="146" y="109.6" textLength="13.4" lengthAdjust="spacingAndGlyphs">Z</text><text x="175" y="109.6" textLength="15" lengthAdjust="spacingAndGlyphs">=</text><text x="206" y="109.6" textLength="35" lengthAdjust="spacingAndGlyphs">2.5</text><text x="255" y="109.6" textLength="20.8" lengthAdjust="spacingAndGlyphs">m</text></g><g shape-rendering="crispEdges"><rect x="708" y="550.88" width="16" height="6.42" fill="#000086"/><rect x="708" y="544.75" width="16" height="6.42" fill="#000092"/><rect x="708" y="538.63" width="16" height="6.42" fill="#00009f"/><rect x="708" y="532.51" width="16" height="6.42" fill="#0000ac"/><rect x="708" y="526.38" width="16" height="6.42" fill="#0000b8"/><rect x="708" y="520.26" width="16" height="6.42" fill="#0000c5"/><rect x="708" y="514.14" width="16" height="6.42" fill="#0000d1"/><rect x="708" y="508.01" width="16" height="6.42" fill="#0000de"/><rect x="708" y="501.89" width="16" height="6.42" fill="#0000eb"/><rect x="708" y="495.77" width="16" height="6.42" fill="#0000f7"/><rect x="708" y="489.64" width="16" height="6.42" fill="#0005ff"/><rect x="708" y="483.52" width="16" height="6.42" fill="#0011ff"/><rect x="708" y="477.40" width="16" height="6.42" fill="#001eff"/><rect x="708" y="471.27" width="16" height="6.42" fill="#002aff"/><rect x="708" y="465.15" width="16" height="6.42" fill="#0037ff"/><rect x="708" y="459.02" width="16" height="6.42" fill="#0044ff"/><rect x="708" y="452.90" width="16" height="6.42" fill="#0050ff"/><rect x="708" y="446.78" width="16" height="6.42" fill="#005dff"/><rect x="708" y="440.65" width="16" height="6.42" fill="#0069ff"/><rect x="708" y="434.53" width="16" height="6.42" fill="#0076ff"/><rect x="708" y="428.41" width="16" height="6.42" fill="#0083ff"/><rect x="708" y="422.28" width="16" height="6.42" fill="#008fff"/><rect x="708" y="416.16" width="16" height="6.42" fill="#009cff"/><rect x="708" y="410.04" width="16" height="6.42" fill="#00a8ff"/><rect x="708" y="403.91" width="16" height="6.42" fill="#00b5ff"/><rect x="708" y="397.79" width="16" height="6.42" fill="#00c2ff"/><rect x="708" y="391.67" width="16" height="6.42" fill="#00ceff"/><rect x="708" y="385.54" width="16" height="6.42" fill="#00dbff"/><rect x="708" y="379.42" width="16" height="6.42" fill="#00e7ff"/><rect x="708" y="373.30" width="16" height="6.42" fill="#00f4ff"/><rect x="708" y="367.17" width="16" height="6.42" fill="#02fffd"/><rect x="708" y="361.05" width="16" height="6.42" fill="#0efff1"/><rect x="708" y="354.93" width="16" height="6.42" fill="#1bffe4"/><rect x="708" y="348.80" width="16" height="6.42" fill="#27ffd8"/><rect x="708" y="342.68" width="16" height="6.42" fill="#34ffcb"/><rect x="708" y="336.56" width="16" height="6.42" fill="#41ffbe"/><rect x="708" y="330.43" width="16" height="6.42" fill="#4dffb2"/><rect x="708" y="324.31" width="16" height="6.42" fill="#5affa5"/><rect x="708" y="318.19" width="16" height="6.42" fill="#66ff99"/><rect x="708" y="312.06" width="16" height="6.42" fill="#73ff8c"/><rect x="708" y="305.94" width="16" height="6.42" fill="#80ff80"/><rect x="708" y="299.81" width="16" height="6.42" fill="#8cff73"/><rect x="708" y="293.69" width="16" height="6.42" fill="#99ff66"/><rect x="708" y="287.57" width="16" height="6.42" fill="#a5ff5a"/><rect x="708" y="281.44" width="16" height="6.42" fill="#b2ff4d"/><rect x="708" y="275.32" width="16" height="6.42" fill="#beff41"/><rect x="708" y="269.20" width="16" height="6.42" fill="#cbff34"/><rect x="708" y="263.07" width="16" height="6.42" fill="#d8ff27"/><rect x="708" y="256.95" width="16" height="6.42" fill="#e4ff1b"/><rect x="708" y="250.83" width="16" height="6.42" fill="#f1ff0e"/><rect x="708" y="244.70" width="16" height="6.42" fill="#fdff02"/><rect x="708" y="238.58" width="16" height="6.42" fill="#fff400"/><rect x="708" y="232.46" width="16" height="6.42" fill="#ffe700"/><rect x="708" y="226.33" width="16" height="6.42" fill="#ffdb00"/><rect x="708" y="220.21" width="16" height="6.42" fill="#ffce00"/><rect x="708" y="214.09" width="16" height="6.42" fill="#ffc200"/><rect x="708" y="207.96" width="16" height="6.42" fill="#ffb500"/><rect x="708" y="201.84" width="16" height="6.42" fill="#ffa800"/><rect x="708" y="195.72" width="16" height="6.42" fill="#ff9c00"/><rect x="708" y="189.59" width="16" height="6.42" fill="#ff8f00"/><rect x="708" y="183.47" width="16" height="6.42" fill="#ff8300"/><rect x="708" y="177.35" width="16" height="6.42" fill="#ff7600"/><rect x="708" y="171.22" width="16" height="6.42" fill="#ff6900"/><rect x="708" y="165.10" width="16" height="6.42" fill="#ff5d00"/><rect x="708" y="158.98" width="16" height="6.42" fill="#ff5000"/><rect x="708" y="152.85" width="16" height="6.42" fill="#ff4400"/><rect x="708" y="146.73" width="16" height="6.42" fill="#ff3700"/><rect x="708" y="140.60" width="16" height="6.42" fill="#ff2a00"/><rect x="708" y="134.48" width="16" height="6.42" fill="#ff1e00"/><rect x="708" y="128.36" width="16" height="6.42" fill="#ff1100"/><rect x="708" y="122.23" width="16" height="6.42" fill="#ff0500"/><rect x="708" y="116.11" width="16" height="6.42" fill="#f70000"/><rect x="708" y="109.99" width="16" height="6.42" fill="#eb0000"/><rect x="708" y="103.86" width="16" height="6.42" fill="#de0000"/><rect x="708" y="97.74" width="16" height="6.42" fill="#d10000"/><rect x="708" y="91.62" width="16" height="6.42" fill="#c50000"/><rect x="708" y="85.49" width="16" height="6.42" fill="#b80000"/><rect x="708" y="79.37" width="16" height="6.42" fill="#ac0000"/><rect x="708" y="73.25" width="16" height="6.42" fill="#9f0000"/><rect x="708" y="67.12" width="16" height="6.42" fill="#920000"/><rect x="708" y="61.00" width="16" height="6.42" fill="#860000"/></g><g font-family="'Liberation Sans', sans-serif" font-size="13.5" fill="#000"><text x="735.1" y="73.8" textLength="29.3" lengthAdjust="spacingAndGlyphs">11.3</text><text x="735.1" y="189.8" textLength="29.3" lengthAdjust="spacingAndGlyphs">10.3</text><text x="734.2" y="311.8" textLength="30.2" lengthAdjust="spacingAndGlyphs">9.25</text><text x="734.2" y="433.8" textLength="29.0" lengthAdjust="spacingAndGlyphs">8.19</text><text x="734.2" y="556" textLength="30.2" lengthAdjust="spacingAndGlyphs">7.13</text></g></svg></body></html>
